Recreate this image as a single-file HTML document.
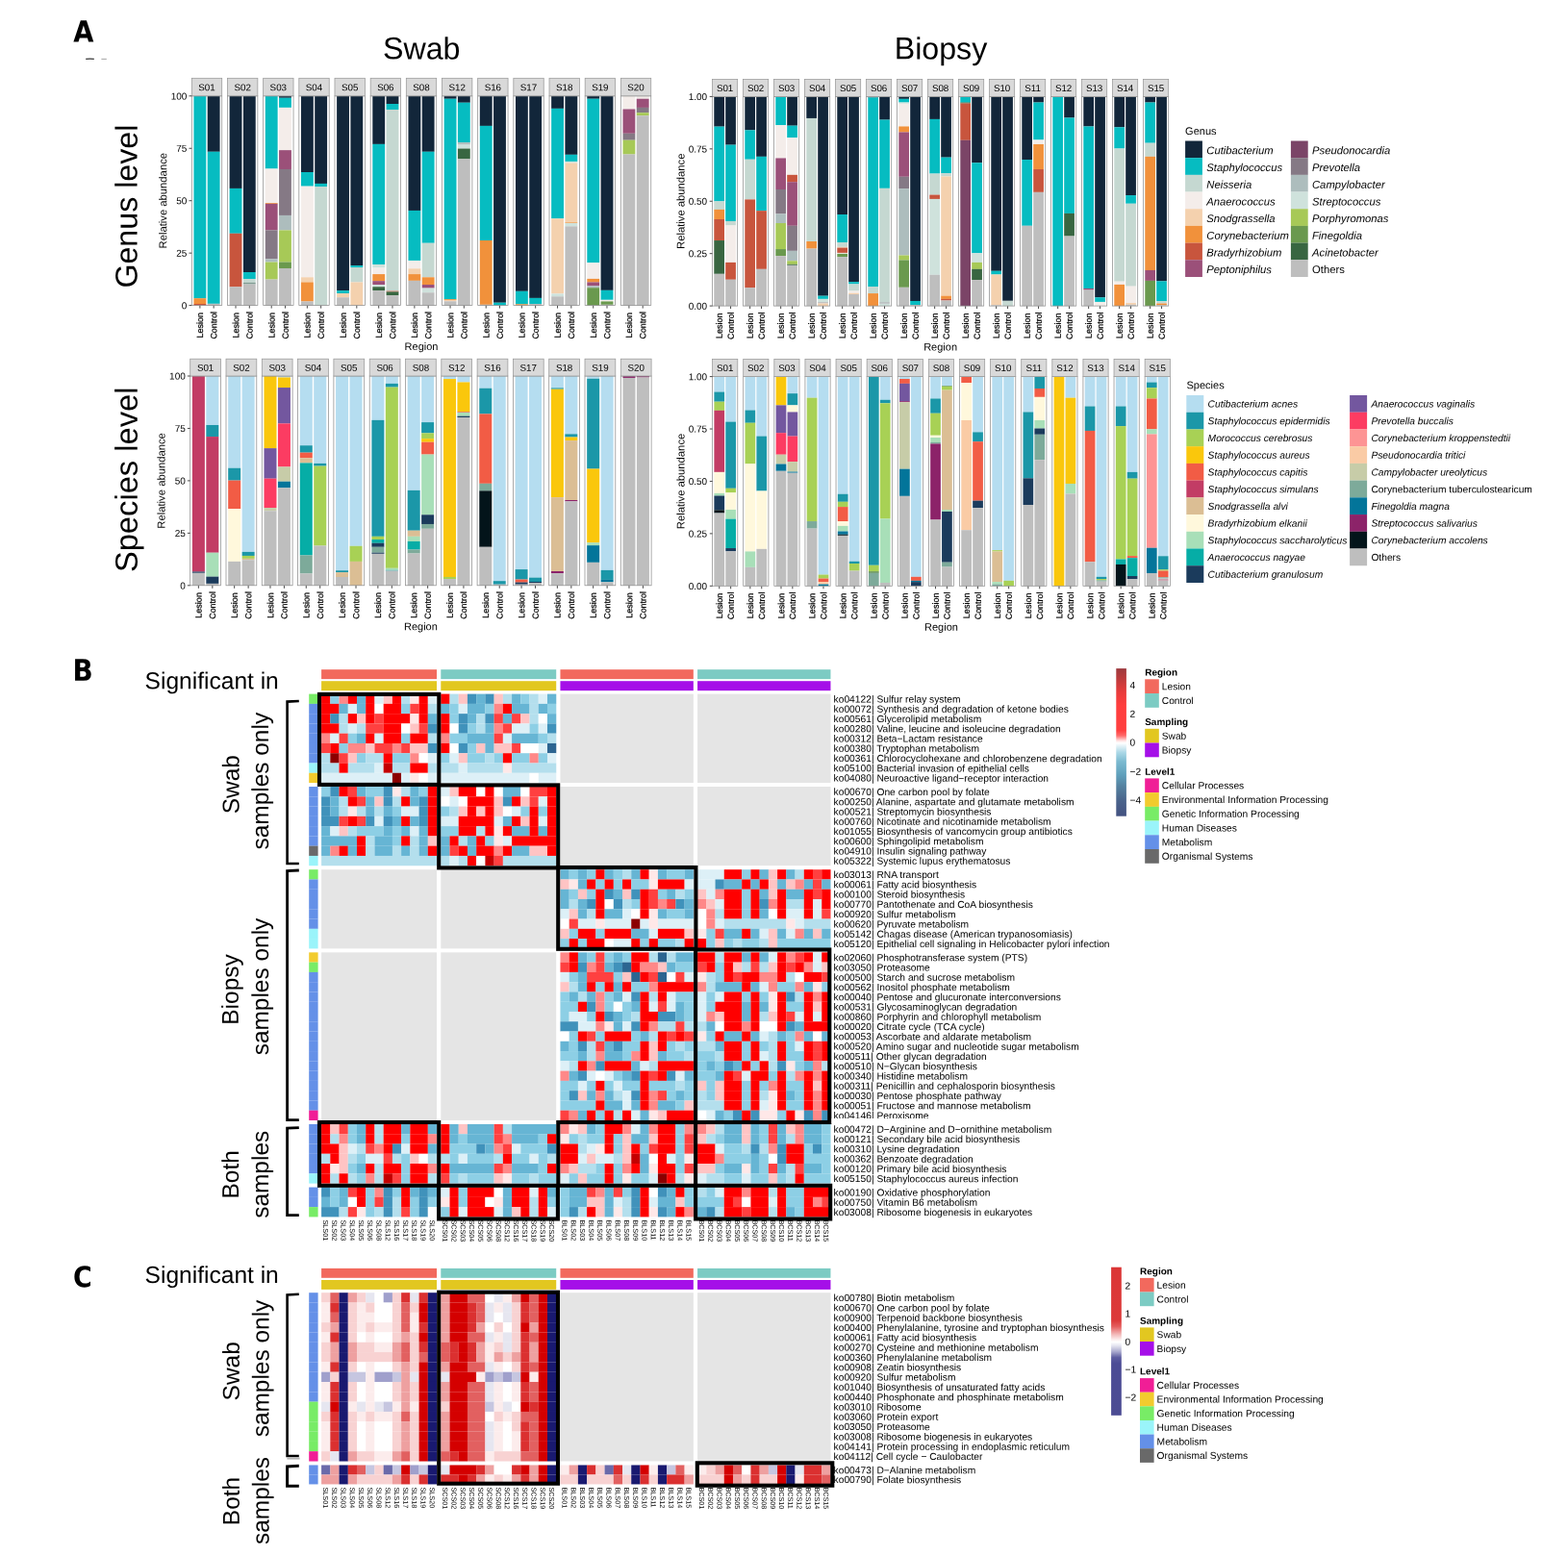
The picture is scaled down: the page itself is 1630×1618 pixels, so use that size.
<!DOCTYPE html>
<html lang="en">
<head>
<meta charset="utf-8">
<title>Microbiome composition and functional pathways: swab vs biopsy</title>
<style>
html,body{margin:0;padding:0;background:#fff;}
body{width:1630px;height:1618px;overflow:hidden;}
svg{display:block;font-family:"Liberation Sans",sans-serif;fill:#000;text-rendering:geometricPrecision;}
svg text{fill:#000;}
</style>
</head>
<body>
<svg width="1630" height="1618" viewBox="0 0 1630 1618">
<rect x="0" y="0" width="1630" height="1618" fill="#fff"/>
<g id="panelA">
<text x="76.2" y="43.5" font-size="30.4" font-weight="bold" font-family="'DejaVu Sans Condensed','DejaVu Sans','Liberation Sans',sans-serif" fill="#231F20" transform="rotate(0.03 76.2 43.5)">A</text>
<path d="M89.2 61.4 Q93.5 60.9 97.8 61.4" stroke="#222" stroke-width="1.3" fill="none" opacity="0.9"/>
<path d="M105.4 61.4 L110.8 61.4" stroke="#555" stroke-width="0.9" fill="none" opacity="0.6"/>
<text x="438.2" y="61.4" font-size="32.2" text-anchor="middle" transform="rotate(0.03 438.2 61.4)">Swab</text>
<text x="978" y="61.4" font-size="32.2" text-anchor="middle" transform="rotate(0.03 978 61.4)">Biopsy</text>
<text x="142.6" y="214.6" font-size="32.2" text-anchor="middle" transform="rotate(-89.97 142.6 214.6)">Genus level</text>
<text x="142.7" y="498.8" font-size="32.7" text-anchor="middle" transform="rotate(-89.97 142.7 498.8)">Species level</text>
<g>
<rect x="199.3" y="99.8" width="31.4" height="217.8" fill="#fff"/>
<rect x="201.44" y="99.8" width="12.85" height="210.45" fill="#06BCC1"/>
<rect x="201.44" y="310.2" width="12.85" height="5.85" fill="#F1913B"/>
<rect x="201.44" y="315.99" width="12.85" height="1.66" fill="#C8553D"/>
<line x1="207.86" y1="317.6" x2="207.86" y2="320.6" stroke="#333" stroke-width="0.9"/>
<text x="211.06" y="324.9" font-size="9" text-anchor="end" fill="#000" transform="rotate(-89.97 211.06 324.9)" stroke="#000" stroke-width="0.25">Lesion</text>
<rect x="215.71" y="99.8" width="12.85" height="58" fill="#12263A"/>
<rect x="215.71" y="157.75" width="12.85" height="158.13" fill="#06BCC1"/>
<rect x="215.71" y="315.83" width="12.85" height="1.82" fill="#BEBEBE"/>
<line x1="222.14" y1="317.6" x2="222.14" y2="320.6" stroke="#333" stroke-width="0.9"/>
<text x="225.34" y="323.9" font-size="8.9" text-anchor="end" fill="#000" transform="rotate(-89.97 225.34 323.9)" stroke="#000" stroke-width="0.25">Control</text>
<rect x="199.3" y="99.8" width="31.4" height="217.8" fill="none" stroke="#8f8f8f" stroke-width="0.75"/>
<rect x="199.3" y="81.3" width="31.4" height="18.5" fill="#D9D9D9" stroke="#999" stroke-width="0.75"/>
<text x="215" y="94.15" font-size="9.8" text-anchor="middle" fill="#1a1a1a" transform="rotate(0.03 215 94.15)">S01</text>
<rect x="236.47" y="99.8" width="31.4" height="217.8" fill="#fff"/>
<rect x="238.61" y="99.8" width="12.85" height="96.15" fill="#12263A"/>
<rect x="238.61" y="195.9" width="12.85" height="46.89" fill="#06BCC1"/>
<rect x="238.61" y="242.75" width="12.85" height="55.59" fill="#C8553D"/>
<rect x="238.61" y="298.28" width="12.85" height="19.37" fill="#BEBEBE"/>
<line x1="245.03" y1="317.6" x2="245.03" y2="320.6" stroke="#333" stroke-width="0.9"/>
<text x="248.23" y="324.9" font-size="9" text-anchor="end" fill="#000" transform="rotate(-89.97 248.23 324.9)" stroke="#000" stroke-width="0.25">Lesion</text>
<rect x="252.88" y="99.8" width="12.85" height="183.24" fill="#12263A"/>
<rect x="252.88" y="282.99" width="12.85" height="7.13" fill="#06BCC1"/>
<rect x="252.88" y="290.07" width="12.85" height="3.75" fill="#C5D8D1"/>
<rect x="252.88" y="293.78" width="12.85" height="1.82" fill="#7F9C92"/>
<rect x="252.88" y="295.55" width="12.85" height="22.1" fill="#BEBEBE"/>
<line x1="259.31" y1="317.6" x2="259.31" y2="320.6" stroke="#333" stroke-width="0.9"/>
<text x="262.51" y="323.9" font-size="8.9" text-anchor="end" fill="#000" transform="rotate(-89.97 262.51 323.9)" stroke="#000" stroke-width="0.25">Control</text>
<rect x="236.47" y="99.8" width="31.4" height="217.8" fill="none" stroke="#8f8f8f" stroke-width="0.75"/>
<rect x="236.47" y="81.3" width="31.4" height="18.5" fill="#D9D9D9" stroke="#999" stroke-width="0.75"/>
<text x="252.17" y="94.15" font-size="9.8" text-anchor="middle" fill="#1a1a1a" transform="rotate(0.03 252.17 94.15)">S02</text>
<rect x="273.64" y="99.8" width="31.4" height="217.8" fill="#fff"/>
<rect x="275.78" y="99.8" width="12.85" height="75.71" fill="#06BCC1"/>
<rect x="275.78" y="175.46" width="12.85" height="35.63" fill="#F4EDEA"/>
<rect x="275.78" y="211.03" width="12.85" height="0.85" fill="#F1913B"/>
<rect x="275.78" y="211.84" width="12.85" height="27.58" fill="#9B5079"/>
<rect x="275.78" y="239.37" width="12.85" height="29.99" fill="#857985"/>
<rect x="275.78" y="269.31" width="12.85" height="3.27" fill="#ADBDBD"/>
<rect x="275.78" y="272.53" width="12.85" height="18.08" fill="#A7C957"/>
<rect x="275.78" y="290.56" width="12.85" height="27.09" fill="#BEBEBE"/>
<line x1="282.2" y1="317.6" x2="282.2" y2="320.6" stroke="#333" stroke-width="0.9"/>
<text x="285.4" y="324.9" font-size="9" text-anchor="end" fill="#000" transform="rotate(-89.97 285.4 324.9)" stroke="#000" stroke-width="0.25">Lesion</text>
<rect x="290.05" y="99.8" width="12.85" height="1.98" fill="#12263A"/>
<rect x="290.05" y="101.73" width="12.85" height="10.19" fill="#06BCC1"/>
<rect x="290.05" y="111.87" width="12.85" height="44.32" fill="#F4EDEA"/>
<rect x="290.05" y="156.14" width="12.85" height="19.85" fill="#9B5079"/>
<rect x="290.05" y="175.94" width="12.85" height="48.02" fill="#857985"/>
<rect x="290.05" y="223.91" width="12.85" height="15.5" fill="#ADBDBD"/>
<rect x="290.05" y="239.37" width="12.85" height="33.21" fill="#A7C957"/>
<rect x="290.05" y="272.53" width="12.85" height="6.49" fill="#6A994E"/>
<rect x="290.05" y="278.97" width="12.85" height="38.68" fill="#BEBEBE"/>
<line x1="296.48" y1="317.6" x2="296.48" y2="320.6" stroke="#333" stroke-width="0.9"/>
<text x="299.68" y="323.9" font-size="8.9" text-anchor="end" fill="#000" transform="rotate(-89.97 299.68 323.9)" stroke="#000" stroke-width="0.25">Control</text>
<rect x="273.64" y="99.8" width="31.4" height="217.8" fill="none" stroke="#8f8f8f" stroke-width="0.75"/>
<rect x="273.64" y="81.3" width="31.4" height="18.5" fill="#D9D9D9" stroke="#999" stroke-width="0.75"/>
<text x="289.34" y="94.15" font-size="9.8" text-anchor="middle" fill="#1a1a1a" transform="rotate(0.03 289.34 94.15)">S03</text>
<rect x="310.81" y="99.8" width="31.4" height="217.8" fill="#fff"/>
<rect x="312.95" y="99.8" width="12.85" height="79.25" fill="#12263A"/>
<rect x="312.95" y="179" width="12.85" height="14.7" fill="#06BCC1"/>
<rect x="312.95" y="193.65" width="12.85" height="94.7" fill="#F4EDEA"/>
<rect x="312.95" y="288.3" width="12.85" height="5.2" fill="#F4D1AE"/>
<rect x="312.95" y="293.45" width="12.85" height="20.01" fill="#F1913B"/>
<rect x="312.95" y="313.41" width="12.85" height="4.24" fill="#BEBEBE"/>
<line x1="319.37" y1="317.6" x2="319.37" y2="320.6" stroke="#333" stroke-width="0.9"/>
<text x="322.57" y="324.9" font-size="9" text-anchor="end" fill="#000" transform="rotate(-89.97 322.57 324.9)" stroke="#000" stroke-width="0.25">Lesion</text>
<rect x="327.22" y="99.8" width="12.85" height="91.16" fill="#12263A"/>
<rect x="327.22" y="190.91" width="12.85" height="3.11" fill="#06BCC1"/>
<rect x="327.22" y="193.97" width="12.85" height="123.68" fill="#C5D8D1"/>
<line x1="333.65" y1="317.6" x2="333.65" y2="320.6" stroke="#333" stroke-width="0.9"/>
<text x="336.85" y="323.9" font-size="8.9" text-anchor="end" fill="#000" transform="rotate(-89.97 336.85 323.9)" stroke="#000" stroke-width="0.25">Control</text>
<rect x="310.81" y="99.8" width="31.4" height="217.8" fill="none" stroke="#8f8f8f" stroke-width="0.75"/>
<rect x="310.81" y="81.3" width="31.4" height="18.5" fill="#D9D9D9" stroke="#999" stroke-width="0.75"/>
<text x="326.51" y="94.15" font-size="9.8" text-anchor="middle" fill="#1a1a1a" transform="rotate(0.03 326.51 94.15)">S04</text>
<rect x="347.98" y="99.8" width="31.4" height="217.8" fill="#fff"/>
<rect x="350.12" y="99.8" width="12.85" height="202.4" fill="#12263A"/>
<rect x="350.12" y="302.15" width="12.85" height="2.95" fill="#06BCC1"/>
<rect x="350.12" y="305.04" width="12.85" height="4.24" fill="#F4D1AE"/>
<rect x="350.12" y="309.23" width="12.85" height="8.42" fill="#BEBEBE"/>
<line x1="356.54" y1="317.6" x2="356.54" y2="320.6" stroke="#333" stroke-width="0.9"/>
<text x="359.74" y="324.9" font-size="9" text-anchor="end" fill="#000" transform="rotate(-89.97 359.74 324.9)" stroke="#000" stroke-width="0.25">Lesion</text>
<rect x="364.39" y="99.8" width="12.85" height="176.32" fill="#12263A"/>
<rect x="364.39" y="276.07" width="12.85" height="1.98" fill="#06BCC1"/>
<rect x="364.39" y="278" width="12.85" height="15.5" fill="#C5D8D1"/>
<rect x="364.39" y="293.45" width="12.85" height="24.2" fill="#F4D1AE"/>
<line x1="370.82" y1="317.6" x2="370.82" y2="320.6" stroke="#333" stroke-width="0.9"/>
<text x="374.02" y="323.9" font-size="8.9" text-anchor="end" fill="#000" transform="rotate(-89.97 374.02 323.9)" stroke="#000" stroke-width="0.25">Control</text>
<rect x="347.98" y="99.8" width="31.4" height="217.8" fill="none" stroke="#8f8f8f" stroke-width="0.75"/>
<rect x="347.98" y="81.3" width="31.4" height="18.5" fill="#D9D9D9" stroke="#999" stroke-width="0.75"/>
<text x="363.68" y="94.15" font-size="9.8" text-anchor="middle" fill="#1a1a1a" transform="rotate(0.03 363.68 94.15)">S05</text>
<rect x="385.15" y="99.8" width="31.4" height="217.8" fill="#fff"/>
<rect x="387.29" y="99.8" width="12.85" height="50.11" fill="#12263A"/>
<rect x="387.29" y="149.86" width="12.85" height="125.13" fill="#06BCC1"/>
<rect x="387.29" y="274.94" width="12.85" height="3.59" fill="#CFE2DC"/>
<rect x="387.29" y="278.48" width="12.85" height="6.65" fill="#F4EDEA"/>
<rect x="387.29" y="285.08" width="12.85" height="7.13" fill="#F1913B"/>
<rect x="387.29" y="292.17" width="12.85" height="3.91" fill="#9B5079"/>
<rect x="387.29" y="296.03" width="12.85" height="2.3" fill="#CFE2DC"/>
<rect x="387.29" y="298.28" width="12.85" height="3.91" fill="#386641"/>
<rect x="387.29" y="302.15" width="12.85" height="15.5" fill="#BEBEBE"/>
<line x1="393.71" y1="317.6" x2="393.71" y2="320.6" stroke="#333" stroke-width="0.9"/>
<text x="396.91" y="324.9" font-size="9" text-anchor="end" fill="#000" transform="rotate(-89.97 396.91 324.9)" stroke="#000" stroke-width="0.25">Lesion</text>
<rect x="401.56" y="99.8" width="12.85" height="8.26" fill="#12263A"/>
<rect x="401.56" y="108.01" width="12.85" height="6.01" fill="#06BCC1"/>
<rect x="401.56" y="113.97" width="12.85" height="188.71" fill="#C5D8D1"/>
<rect x="401.56" y="302.63" width="12.85" height="0.85" fill="#C8553D"/>
<rect x="401.56" y="303.43" width="12.85" height="3.75" fill="#386641"/>
<rect x="401.56" y="307.14" width="12.85" height="10.51" fill="#BEBEBE"/>
<line x1="407.99" y1="317.6" x2="407.99" y2="320.6" stroke="#333" stroke-width="0.9"/>
<text x="411.19" y="323.9" font-size="8.9" text-anchor="end" fill="#000" transform="rotate(-89.97 411.19 323.9)" stroke="#000" stroke-width="0.25">Control</text>
<rect x="385.15" y="99.8" width="31.4" height="217.8" fill="none" stroke="#8f8f8f" stroke-width="0.75"/>
<rect x="385.15" y="81.3" width="31.4" height="18.5" fill="#D9D9D9" stroke="#999" stroke-width="0.75"/>
<text x="400.85" y="94.15" font-size="9.8" text-anchor="middle" fill="#1a1a1a" transform="rotate(0.03 400.85 94.15)">S06</text>
<rect x="422.32" y="99.8" width="31.4" height="217.8" fill="#fff"/>
<rect x="424.46" y="99.8" width="12.85" height="119.17" fill="#12263A"/>
<rect x="424.46" y="218.92" width="12.85" height="52.05" fill="#06BCC1"/>
<rect x="424.46" y="270.92" width="12.85" height="8.42" fill="#F4EDEA"/>
<rect x="424.46" y="279.29" width="12.85" height="5.85" fill="#F4D1AE"/>
<rect x="424.46" y="285.08" width="12.85" height="6.81" fill="#F1913B"/>
<rect x="424.46" y="291.84" width="12.85" height="25.81" fill="#BEBEBE"/>
<line x1="430.88" y1="317.6" x2="430.88" y2="320.6" stroke="#333" stroke-width="0.9"/>
<text x="434.08" y="324.9" font-size="9" text-anchor="end" fill="#000" transform="rotate(-89.97 434.08 324.9)" stroke="#000" stroke-width="0.25">Lesion</text>
<rect x="438.73" y="99.8" width="12.85" height="58" fill="#12263A"/>
<rect x="438.73" y="157.75" width="12.85" height="95.03" fill="#06BCC1"/>
<rect x="438.73" y="252.73" width="12.85" height="35.63" fill="#C5D8D1"/>
<rect x="438.73" y="288.3" width="12.85" height="7.78" fill="#F1913B"/>
<rect x="438.73" y="296.03" width="12.85" height="3.59" fill="#9B5079"/>
<rect x="438.73" y="299.57" width="12.85" height="4.72" fill="#CFE2DC"/>
<rect x="438.73" y="304.24" width="12.85" height="13.41" fill="#BEBEBE"/>
<line x1="445.16" y1="317.6" x2="445.16" y2="320.6" stroke="#333" stroke-width="0.9"/>
<text x="448.36" y="323.9" font-size="8.9" text-anchor="end" fill="#000" transform="rotate(-89.97 448.36 323.9)" stroke="#000" stroke-width="0.25">Control</text>
<rect x="422.32" y="99.8" width="31.4" height="217.8" fill="none" stroke="#8f8f8f" stroke-width="0.75"/>
<rect x="422.32" y="81.3" width="31.4" height="18.5" fill="#D9D9D9" stroke="#999" stroke-width="0.75"/>
<text x="438.02" y="94.15" font-size="9.8" text-anchor="middle" fill="#1a1a1a" transform="rotate(0.03 438.02 94.15)">S08</text>
<rect x="459.49" y="99.8" width="31.4" height="217.8" fill="#fff"/>
<rect x="461.63" y="99.8" width="12.85" height="2.95" fill="#12263A"/>
<rect x="461.63" y="102.7" width="12.85" height="208.51" fill="#06BCC1"/>
<rect x="461.63" y="311.16" width="12.85" height="0.85" fill="#F1913B"/>
<rect x="461.63" y="311.97" width="12.85" height="1.34" fill="#F4D1AE"/>
<rect x="461.63" y="313.25" width="12.85" height="4.4" fill="#BEBEBE"/>
<line x1="468.05" y1="317.6" x2="468.05" y2="320.6" stroke="#333" stroke-width="0.9"/>
<text x="471.25" y="324.9" font-size="9" text-anchor="end" fill="#000" transform="rotate(-89.97 471.25 324.9)" stroke="#000" stroke-width="0.25">Lesion</text>
<rect x="475.9" y="99.8" width="12.85" height="6.97" fill="#12263A"/>
<rect x="475.9" y="106.72" width="12.85" height="41.42" fill="#06BCC1"/>
<rect x="475.9" y="148.09" width="12.85" height="2.46" fill="#ADBDBD"/>
<rect x="475.9" y="150.51" width="12.85" height="4.07" fill="#CFE2DC"/>
<rect x="475.9" y="154.53" width="12.85" height="10.84" fill="#386641"/>
<rect x="475.9" y="165.32" width="12.85" height="152.33" fill="#BEBEBE"/>
<line x1="482.33" y1="317.6" x2="482.33" y2="320.6" stroke="#333" stroke-width="0.9"/>
<text x="485.53" y="323.9" font-size="8.9" text-anchor="end" fill="#000" transform="rotate(-89.97 485.53 323.9)" stroke="#000" stroke-width="0.25">Control</text>
<rect x="459.49" y="99.8" width="31.4" height="217.8" fill="none" stroke="#8f8f8f" stroke-width="0.75"/>
<rect x="459.49" y="81.3" width="31.4" height="18.5" fill="#D9D9D9" stroke="#999" stroke-width="0.75"/>
<text x="475.19" y="94.15" font-size="9.8" text-anchor="middle" fill="#1a1a1a" transform="rotate(0.03 475.19 94.15)">S12</text>
<rect x="496.66" y="99.8" width="31.4" height="217.8" fill="#fff"/>
<rect x="498.8" y="99.8" width="12.85" height="31.12" fill="#12263A"/>
<rect x="498.8" y="130.87" width="12.85" height="119.17" fill="#06BCC1"/>
<rect x="498.8" y="249.99" width="12.85" height="66.85" fill="#F1913B"/>
<rect x="498.8" y="316.8" width="12.85" height="0.85" fill="#BEBEBE"/>
<line x1="505.22" y1="317.6" x2="505.22" y2="320.6" stroke="#333" stroke-width="0.9"/>
<text x="508.42" y="324.9" font-size="9" text-anchor="end" fill="#000" transform="rotate(-89.97 508.42 324.9)" stroke="#000" stroke-width="0.25">Lesion</text>
<rect x="513.07" y="99.8" width="12.85" height="214.95" fill="#12263A"/>
<rect x="513.07" y="314.7" width="12.85" height="2.95" fill="#06BCC1"/>
<line x1="519.5" y1="317.6" x2="519.5" y2="320.6" stroke="#333" stroke-width="0.9"/>
<text x="522.7" y="323.9" font-size="8.9" text-anchor="end" fill="#000" transform="rotate(-89.97 522.7 323.9)" stroke="#000" stroke-width="0.25">Control</text>
<rect x="496.66" y="99.8" width="31.4" height="217.8" fill="none" stroke="#8f8f8f" stroke-width="0.75"/>
<rect x="496.66" y="81.3" width="31.4" height="18.5" fill="#D9D9D9" stroke="#999" stroke-width="0.75"/>
<text x="512.36" y="94.15" font-size="9.8" text-anchor="middle" fill="#1a1a1a" transform="rotate(0.03 512.36 94.15)">S16</text>
<rect x="533.83" y="99.8" width="31.4" height="217.8" fill="#fff"/>
<rect x="535.97" y="99.8" width="12.85" height="203.04" fill="#12263A"/>
<rect x="535.97" y="302.79" width="12.85" height="13.57" fill="#06BCC1"/>
<rect x="535.97" y="316.31" width="12.85" height="1.34" fill="#F1913B"/>
<line x1="542.39" y1="317.6" x2="542.39" y2="320.6" stroke="#333" stroke-width="0.9"/>
<text x="545.59" y="324.9" font-size="9" text-anchor="end" fill="#000" transform="rotate(-89.97 545.59 324.9)" stroke="#000" stroke-width="0.25">Lesion</text>
<rect x="550.24" y="99.8" width="12.85" height="210.12" fill="#12263A"/>
<rect x="550.24" y="309.87" width="12.85" height="6.17" fill="#06BCC1"/>
<rect x="550.24" y="315.99" width="12.85" height="1.66" fill="#BEBEBE"/>
<line x1="556.67" y1="317.6" x2="556.67" y2="320.6" stroke="#333" stroke-width="0.9"/>
<text x="559.87" y="323.9" font-size="8.9" text-anchor="end" fill="#000" transform="rotate(-89.97 559.87 323.9)" stroke="#000" stroke-width="0.25">Control</text>
<rect x="533.83" y="99.8" width="31.4" height="217.8" fill="none" stroke="#8f8f8f" stroke-width="0.75"/>
<rect x="533.83" y="81.3" width="31.4" height="18.5" fill="#D9D9D9" stroke="#999" stroke-width="0.75"/>
<text x="549.53" y="94.15" font-size="9.8" text-anchor="middle" fill="#1a1a1a" transform="rotate(0.03 549.53 94.15)">S17</text>
<rect x="571" y="99.8" width="31.4" height="217.8" fill="#fff"/>
<rect x="573.14" y="99.8" width="12.85" height="13.09" fill="#12263A"/>
<rect x="573.14" y="112.84" width="12.85" height="114.5" fill="#06BCC1"/>
<rect x="573.14" y="227.29" width="12.85" height="78.12" fill="#F4D1AE"/>
<rect x="573.14" y="305.37" width="12.85" height="2.95" fill="#CFE2DC"/>
<rect x="573.14" y="308.26" width="12.85" height="9.39" fill="#BEBEBE"/>
<line x1="579.56" y1="317.6" x2="579.56" y2="320.6" stroke="#333" stroke-width="0.9"/>
<text x="582.76" y="324.9" font-size="9" text-anchor="end" fill="#000" transform="rotate(-89.97 582.76 324.9)" stroke="#000" stroke-width="0.25">Lesion</text>
<rect x="587.41" y="99.8" width="12.85" height="61.06" fill="#12263A"/>
<rect x="587.41" y="160.81" width="12.85" height="7.13" fill="#06BCC1"/>
<rect x="587.41" y="167.89" width="12.85" height="1.66" fill="#CFE2DC"/>
<rect x="587.41" y="169.5" width="12.85" height="61.86" fill="#F4D1AE"/>
<rect x="587.41" y="231.32" width="12.85" height="0.69" fill="#F1913B"/>
<rect x="587.41" y="231.96" width="12.85" height="3.43" fill="#CFE2DC"/>
<rect x="587.41" y="235.34" width="12.85" height="82.31" fill="#BEBEBE"/>
<line x1="593.84" y1="317.6" x2="593.84" y2="320.6" stroke="#333" stroke-width="0.9"/>
<text x="597.04" y="323.9" font-size="8.9" text-anchor="end" fill="#000" transform="rotate(-89.97 597.04 323.9)" stroke="#000" stroke-width="0.25">Control</text>
<rect x="571" y="99.8" width="31.4" height="217.8" fill="none" stroke="#8f8f8f" stroke-width="0.75"/>
<rect x="571" y="81.3" width="31.4" height="18.5" fill="#D9D9D9" stroke="#999" stroke-width="0.75"/>
<text x="586.7" y="94.15" font-size="9.8" text-anchor="middle" fill="#1a1a1a" transform="rotate(0.03 586.7 94.15)">S18</text>
<rect x="608.17" y="99.8" width="31.4" height="217.8" fill="#fff"/>
<rect x="610.31" y="99.8" width="12.85" height="2.95" fill="#12263A"/>
<rect x="610.31" y="102.7" width="12.85" height="170.52" fill="#06BCC1"/>
<rect x="610.31" y="273.17" width="12.85" height="16.79" fill="#F4EDEA"/>
<rect x="610.31" y="289.91" width="12.85" height="3.59" fill="#F1913B"/>
<rect x="610.31" y="293.45" width="12.85" height="3.91" fill="#9B5079"/>
<rect x="610.31" y="297.32" width="12.85" height="1.98" fill="#ADBDBD"/>
<rect x="610.31" y="299.25" width="12.85" height="18.4" fill="#6A994E"/>
<line x1="616.73" y1="317.6" x2="616.73" y2="320.6" stroke="#333" stroke-width="0.9"/>
<text x="619.93" y="324.9" font-size="9" text-anchor="end" fill="#000" transform="rotate(-89.97 619.93 324.9)" stroke="#000" stroke-width="0.25">Lesion</text>
<rect x="624.58" y="99.8" width="12.85" height="202.07" fill="#12263A"/>
<rect x="624.58" y="301.82" width="12.85" height="10.03" fill="#06BCC1"/>
<rect x="624.58" y="311.8" width="12.85" height="1.66" fill="#F4EDEA"/>
<rect x="624.58" y="313.41" width="12.85" height="3.43" fill="#6A994E"/>
<rect x="624.58" y="316.8" width="12.85" height="0.85" fill="#BEBEBE"/>
<line x1="631.01" y1="317.6" x2="631.01" y2="320.6" stroke="#333" stroke-width="0.9"/>
<text x="634.21" y="323.9" font-size="8.9" text-anchor="end" fill="#000" transform="rotate(-89.97 634.21 323.9)" stroke="#000" stroke-width="0.25">Control</text>
<rect x="608.17" y="99.8" width="31.4" height="217.8" fill="none" stroke="#8f8f8f" stroke-width="0.75"/>
<rect x="608.17" y="81.3" width="31.4" height="18.5" fill="#D9D9D9" stroke="#999" stroke-width="0.75"/>
<text x="623.87" y="94.15" font-size="9.8" text-anchor="middle" fill="#1a1a1a" transform="rotate(0.03 623.87 94.15)">S19</text>
<rect x="645.34" y="99.8" width="31.4" height="217.8" fill="#fff"/>
<rect x="647.48" y="99.8" width="12.85" height="13.73" fill="#F4EDEA"/>
<rect x="647.48" y="113.48" width="12.85" height="25.32" fill="#9B5079"/>
<rect x="647.48" y="138.76" width="12.85" height="6.97" fill="#857985"/>
<rect x="647.48" y="145.68" width="12.85" height="14.86" fill="#A7C957"/>
<rect x="647.48" y="160.49" width="12.85" height="157.16" fill="#BEBEBE"/>
<line x1="653.9" y1="317.6" x2="653.9" y2="320.6" stroke="#333" stroke-width="0.9"/>
<text x="657.1" y="324.9" font-size="9" text-anchor="end" fill="#000" transform="rotate(-89.97 657.1 324.9)" stroke="#000" stroke-width="0.25">Lesion</text>
<rect x="661.75" y="99.8" width="12.85" height="2.95" fill="#F4EDEA"/>
<rect x="661.75" y="102.7" width="12.85" height="9.23" fill="#9B5079"/>
<rect x="661.75" y="111.87" width="12.85" height="5.36" fill="#857985"/>
<rect x="661.75" y="117.19" width="12.85" height="3.11" fill="#A7C957"/>
<rect x="661.75" y="120.24" width="12.85" height="197.41" fill="#BEBEBE"/>
<line x1="668.18" y1="317.6" x2="668.18" y2="320.6" stroke="#333" stroke-width="0.9"/>
<text x="671.38" y="323.9" font-size="8.9" text-anchor="end" fill="#000" transform="rotate(-89.97 671.38 323.9)" stroke="#000" stroke-width="0.25">Control</text>
<rect x="645.34" y="99.8" width="31.4" height="217.8" fill="none" stroke="#8f8f8f" stroke-width="0.75"/>
<rect x="645.34" y="81.3" width="31.4" height="18.5" fill="#D9D9D9" stroke="#999" stroke-width="0.75"/>
<text x="661.04" y="94.15" font-size="9.8" text-anchor="middle" fill="#1a1a1a" transform="rotate(0.03 661.04 94.15)">S20</text>
<line x1="196.5" y1="99.8" x2="199.3" y2="99.8" stroke="#333" stroke-width="0.9"/>
<text x="194.4" y="103.4" font-size="10" text-anchor="end" fill="#000" transform="rotate(0.03 194.4 103.4)">100</text>
<line x1="196.5" y1="154.25" x2="199.3" y2="154.25" stroke="#333" stroke-width="0.9"/>
<text x="194.4" y="157.85" font-size="10" text-anchor="end" fill="#000" transform="rotate(0.03 194.4 157.85)">75</text>
<line x1="196.5" y1="208.7" x2="199.3" y2="208.7" stroke="#333" stroke-width="0.9"/>
<text x="194.4" y="212.3" font-size="10" text-anchor="end" fill="#000" transform="rotate(0.03 194.4 212.3)">50</text>
<line x1="196.5" y1="263.15" x2="199.3" y2="263.15" stroke="#333" stroke-width="0.9"/>
<text x="194.4" y="266.75" font-size="10" text-anchor="end" fill="#000" transform="rotate(0.03 194.4 266.75)">25</text>
<line x1="196.5" y1="317.6" x2="199.3" y2="317.6" stroke="#333" stroke-width="0.9"/>
<text x="194.4" y="321.2" font-size="10" text-anchor="end" fill="#000" transform="rotate(0.03 194.4 321.2)">0</text>
<text x="173.2" y="208.7" font-size="11.25" text-anchor="middle" transform="rotate(-89.97 173.2 208.7)">Relative abundance</text>
<text x="438.02" y="364" font-size="11" text-anchor="middle" transform="rotate(0.03 438.02 364)">Region</text>
</g>
<g>
<rect x="740.5" y="100.4" width="26.2" height="217.7" fill="#fff"/>
<rect x="742.29" y="100.4" width="10.72" height="31.26" fill="#12263A"/>
<rect x="742.29" y="131.61" width="10.72" height="77.77" fill="#06BCC1"/>
<rect x="742.29" y="209.33" width="10.72" height="8.58" fill="#C5D8D1"/>
<rect x="742.29" y="217.86" width="10.72" height="10.19" fill="#F1913B"/>
<rect x="742.29" y="228" width="10.72" height="22.09" fill="#C8553D"/>
<rect x="742.29" y="250.04" width="10.72" height="34.8" fill="#386641"/>
<rect x="742.29" y="284.79" width="10.72" height="33.36" fill="#BEBEBE"/>
<line x1="747.65" y1="318.1" x2="747.65" y2="321.1" stroke="#333" stroke-width="0.9"/>
<text x="750.85" y="325.4" font-size="9" text-anchor="end" fill="#000" transform="rotate(-89.97 750.85 325.4)" stroke="#000" stroke-width="0.25">Lesion</text>
<rect x="754.2" y="100.4" width="10.72" height="50.25" fill="#12263A"/>
<rect x="754.2" y="150.6" width="10.72" height="79.37" fill="#06BCC1"/>
<rect x="754.2" y="229.93" width="10.72" height="4.56" fill="#C5D8D1"/>
<rect x="754.2" y="234.43" width="10.72" height="38.51" fill="#F4EDEA"/>
<rect x="754.2" y="272.89" width="10.72" height="17.91" fill="#C8553D"/>
<rect x="754.2" y="290.75" width="10.72" height="27.4" fill="#BEBEBE"/>
<line x1="759.55" y1="318.1" x2="759.55" y2="321.1" stroke="#333" stroke-width="0.9"/>
<text x="762.75" y="324.4" font-size="8.9" text-anchor="end" fill="#000" transform="rotate(-89.97 762.75 324.4)" stroke="#000" stroke-width="0.25">Control</text>
<rect x="740.5" y="100.4" width="26.2" height="217.7" fill="none" stroke="#8f8f8f" stroke-width="0.75"/>
<rect x="740.5" y="82.5" width="26.2" height="17.9" fill="#D9D9D9" stroke="#999" stroke-width="0.75"/>
<text x="753.6" y="95.05" font-size="9.8" text-anchor="middle" fill="#1a1a1a" transform="rotate(0.03 753.6 95.05)">S01</text>
<rect x="772.5" y="100.4" width="26.2" height="217.7" fill="#fff"/>
<rect x="774.29" y="100.4" width="10.72" height="34.97" fill="#12263A"/>
<rect x="774.29" y="135.32" width="10.72" height="30.46" fill="#06BCC1"/>
<rect x="774.29" y="165.73" width="10.72" height="41.72" fill="#C5D8D1"/>
<rect x="774.29" y="207.4" width="10.72" height="91.92" fill="#C8553D"/>
<rect x="774.29" y="299.27" width="10.72" height="18.88" fill="#BEBEBE"/>
<line x1="779.65" y1="318.1" x2="779.65" y2="321.1" stroke="#333" stroke-width="0.9"/>
<text x="782.85" y="325.4" font-size="9" text-anchor="end" fill="#000" transform="rotate(-89.97 782.85 325.4)" stroke="#000" stroke-width="0.25">Lesion</text>
<rect x="786.2" y="100.4" width="10.72" height="62.48" fill="#12263A"/>
<rect x="786.2" y="162.83" width="10.72" height="56.37" fill="#06BCC1"/>
<rect x="786.2" y="219.15" width="10.72" height="60.71" fill="#C8553D"/>
<rect x="786.2" y="279.81" width="10.72" height="38.34" fill="#BEBEBE"/>
<line x1="791.55" y1="318.1" x2="791.55" y2="321.1" stroke="#333" stroke-width="0.9"/>
<text x="794.75" y="324.4" font-size="8.9" text-anchor="end" fill="#000" transform="rotate(-89.97 794.75 324.4)" stroke="#000" stroke-width="0.25">Control</text>
<rect x="772.5" y="100.4" width="26.2" height="217.7" fill="none" stroke="#8f8f8f" stroke-width="0.75"/>
<rect x="772.5" y="82.5" width="26.2" height="17.9" fill="#D9D9D9" stroke="#999" stroke-width="0.75"/>
<text x="785.6" y="95.05" font-size="9.8" text-anchor="middle" fill="#1a1a1a" transform="rotate(0.03 785.6 95.05)">S02</text>
<rect x="804.5" y="100.4" width="26.2" height="217.7" fill="#fff"/>
<rect x="806.29" y="100.4" width="10.72" height="29.82" fill="#06BCC1"/>
<rect x="806.29" y="130.17" width="10.72" height="34.32" fill="#F4EDEA"/>
<rect x="806.29" y="164.44" width="10.72" height="32.55" fill="#9B5079"/>
<rect x="806.29" y="196.94" width="10.72" height="25.47" fill="#857985"/>
<rect x="806.29" y="222.36" width="10.72" height="9.7" fill="#ADBDBD"/>
<rect x="806.29" y="232.02" width="10.72" height="27.08" fill="#A7C957"/>
<rect x="806.29" y="259.05" width="10.72" height="7.13" fill="#6A994E"/>
<rect x="806.29" y="266.13" width="10.72" height="52.02" fill="#BEBEBE"/>
<line x1="811.65" y1="318.1" x2="811.65" y2="321.1" stroke="#333" stroke-width="0.9"/>
<text x="814.85" y="325.4" font-size="9" text-anchor="end" fill="#000" transform="rotate(-89.97 814.85 325.4)" stroke="#000" stroke-width="0.25">Lesion</text>
<rect x="818.2" y="100.4" width="10.72" height="30.3" fill="#12263A"/>
<rect x="818.2" y="130.65" width="10.72" height="12.6" fill="#06BCC1"/>
<rect x="818.2" y="143.2" width="10.72" height="38.67" fill="#F4EDEA"/>
<rect x="818.2" y="181.82" width="10.72" height="7.45" fill="#C8553D"/>
<rect x="818.2" y="189.22" width="10.72" height="45.59" fill="#9B5079"/>
<rect x="818.2" y="234.75" width="10.72" height="26.12" fill="#857985"/>
<rect x="818.2" y="260.82" width="10.72" height="10.51" fill="#ADBDBD"/>
<rect x="818.2" y="271.28" width="10.72" height="3.59" fill="#A7C957"/>
<rect x="818.2" y="274.82" width="10.72" height="1.02" fill="#386641"/>
<rect x="818.2" y="275.78" width="10.72" height="42.37" fill="#BEBEBE"/>
<line x1="823.55" y1="318.1" x2="823.55" y2="321.1" stroke="#333" stroke-width="0.9"/>
<text x="826.75" y="324.4" font-size="8.9" text-anchor="end" fill="#000" transform="rotate(-89.97 826.75 324.4)" stroke="#000" stroke-width="0.25">Control</text>
<rect x="804.5" y="100.4" width="26.2" height="217.7" fill="none" stroke="#8f8f8f" stroke-width="0.75"/>
<rect x="804.5" y="82.5" width="26.2" height="17.9" fill="#D9D9D9" stroke="#999" stroke-width="0.75"/>
<text x="817.6" y="95.05" font-size="9.8" text-anchor="middle" fill="#1a1a1a" transform="rotate(0.03 817.6 95.05)">S03</text>
<rect x="836.5" y="100.4" width="26.2" height="217.7" fill="#fff"/>
<rect x="838.29" y="100.4" width="10.72" height="22.58" fill="#12263A"/>
<rect x="838.29" y="122.93" width="10.72" height="128.13" fill="#C5D8D1"/>
<rect x="838.29" y="251" width="10.72" height="7.61" fill="#F1913B"/>
<rect x="838.29" y="258.57" width="10.72" height="59.58" fill="#BEBEBE"/>
<line x1="843.65" y1="318.1" x2="843.65" y2="321.1" stroke="#333" stroke-width="0.9"/>
<text x="846.85" y="325.4" font-size="9" text-anchor="end" fill="#000" transform="rotate(-89.97 846.85 325.4)" stroke="#000" stroke-width="0.25">Lesion</text>
<rect x="850.2" y="100.4" width="10.72" height="207.29" fill="#12263A"/>
<rect x="850.2" y="307.64" width="10.72" height="3.27" fill="#06BCC1"/>
<rect x="850.2" y="310.86" width="10.72" height="3.27" fill="#CFE2DC"/>
<rect x="850.2" y="314.08" width="10.72" height="1.5" fill="#BEBEBE"/>
<rect x="850.2" y="315.53" width="10.72" height="2.62" fill="#F4D1AE"/>
<line x1="855.55" y1="318.1" x2="855.55" y2="321.1" stroke="#333" stroke-width="0.9"/>
<text x="858.75" y="324.4" font-size="8.9" text-anchor="end" fill="#000" transform="rotate(-89.97 858.75 324.4)" stroke="#000" stroke-width="0.25">Control</text>
<rect x="836.5" y="100.4" width="26.2" height="217.7" fill="none" stroke="#8f8f8f" stroke-width="0.75"/>
<rect x="836.5" y="82.5" width="26.2" height="17.9" fill="#D9D9D9" stroke="#999" stroke-width="0.75"/>
<text x="849.6" y="95.05" font-size="9.8" text-anchor="middle" fill="#1a1a1a" transform="rotate(0.03 849.6 95.05)">S04</text>
<rect x="868.5" y="100.4" width="26.2" height="217.7" fill="#fff"/>
<rect x="870.29" y="100.4" width="10.72" height="122.66" fill="#12263A"/>
<rect x="870.29" y="223.01" width="10.72" height="29.01" fill="#06BCC1"/>
<rect x="870.29" y="251.97" width="10.72" height="4.88" fill="#C5D8D1"/>
<rect x="870.29" y="256.8" width="10.72" height="0.85" fill="#F4D1AE"/>
<rect x="870.29" y="257.6" width="10.72" height="5.36" fill="#C8553D"/>
<rect x="870.29" y="262.91" width="10.72" height="1.02" fill="#F4EDEA"/>
<rect x="870.29" y="263.88" width="10.72" height="3.27" fill="#6A994E"/>
<rect x="870.29" y="267.09" width="10.72" height="51.06" fill="#BEBEBE"/>
<line x1="875.65" y1="318.1" x2="875.65" y2="321.1" stroke="#333" stroke-width="0.9"/>
<text x="878.85" y="325.4" font-size="9" text-anchor="end" fill="#000" transform="rotate(-89.97 878.85 325.4)" stroke="#000" stroke-width="0.25">Lesion</text>
<rect x="882.2" y="100.4" width="10.72" height="192.81" fill="#12263A"/>
<rect x="882.2" y="293.16" width="10.72" height="2.3" fill="#06BCC1"/>
<rect x="882.2" y="295.41" width="10.72" height="7.13" fill="#C5D8D1"/>
<rect x="882.2" y="302.49" width="10.72" height="2.3" fill="#F4EDEA"/>
<rect x="882.2" y="304.75" width="10.72" height="1.34" fill="#F4D1AE"/>
<rect x="882.2" y="306.03" width="10.72" height="12.12" fill="#BEBEBE"/>
<line x1="887.55" y1="318.1" x2="887.55" y2="321.1" stroke="#333" stroke-width="0.9"/>
<text x="890.75" y="324.4" font-size="8.9" text-anchor="end" fill="#000" transform="rotate(-89.97 890.75 324.4)" stroke="#000" stroke-width="0.25">Control</text>
<rect x="868.5" y="100.4" width="26.2" height="217.7" fill="none" stroke="#8f8f8f" stroke-width="0.75"/>
<rect x="868.5" y="82.5" width="26.2" height="17.9" fill="#D9D9D9" stroke="#999" stroke-width="0.75"/>
<text x="881.6" y="95.05" font-size="9.8" text-anchor="middle" fill="#1a1a1a" transform="rotate(0.03 881.6 95.05)">S05</text>
<rect x="900.5" y="100.4" width="26.2" height="217.7" fill="#fff"/>
<rect x="902.29" y="100.4" width="10.72" height="1.02" fill="#12263A"/>
<rect x="902.29" y="101.37" width="10.72" height="196.67" fill="#06BCC1"/>
<rect x="902.29" y="297.99" width="10.72" height="7.13" fill="#C5D8D1"/>
<rect x="902.29" y="305.07" width="10.72" height="13.08" fill="#F1913B"/>
<line x1="907.65" y1="318.1" x2="907.65" y2="321.1" stroke="#333" stroke-width="0.9"/>
<text x="910.85" y="325.4" font-size="9" text-anchor="end" fill="#000" transform="rotate(-89.97 910.85 325.4)" stroke="#000" stroke-width="0.25">Lesion</text>
<rect x="914.2" y="100.4" width="10.72" height="24.19" fill="#12263A"/>
<rect x="914.2" y="124.54" width="10.72" height="71.33" fill="#06BCC1"/>
<rect x="914.2" y="195.81" width="10.72" height="118.96" fill="#C5D8D1"/>
<rect x="914.2" y="314.72" width="10.72" height="0.85" fill="#857985"/>
<rect x="914.2" y="315.53" width="10.72" height="2.62" fill="#CFE2DC"/>
<line x1="919.55" y1="318.1" x2="919.55" y2="321.1" stroke="#333" stroke-width="0.9"/>
<text x="922.75" y="324.4" font-size="8.9" text-anchor="end" fill="#000" transform="rotate(-89.97 922.75 324.4)" stroke="#000" stroke-width="0.25">Control</text>
<rect x="900.5" y="100.4" width="26.2" height="217.7" fill="none" stroke="#8f8f8f" stroke-width="0.75"/>
<rect x="900.5" y="82.5" width="26.2" height="17.9" fill="#D9D9D9" stroke="#999" stroke-width="0.75"/>
<text x="913.6" y="95.05" font-size="9.8" text-anchor="middle" fill="#1a1a1a" transform="rotate(0.03 913.6 95.05)">S06</text>
<rect x="932.5" y="100.4" width="26.2" height="217.7" fill="#fff"/>
<rect x="934.29" y="100.4" width="10.72" height="2.46" fill="#12263A"/>
<rect x="934.29" y="102.81" width="10.72" height="3.75" fill="#06BCC1"/>
<rect x="934.29" y="106.51" width="10.72" height="1.34" fill="#CFE2DC"/>
<rect x="934.29" y="107.8" width="10.72" height="23.7" fill="#F4EDEA"/>
<rect x="934.29" y="131.45" width="10.72" height="6" fill="#F1913B"/>
<rect x="934.29" y="137.41" width="10.72" height="46.39" fill="#9B5079"/>
<rect x="934.29" y="183.75" width="10.72" height="12.44" fill="#857985"/>
<rect x="934.29" y="196.14" width="10.72" height="69.4" fill="#ADBDBD"/>
<rect x="934.29" y="265.49" width="10.72" height="5.04" fill="#A7C957"/>
<rect x="934.29" y="270.47" width="10.72" height="28.37" fill="#6A994E"/>
<rect x="934.29" y="298.79" width="10.72" height="19.36" fill="#BEBEBE"/>
<line x1="939.65" y1="318.1" x2="939.65" y2="321.1" stroke="#333" stroke-width="0.9"/>
<text x="942.85" y="325.4" font-size="9" text-anchor="end" fill="#000" transform="rotate(-89.97 942.85 325.4)" stroke="#000" stroke-width="0.25">Lesion</text>
<rect x="946.2" y="100.4" width="10.72" height="212.6" fill="#12263A"/>
<rect x="946.2" y="312.95" width="10.72" height="4.07" fill="#06BCC1"/>
<rect x="946.2" y="316.97" width="10.72" height="1.18" fill="#BEBEBE"/>
<line x1="951.55" y1="318.1" x2="951.55" y2="321.1" stroke="#333" stroke-width="0.9"/>
<text x="954.75" y="324.4" font-size="8.9" text-anchor="end" fill="#000" transform="rotate(-89.97 954.75 324.4)" stroke="#000" stroke-width="0.25">Control</text>
<rect x="932.5" y="100.4" width="26.2" height="217.7" fill="none" stroke="#8f8f8f" stroke-width="0.75"/>
<rect x="932.5" y="82.5" width="26.2" height="17.9" fill="#D9D9D9" stroke="#999" stroke-width="0.75"/>
<text x="945.6" y="95.05" font-size="9.8" text-anchor="middle" fill="#1a1a1a" transform="rotate(0.03 945.6 95.05)">S07</text>
<rect x="964.5" y="100.4" width="26.2" height="217.7" fill="#fff"/>
<rect x="966.29" y="100.4" width="10.72" height="23.54" fill="#12263A"/>
<rect x="966.29" y="123.89" width="10.72" height="56.69" fill="#06BCC1"/>
<rect x="966.29" y="180.53" width="10.72" height="22.09" fill="#C5D8D1"/>
<rect x="966.29" y="202.57" width="10.72" height="4.39" fill="#C8553D"/>
<rect x="966.29" y="206.92" width="10.72" height="78.89" fill="#CFE2DC"/>
<rect x="966.29" y="285.76" width="10.72" height="32.39" fill="#BEBEBE"/>
<line x1="971.65" y1="318.1" x2="971.65" y2="321.1" stroke="#333" stroke-width="0.9"/>
<text x="974.85" y="325.4" font-size="9" text-anchor="end" fill="#000" transform="rotate(-89.97 974.85 325.4)" stroke="#000" stroke-width="0.25">Lesion</text>
<rect x="978.2" y="100.4" width="10.72" height="63.28" fill="#12263A"/>
<rect x="978.2" y="163.63" width="10.72" height="16.46" fill="#06BCC1"/>
<rect x="978.2" y="180.05" width="10.72" height="3.43" fill="#C5D8D1"/>
<rect x="978.2" y="183.43" width="10.72" height="124.27" fill="#F4D1AE"/>
<rect x="978.2" y="307.64" width="10.72" height="3.27" fill="#F1913B"/>
<rect x="978.2" y="310.86" width="10.72" height="1.66" fill="#C8553D"/>
<rect x="978.2" y="312.47" width="10.72" height="5.68" fill="#BEBEBE"/>
<line x1="983.55" y1="318.1" x2="983.55" y2="321.1" stroke="#333" stroke-width="0.9"/>
<text x="986.75" y="324.4" font-size="8.9" text-anchor="end" fill="#000" transform="rotate(-89.97 986.75 324.4)" stroke="#000" stroke-width="0.25">Control</text>
<rect x="964.5" y="100.4" width="26.2" height="217.7" fill="none" stroke="#8f8f8f" stroke-width="0.75"/>
<rect x="964.5" y="82.5" width="26.2" height="17.9" fill="#D9D9D9" stroke="#999" stroke-width="0.75"/>
<text x="977.6" y="95.05" font-size="9.8" text-anchor="middle" fill="#1a1a1a" transform="rotate(0.03 977.6 95.05)">S08</text>
<rect x="996.5" y="100.4" width="26.2" height="217.7" fill="#fff"/>
<rect x="998.29" y="100.4" width="10.72" height="6.16" fill="#06BCC1"/>
<rect x="998.29" y="106.51" width="10.72" height="1.02" fill="#386641"/>
<rect x="998.29" y="107.48" width="10.72" height="38.34" fill="#C8553D"/>
<rect x="998.29" y="145.77" width="10.72" height="172.38" fill="#7B4467"/>
<line x1="1003.65" y1="318.1" x2="1003.65" y2="321.1" stroke="#333" stroke-width="0.9"/>
<text x="1006.85" y="325.4" font-size="9" text-anchor="end" fill="#000" transform="rotate(-89.97 1006.85 325.4)" stroke="#000" stroke-width="0.25">Lesion</text>
<rect x="1010.2" y="100.4" width="10.72" height="68.92" fill="#12263A"/>
<rect x="1010.2" y="169.27" width="10.72" height="94.02" fill="#06BCC1"/>
<rect x="1010.2" y="263.23" width="10.72" height="9.7" fill="#CFE2DC"/>
<rect x="1010.2" y="272.89" width="10.72" height="6.97" fill="#A7C957"/>
<rect x="1010.2" y="279.81" width="10.72" height="11.31" fill="#386641"/>
<rect x="1010.2" y="291.07" width="10.72" height="27.08" fill="#BEBEBE"/>
<line x1="1015.55" y1="318.1" x2="1015.55" y2="321.1" stroke="#333" stroke-width="0.9"/>
<text x="1018.75" y="324.4" font-size="8.9" text-anchor="end" fill="#000" transform="rotate(-89.97 1018.75 324.4)" stroke="#000" stroke-width="0.25">Control</text>
<rect x="996.5" y="100.4" width="26.2" height="217.7" fill="none" stroke="#8f8f8f" stroke-width="0.75"/>
<rect x="996.5" y="82.5" width="26.2" height="17.9" fill="#D9D9D9" stroke="#999" stroke-width="0.75"/>
<text x="1009.6" y="95.05" font-size="9.8" text-anchor="middle" fill="#1a1a1a" transform="rotate(0.03 1009.6 95.05)">S09</text>
<rect x="1028.5" y="100.4" width="26.2" height="217.7" fill="#fff"/>
<rect x="1030.29" y="100.4" width="10.72" height="181.39" fill="#12263A"/>
<rect x="1030.29" y="281.74" width="10.72" height="3.75" fill="#06BCC1"/>
<rect x="1030.29" y="285.44" width="10.72" height="31.91" fill="#F4D1AE"/>
<rect x="1030.29" y="317.3" width="10.72" height="0.85" fill="#BEBEBE"/>
<line x1="1035.65" y1="318.1" x2="1035.65" y2="321.1" stroke="#333" stroke-width="0.9"/>
<text x="1038.85" y="325.4" font-size="9" text-anchor="end" fill="#000" transform="rotate(-89.97 1038.85 325.4)" stroke="#000" stroke-width="0.25">Lesion</text>
<rect x="1042.2" y="100.4" width="10.72" height="212.44" fill="#12263A"/>
<rect x="1042.2" y="312.79" width="10.72" height="5.36" fill="#C5D8D1"/>
<line x1="1047.55" y1="318.1" x2="1047.55" y2="321.1" stroke="#333" stroke-width="0.9"/>
<text x="1050.75" y="324.4" font-size="8.9" text-anchor="end" fill="#000" transform="rotate(-89.97 1050.75 324.4)" stroke="#000" stroke-width="0.25">Control</text>
<rect x="1028.5" y="100.4" width="26.2" height="217.7" fill="none" stroke="#8f8f8f" stroke-width="0.75"/>
<rect x="1028.5" y="82.5" width="26.2" height="17.9" fill="#D9D9D9" stroke="#999" stroke-width="0.75"/>
<text x="1041.6" y="95.05" font-size="9.8" text-anchor="middle" fill="#1a1a1a" transform="rotate(0.03 1041.6 95.05)">S10</text>
<rect x="1060.5" y="100.4" width="26.2" height="217.7" fill="#fff"/>
<rect x="1062.29" y="100.4" width="10.72" height="65.7" fill="#12263A"/>
<rect x="1062.29" y="166.05" width="10.72" height="68.76" fill="#06BCC1"/>
<rect x="1062.29" y="234.75" width="10.72" height="83.4" fill="#BEBEBE"/>
<line x1="1067.65" y1="318.1" x2="1067.65" y2="321.1" stroke="#333" stroke-width="0.9"/>
<text x="1070.85" y="325.4" font-size="9" text-anchor="end" fill="#000" transform="rotate(-89.97 1070.85 325.4)" stroke="#000" stroke-width="0.25">Lesion</text>
<rect x="1074.2" y="100.4" width="10.72" height="6.16" fill="#12263A"/>
<rect x="1074.2" y="106.51" width="10.72" height="38.99" fill="#06BCC1"/>
<rect x="1074.2" y="145.45" width="10.72" height="4.56" fill="#F4EDEA"/>
<rect x="1074.2" y="149.96" width="10.72" height="26.12" fill="#F1913B"/>
<rect x="1074.2" y="176.02" width="10.72" height="23.86" fill="#C8553D"/>
<rect x="1074.2" y="199.84" width="10.72" height="118.31" fill="#BEBEBE"/>
<line x1="1079.55" y1="318.1" x2="1079.55" y2="321.1" stroke="#333" stroke-width="0.9"/>
<text x="1082.75" y="324.4" font-size="8.9" text-anchor="end" fill="#000" transform="rotate(-89.97 1082.75 324.4)" stroke="#000" stroke-width="0.25">Control</text>
<rect x="1060.5" y="100.4" width="26.2" height="217.7" fill="none" stroke="#8f8f8f" stroke-width="0.75"/>
<rect x="1060.5" y="82.5" width="26.2" height="17.9" fill="#D9D9D9" stroke="#999" stroke-width="0.75"/>
<text x="1073.6" y="95.05" font-size="9.8" text-anchor="middle" fill="#1a1a1a" transform="rotate(0.03 1073.6 95.05)">S11</text>
<rect x="1092.5" y="100.4" width="26.2" height="217.7" fill="#fff"/>
<rect x="1094.29" y="100.4" width="10.72" height="217.75" fill="#06BCC1"/>
<line x1="1099.65" y1="318.1" x2="1099.65" y2="321.1" stroke="#333" stroke-width="0.9"/>
<text x="1102.85" y="325.4" font-size="9" text-anchor="end" fill="#000" transform="rotate(-89.97 1102.85 325.4)" stroke="#000" stroke-width="0.25">Lesion</text>
<rect x="1106.2" y="100.4" width="10.72" height="22.09" fill="#12263A"/>
<rect x="1106.2" y="122.44" width="10.72" height="99.49" fill="#06BCC1"/>
<rect x="1106.2" y="221.88" width="10.72" height="23.7" fill="#386641"/>
<rect x="1106.2" y="245.53" width="10.72" height="72.62" fill="#BEBEBE"/>
<line x1="1111.55" y1="318.1" x2="1111.55" y2="321.1" stroke="#333" stroke-width="0.9"/>
<text x="1114.75" y="324.4" font-size="8.9" text-anchor="end" fill="#000" transform="rotate(-89.97 1114.75 324.4)" stroke="#000" stroke-width="0.25">Control</text>
<rect x="1092.5" y="100.4" width="26.2" height="217.7" fill="none" stroke="#8f8f8f" stroke-width="0.75"/>
<rect x="1092.5" y="82.5" width="26.2" height="17.9" fill="#D9D9D9" stroke="#999" stroke-width="0.75"/>
<text x="1105.6" y="95.05" font-size="9.8" text-anchor="middle" fill="#1a1a1a" transform="rotate(0.03 1105.6 95.05)">S12</text>
<rect x="1124.5" y="100.4" width="26.2" height="217.7" fill="#fff"/>
<rect x="1126.29" y="100.4" width="10.72" height="31.1" fill="#12263A"/>
<rect x="1126.29" y="131.45" width="10.72" height="168.51" fill="#06BCC1"/>
<rect x="1126.29" y="299.92" width="10.72" height="1.66" fill="#9B5079"/>
<rect x="1126.29" y="301.53" width="10.72" height="16.62" fill="#BEBEBE"/>
<line x1="1131.65" y1="318.1" x2="1131.65" y2="321.1" stroke="#333" stroke-width="0.9"/>
<text x="1134.85" y="325.4" font-size="9" text-anchor="end" fill="#000" transform="rotate(-89.97 1134.85 325.4)" stroke="#000" stroke-width="0.25">Lesion</text>
<rect x="1138.2" y="100.4" width="10.72" height="208.9" fill="#12263A"/>
<rect x="1138.2" y="309.25" width="10.72" height="4.72" fill="#06BCC1"/>
<rect x="1138.2" y="313.92" width="10.72" height="4.23" fill="#F4EDEA"/>
<line x1="1143.55" y1="318.1" x2="1143.55" y2="321.1" stroke="#333" stroke-width="0.9"/>
<text x="1146.75" y="324.4" font-size="8.9" text-anchor="end" fill="#000" transform="rotate(-89.97 1146.75 324.4)" stroke="#000" stroke-width="0.25">Control</text>
<rect x="1124.5" y="100.4" width="26.2" height="217.7" fill="none" stroke="#8f8f8f" stroke-width="0.75"/>
<rect x="1124.5" y="82.5" width="26.2" height="17.9" fill="#D9D9D9" stroke="#999" stroke-width="0.75"/>
<text x="1137.6" y="95.05" font-size="9.8" text-anchor="middle" fill="#1a1a1a" transform="rotate(0.03 1137.6 95.05)">S13</text>
<rect x="1156.5" y="100.4" width="26.2" height="217.7" fill="#fff"/>
<rect x="1158.29" y="100.4" width="10.72" height="31.91" fill="#12263A"/>
<rect x="1158.29" y="132.26" width="10.72" height="22.25" fill="#06BCC1"/>
<rect x="1158.29" y="154.46" width="10.72" height="138.26" fill="#C5D8D1"/>
<rect x="1158.29" y="292.68" width="10.72" height="3.27" fill="#F4EDEA"/>
<rect x="1158.29" y="295.9" width="10.72" height="22.25" fill="#F1913B"/>
<line x1="1163.65" y1="318.1" x2="1163.65" y2="321.1" stroke="#333" stroke-width="0.9"/>
<text x="1166.85" y="325.4" font-size="9" text-anchor="end" fill="#000" transform="rotate(-89.97 1166.85 325.4)" stroke="#000" stroke-width="0.25">Lesion</text>
<rect x="1170.2" y="100.4" width="10.72" height="102.71" fill="#12263A"/>
<rect x="1170.2" y="203.06" width="10.72" height="8.74" fill="#06BCC1"/>
<rect x="1170.2" y="211.74" width="10.72" height="85.97" fill="#C5D8D1"/>
<rect x="1170.2" y="297.67" width="10.72" height="17.43" fill="#F4EDEA"/>
<rect x="1170.2" y="315.04" width="10.72" height="1.82" fill="#F4D1AE"/>
<rect x="1170.2" y="316.81" width="10.72" height="1.34" fill="#BEBEBE"/>
<line x1="1175.55" y1="318.1" x2="1175.55" y2="321.1" stroke="#333" stroke-width="0.9"/>
<text x="1178.75" y="324.4" font-size="8.9" text-anchor="end" fill="#000" transform="rotate(-89.97 1178.75 324.4)" stroke="#000" stroke-width="0.25">Control</text>
<rect x="1156.5" y="100.4" width="26.2" height="217.7" fill="none" stroke="#8f8f8f" stroke-width="0.75"/>
<rect x="1156.5" y="82.5" width="26.2" height="17.9" fill="#D9D9D9" stroke="#999" stroke-width="0.75"/>
<text x="1169.6" y="95.05" font-size="9.8" text-anchor="middle" fill="#1a1a1a" transform="rotate(0.03 1169.6 95.05)">S14</text>
<rect x="1188.5" y="100.4" width="26.2" height="217.7" fill="#fff"/>
<rect x="1190.29" y="100.4" width="10.72" height="6.16" fill="#12263A"/>
<rect x="1190.29" y="106.51" width="10.72" height="42.21" fill="#06BCC1"/>
<rect x="1190.29" y="148.67" width="10.72" height="14.21" fill="#C5D8D1"/>
<rect x="1190.29" y="162.83" width="10.72" height="118.15" fill="#F1913B"/>
<rect x="1190.29" y="280.93" width="10.72" height="10.99" fill="#9B5079"/>
<rect x="1190.29" y="291.87" width="10.72" height="26.28" fill="#6A994E"/>
<line x1="1195.65" y1="318.1" x2="1195.65" y2="321.1" stroke="#333" stroke-width="0.9"/>
<text x="1198.85" y="325.4" font-size="9" text-anchor="end" fill="#000" transform="rotate(-89.97 1198.85 325.4)" stroke="#000" stroke-width="0.25">Lesion</text>
<rect x="1202.2" y="100.4" width="10.72" height="192.01" fill="#12263A"/>
<rect x="1202.2" y="292.36" width="10.72" height="20.81" fill="#06BCC1"/>
<rect x="1202.2" y="313.11" width="10.72" height="2.46" fill="#C5D8D1"/>
<rect x="1202.2" y="315.53" width="10.72" height="1.82" fill="#F1913B"/>
<rect x="1202.2" y="317.3" width="10.72" height="0.85" fill="#BEBEBE"/>
<line x1="1207.55" y1="318.1" x2="1207.55" y2="321.1" stroke="#333" stroke-width="0.9"/>
<text x="1210.75" y="324.4" font-size="8.9" text-anchor="end" fill="#000" transform="rotate(-89.97 1210.75 324.4)" stroke="#000" stroke-width="0.25">Control</text>
<rect x="1188.5" y="100.4" width="26.2" height="217.7" fill="none" stroke="#8f8f8f" stroke-width="0.75"/>
<rect x="1188.5" y="82.5" width="26.2" height="17.9" fill="#D9D9D9" stroke="#999" stroke-width="0.75"/>
<text x="1201.6" y="95.05" font-size="9.8" text-anchor="middle" fill="#1a1a1a" transform="rotate(0.03 1201.6 95.05)">S15</text>
<line x1="737.7" y1="100.4" x2="740.5" y2="100.4" stroke="#333" stroke-width="0.9"/>
<text x="735.2" y="104" font-size="10" text-anchor="end" fill="#000" transform="rotate(0.03 735.2 104)">1.00</text>
<line x1="737.7" y1="154.83" x2="740.5" y2="154.83" stroke="#333" stroke-width="0.9"/>
<text x="735.2" y="158.43" font-size="10" text-anchor="end" fill="#000" transform="rotate(0.03 735.2 158.43)">0.75</text>
<line x1="737.7" y1="209.25" x2="740.5" y2="209.25" stroke="#333" stroke-width="0.9"/>
<text x="735.2" y="212.85" font-size="10" text-anchor="end" fill="#000" transform="rotate(0.03 735.2 212.85)">0.50</text>
<line x1="737.7" y1="263.68" x2="740.5" y2="263.68" stroke="#333" stroke-width="0.9"/>
<text x="735.2" y="267.28" font-size="10" text-anchor="end" fill="#000" transform="rotate(0.03 735.2 267.28)">0.25</text>
<line x1="737.7" y1="318.1" x2="740.5" y2="318.1" stroke="#333" stroke-width="0.9"/>
<text x="735.2" y="321.7" font-size="10" text-anchor="end" fill="#000" transform="rotate(0.03 735.2 321.7)">0.00</text>
<text x="711.6" y="209.25" font-size="11.25" text-anchor="middle" transform="rotate(-89.97 711.6 209.25)">Relative abundance</text>
<text x="977.6" y="364.5" font-size="11" text-anchor="middle" transform="rotate(0.03 977.6 364.5)">Region</text>
</g>
<g>
<rect x="197.7" y="391" width="31.8" height="217.8" fill="#fff"/>
<rect x="199.87" y="391" width="13.01" height="203.53" fill="#C23C65"/>
<rect x="199.87" y="594.48" width="13.01" height="1.34" fill="#1B3B5C"/>
<rect x="199.87" y="595.77" width="13.01" height="13.08" fill="#BEBEBE"/>
<line x1="206.37" y1="608.8" x2="206.37" y2="611.8" stroke="#333" stroke-width="0.9"/>
<text x="209.57" y="616.1" font-size="9" text-anchor="end" fill="#000" transform="rotate(-89.97 209.57 616.1)" stroke="#000" stroke-width="0.25">Lesion</text>
<rect x="214.32" y="391" width="13.01" height="51.04" fill="#B5DDF0"/>
<rect x="214.32" y="441.99" width="13.01" height="12.11" fill="#1B97A8"/>
<rect x="214.32" y="454.06" width="13.01" height="120.69" fill="#C23C65"/>
<rect x="214.32" y="574.7" width="13.01" height="24.98" fill="#A8DFB8"/>
<rect x="214.32" y="599.63" width="13.01" height="7.29" fill="#1B3B5C"/>
<rect x="214.32" y="606.87" width="13.01" height="1.98" fill="#BEBEBE"/>
<line x1="220.83" y1="608.8" x2="220.83" y2="611.8" stroke="#333" stroke-width="0.9"/>
<text x="224.03" y="615.1" font-size="8.9" text-anchor="end" fill="#000" transform="rotate(-89.97 224.03 615.1)" stroke="#000" stroke-width="0.25">Control</text>
<rect x="197.7" y="391" width="31.8" height="217.8" fill="none" stroke="#8f8f8f" stroke-width="0.75"/>
<rect x="197.7" y="373.2" width="31.8" height="17.8" fill="#D9D9D9" stroke="#999" stroke-width="0.75"/>
<text x="213.6" y="385.7" font-size="9.8" text-anchor="middle" fill="#1a1a1a" transform="rotate(0.03 213.6 385.7)">S01</text>
<rect x="235" y="391" width="31.8" height="217.8" fill="#fff"/>
<rect x="237.17" y="391" width="13.01" height="95.76" fill="#B5DDF0"/>
<rect x="237.17" y="486.71" width="13.01" height="12.92" fill="#1B97A8"/>
<rect x="237.17" y="499.58" width="13.01" height="29.65" fill="#F25C45"/>
<rect x="237.17" y="529.18" width="13.01" height="54.74" fill="#FFF8DC"/>
<rect x="237.17" y="583.87" width="13.01" height="24.98" fill="#BEBEBE"/>
<line x1="243.67" y1="608.8" x2="243.67" y2="611.8" stroke="#333" stroke-width="0.9"/>
<text x="246.87" y="616.1" font-size="9" text-anchor="end" fill="#000" transform="rotate(-89.97 246.87 616.1)" stroke="#000" stroke-width="0.25">Lesion</text>
<rect x="251.62" y="391" width="13.01" height="182.94" fill="#B5DDF0"/>
<rect x="251.62" y="573.89" width="13.01" height="4.07" fill="#1B97A8"/>
<rect x="251.62" y="577.92" width="13.01" height="2.95" fill="#A8D155"/>
<rect x="251.62" y="580.81" width="13.01" height="1.5" fill="#DBBE94"/>
<rect x="251.62" y="582.26" width="13.01" height="26.59" fill="#BEBEBE"/>
<line x1="258.13" y1="608.8" x2="258.13" y2="611.8" stroke="#333" stroke-width="0.9"/>
<text x="261.33" y="615.1" font-size="8.9" text-anchor="end" fill="#000" transform="rotate(-89.97 261.33 615.1)" stroke="#000" stroke-width="0.25">Control</text>
<rect x="235" y="391" width="31.8" height="217.8" fill="none" stroke="#8f8f8f" stroke-width="0.75"/>
<rect x="235" y="373.2" width="31.8" height="17.8" fill="#D9D9D9" stroke="#999" stroke-width="0.75"/>
<text x="250.9" y="385.7" font-size="9.8" text-anchor="middle" fill="#1a1a1a" transform="rotate(0.03 250.9 385.7)">S02</text>
<rect x="272.3" y="391" width="31.8" height="217.8" fill="#fff"/>
<rect x="274.47" y="391" width="13.01" height="75.17" fill="#FAC70C"/>
<rect x="274.47" y="466.12" width="13.01" height="31.58" fill="#73579F"/>
<rect x="274.47" y="497.65" width="13.01" height="30.45" fill="#FC3C62"/>
<rect x="274.47" y="528.05" width="13.01" height="3.27" fill="#C7CCA8"/>
<rect x="274.47" y="531.27" width="13.01" height="77.58" fill="#BEBEBE"/>
<line x1="280.97" y1="608.8" x2="280.97" y2="611.8" stroke="#333" stroke-width="0.9"/>
<text x="284.17" y="616.1" font-size="9" text-anchor="end" fill="#000" transform="rotate(-89.97 284.17 616.1)" stroke="#000" stroke-width="0.25">Lesion</text>
<rect x="288.92" y="391" width="13.01" height="1.5" fill="#B5DDF0"/>
<rect x="288.92" y="392.45" width="13.01" height="10.67" fill="#FAC70C"/>
<rect x="288.92" y="403.06" width="13.01" height="37.37" fill="#73579F"/>
<rect x="288.92" y="440.38" width="13.01" height="45.09" fill="#FC3C62"/>
<rect x="288.92" y="485.42" width="13.01" height="15.33" fill="#C7CCA8"/>
<rect x="288.92" y="500.7" width="13.01" height="6.65" fill="#03759A"/>
<rect x="288.92" y="507.3" width="13.01" height="101.55" fill="#BEBEBE"/>
<line x1="295.43" y1="608.8" x2="295.43" y2="611.8" stroke="#333" stroke-width="0.9"/>
<text x="298.63" y="615.1" font-size="8.9" text-anchor="end" fill="#000" transform="rotate(-89.97 298.63 615.1)" stroke="#000" stroke-width="0.25">Control</text>
<rect x="272.3" y="391" width="31.8" height="217.8" fill="none" stroke="#8f8f8f" stroke-width="0.75"/>
<rect x="272.3" y="373.2" width="31.8" height="17.8" fill="#D9D9D9" stroke="#999" stroke-width="0.75"/>
<text x="288.2" y="385.7" font-size="9.8" text-anchor="middle" fill="#1a1a1a" transform="rotate(0.03 288.2 385.7)">S03</text>
<rect x="309.6" y="391" width="31.8" height="217.8" fill="#fff"/>
<rect x="311.77" y="391" width="13.01" height="72.27" fill="#B5DDF0"/>
<rect x="311.77" y="463.22" width="13.01" height="7.45" fill="#1B97A8"/>
<rect x="311.77" y="470.62" width="13.01" height="5.68" fill="#F25C45"/>
<rect x="311.77" y="476.25" width="13.01" height="5.2" fill="#DBBE94"/>
<rect x="311.77" y="481.4" width="13.01" height="96.08" fill="#06ADA6"/>
<rect x="311.77" y="577.43" width="13.01" height="19.03" fill="#7DAA9A"/>
<rect x="311.77" y="596.41" width="13.01" height="12.44" fill="#BEBEBE"/>
<line x1="318.27" y1="608.8" x2="318.27" y2="611.8" stroke="#333" stroke-width="0.9"/>
<text x="321.47" y="616.1" font-size="9" text-anchor="end" fill="#000" transform="rotate(-89.97 321.47 616.1)" stroke="#000" stroke-width="0.25">Lesion</text>
<rect x="326.22" y="391" width="13.01" height="90.93" fill="#B5DDF0"/>
<rect x="326.22" y="481.88" width="13.01" height="2.78" fill="#1B97A8"/>
<rect x="326.22" y="484.62" width="13.01" height="82.89" fill="#A8D155"/>
<rect x="326.22" y="567.46" width="13.01" height="41.39" fill="#BEBEBE"/>
<line x1="332.73" y1="608.8" x2="332.73" y2="611.8" stroke="#333" stroke-width="0.9"/>
<text x="335.93" y="615.1" font-size="8.9" text-anchor="end" fill="#000" transform="rotate(-89.97 335.93 615.1)" stroke="#000" stroke-width="0.25">Control</text>
<rect x="309.6" y="391" width="31.8" height="217.8" fill="none" stroke="#8f8f8f" stroke-width="0.75"/>
<rect x="309.6" y="373.2" width="31.8" height="17.8" fill="#D9D9D9" stroke="#999" stroke-width="0.75"/>
<text x="325.5" y="385.7" font-size="9.8" text-anchor="middle" fill="#1a1a1a" transform="rotate(0.03 325.5 385.7)">S04</text>
<rect x="346.9" y="391" width="31.8" height="217.8" fill="#fff"/>
<rect x="349.07" y="391" width="13.01" height="202.25" fill="#B5DDF0"/>
<rect x="349.07" y="593.2" width="13.01" height="1.98" fill="#1B97A8"/>
<rect x="349.07" y="595.13" width="13.01" height="4.88" fill="#DBBE94"/>
<rect x="349.07" y="599.95" width="13.01" height="8.9" fill="#BEBEBE"/>
<line x1="355.57" y1="608.8" x2="355.57" y2="611.8" stroke="#333" stroke-width="0.9"/>
<text x="358.77" y="616.1" font-size="9" text-anchor="end" fill="#000" transform="rotate(-89.97 358.77 616.1)" stroke="#000" stroke-width="0.25">Lesion</text>
<rect x="363.52" y="391" width="13.01" height="176.83" fill="#B5DDF0"/>
<rect x="363.52" y="567.78" width="13.01" height="16.14" fill="#A8D155"/>
<rect x="363.52" y="583.87" width="13.01" height="24.98" fill="#DBBE94"/>
<line x1="370.03" y1="608.8" x2="370.03" y2="611.8" stroke="#333" stroke-width="0.9"/>
<text x="373.23" y="615.1" font-size="8.9" text-anchor="end" fill="#000" transform="rotate(-89.97 373.23 615.1)" stroke="#000" stroke-width="0.25">Control</text>
<rect x="346.9" y="391" width="31.8" height="217.8" fill="none" stroke="#8f8f8f" stroke-width="0.75"/>
<rect x="346.9" y="373.2" width="31.8" height="17.8" fill="#D9D9D9" stroke="#999" stroke-width="0.75"/>
<text x="362.8" y="385.7" font-size="9.8" text-anchor="middle" fill="#1a1a1a" transform="rotate(0.03 362.8 385.7)">S05</text>
<rect x="384.2" y="391" width="31.8" height="217.8" fill="#fff"/>
<rect x="386.37" y="391" width="13.01" height="45.89" fill="#B5DDF0"/>
<rect x="386.37" y="436.84" width="13.01" height="121.01" fill="#1B97A8"/>
<rect x="386.37" y="557.81" width="13.01" height="3.27" fill="#A8D155"/>
<rect x="386.37" y="561.03" width="13.01" height="3.75" fill="#06ADA6"/>
<rect x="386.37" y="564.73" width="13.01" height="4.07" fill="#1B3B5C"/>
<rect x="386.37" y="568.75" width="13.01" height="6" fill="#7DAA9A"/>
<rect x="386.37" y="574.7" width="13.01" height="1.18" fill="#1B3B5C"/>
<rect x="386.37" y="575.82" width="13.01" height="33.03" fill="#BEBEBE"/>
<line x1="392.87" y1="608.8" x2="392.87" y2="611.8" stroke="#333" stroke-width="0.9"/>
<text x="396.07" y="616.1" font-size="9" text-anchor="end" fill="#000" transform="rotate(-89.97 396.07 616.1)" stroke="#000" stroke-width="0.25">Lesion</text>
<rect x="400.82" y="391" width="13.01" height="7.93" fill="#B5DDF0"/>
<rect x="400.82" y="398.88" width="13.01" height="3.75" fill="#1B97A8"/>
<rect x="400.82" y="402.58" width="13.01" height="188.25" fill="#A8D155"/>
<rect x="400.82" y="590.78" width="13.01" height="2.14" fill="#A8DFB8"/>
<rect x="400.82" y="592.88" width="13.01" height="0.69" fill="#1B97A8"/>
<rect x="400.82" y="593.52" width="13.01" height="15.33" fill="#BEBEBE"/>
<line x1="407.33" y1="608.8" x2="407.33" y2="611.8" stroke="#333" stroke-width="0.9"/>
<text x="410.53" y="615.1" font-size="8.9" text-anchor="end" fill="#000" transform="rotate(-89.97 410.53 615.1)" stroke="#000" stroke-width="0.25">Control</text>
<rect x="384.2" y="391" width="31.8" height="217.8" fill="none" stroke="#8f8f8f" stroke-width="0.75"/>
<rect x="384.2" y="373.2" width="31.8" height="17.8" fill="#D9D9D9" stroke="#999" stroke-width="0.75"/>
<text x="400.1" y="385.7" font-size="9.8" text-anchor="middle" fill="#1a1a1a" transform="rotate(0.03 400.1 385.7)">S06</text>
<rect x="421.5" y="391" width="31.8" height="217.8" fill="#fff"/>
<rect x="423.67" y="391" width="13.01" height="118.92" fill="#B5DDF0"/>
<rect x="423.67" y="509.87" width="13.01" height="41.87" fill="#1B97A8"/>
<rect x="423.67" y="551.7" width="13.01" height="6.16" fill="#DBBE94"/>
<rect x="423.67" y="557.81" width="13.01" height="5.2" fill="#A8DFB8"/>
<rect x="423.67" y="562.96" width="13.01" height="8.58" fill="#06ADA6"/>
<rect x="423.67" y="571.48" width="13.01" height="4.07" fill="#7DAA9A"/>
<rect x="423.67" y="575.5" width="13.01" height="33.35" fill="#BEBEBE"/>
<line x1="430.17" y1="608.8" x2="430.17" y2="611.8" stroke="#333" stroke-width="0.9"/>
<text x="433.37" y="616.1" font-size="9" text-anchor="end" fill="#000" transform="rotate(-89.97 433.37 616.1)" stroke="#000" stroke-width="0.25">Lesion</text>
<rect x="438.12" y="391" width="13.01" height="48.15" fill="#B5DDF0"/>
<rect x="438.12" y="439.1" width="13.01" height="11.31" fill="#1B97A8"/>
<rect x="438.12" y="450.36" width="13.01" height="5.84" fill="#A8D155"/>
<rect x="438.12" y="456.15" width="13.01" height="3.59" fill="#FAC70C"/>
<rect x="438.12" y="459.69" width="13.01" height="12.92" fill="#F25C45"/>
<rect x="438.12" y="472.55" width="13.01" height="62.78" fill="#A8DFB8"/>
<rect x="438.12" y="535.29" width="13.01" height="9.7" fill="#1B3B5C"/>
<rect x="438.12" y="544.94" width="13.01" height="4.88" fill="#7DAA9A"/>
<rect x="438.12" y="549.77" width="13.01" height="59.08" fill="#BEBEBE"/>
<line x1="444.63" y1="608.8" x2="444.63" y2="611.8" stroke="#333" stroke-width="0.9"/>
<text x="447.83" y="615.1" font-size="8.9" text-anchor="end" fill="#000" transform="rotate(-89.97 447.83 615.1)" stroke="#000" stroke-width="0.25">Control</text>
<rect x="421.5" y="391" width="31.8" height="217.8" fill="none" stroke="#8f8f8f" stroke-width="0.75"/>
<rect x="421.5" y="373.2" width="31.8" height="17.8" fill="#D9D9D9" stroke="#999" stroke-width="0.75"/>
<text x="437.4" y="385.7" font-size="9.8" text-anchor="middle" fill="#1a1a1a" transform="rotate(0.03 437.4 385.7)">S08</text>
<rect x="458.8" y="391" width="31.8" height="217.8" fill="#fff"/>
<rect x="460.97" y="391" width="13.01" height="3.11" fill="#B5DDF0"/>
<rect x="460.97" y="394.06" width="13.01" height="205.95" fill="#FAC70C"/>
<rect x="460.97" y="599.95" width="13.01" height="2.14" fill="#A8D155"/>
<rect x="460.97" y="602.04" width="13.01" height="6.81" fill="#BEBEBE"/>
<line x1="467.47" y1="608.8" x2="467.47" y2="611.8" stroke="#333" stroke-width="0.9"/>
<text x="470.67" y="616.1" font-size="9" text-anchor="end" fill="#000" transform="rotate(-89.97 470.67 616.1)" stroke="#000" stroke-width="0.25">Lesion</text>
<rect x="475.42" y="391" width="13.01" height="6.48" fill="#B5DDF0"/>
<rect x="475.42" y="397.43" width="13.01" height="30.61" fill="#FAC70C"/>
<rect x="475.42" y="428" width="13.01" height="0.85" fill="#F25C45"/>
<rect x="475.42" y="428.8" width="13.01" height="3.91" fill="#A8DFB8"/>
<rect x="475.42" y="432.66" width="13.01" height="1.34" fill="#1B3B5C"/>
<rect x="475.42" y="433.95" width="13.01" height="174.9" fill="#BEBEBE"/>
<line x1="481.93" y1="608.8" x2="481.93" y2="611.8" stroke="#333" stroke-width="0.9"/>
<text x="485.13" y="615.1" font-size="8.9" text-anchor="end" fill="#000" transform="rotate(-89.97 485.13 615.1)" stroke="#000" stroke-width="0.25">Control</text>
<rect x="458.8" y="391" width="31.8" height="217.8" fill="none" stroke="#8f8f8f" stroke-width="0.75"/>
<rect x="458.8" y="373.2" width="31.8" height="17.8" fill="#D9D9D9" stroke="#999" stroke-width="0.75"/>
<text x="474.7" y="385.7" font-size="9.8" text-anchor="middle" fill="#1a1a1a" transform="rotate(0.03 474.7 385.7)">S12</text>
<rect x="496.1" y="391" width="31.8" height="217.8" fill="#fff"/>
<rect x="498.27" y="391" width="13.01" height="12.76" fill="#B5DDF0"/>
<rect x="498.27" y="403.71" width="13.01" height="26.75" fill="#1B97A8"/>
<rect x="498.27" y="430.41" width="13.01" height="72.44" fill="#F25C45"/>
<rect x="498.27" y="502.8" width="13.01" height="7.61" fill="#7DAA9A"/>
<rect x="498.27" y="510.36" width="13.01" height="58.44" fill="#03141A"/>
<rect x="498.27" y="568.75" width="13.01" height="40.1" fill="#BEBEBE"/>
<line x1="504.77" y1="608.8" x2="504.77" y2="611.8" stroke="#333" stroke-width="0.9"/>
<text x="507.97" y="616.1" font-size="9" text-anchor="end" fill="#000" transform="rotate(-89.97 507.97 616.1)" stroke="#000" stroke-width="0.25">Lesion</text>
<rect x="512.72" y="391" width="13.01" height="213.19" fill="#B5DDF0"/>
<rect x="512.72" y="604.14" width="13.01" height="3.59" fill="#1B97A8"/>
<rect x="512.72" y="607.67" width="13.01" height="1.18" fill="#BEBEBE"/>
<line x1="519.23" y1="608.8" x2="519.23" y2="611.8" stroke="#333" stroke-width="0.9"/>
<text x="522.43" y="615.1" font-size="8.9" text-anchor="end" fill="#000" transform="rotate(-89.97 522.43 615.1)" stroke="#000" stroke-width="0.25">Control</text>
<rect x="496.1" y="391" width="31.8" height="217.8" fill="none" stroke="#8f8f8f" stroke-width="0.75"/>
<rect x="496.1" y="373.2" width="31.8" height="17.8" fill="#D9D9D9" stroke="#999" stroke-width="0.75"/>
<text x="512" y="385.7" font-size="9.8" text-anchor="middle" fill="#1a1a1a" transform="rotate(0.03 512 385.7)">S16</text>
<rect x="533.4" y="391" width="31.8" height="217.8" fill="#fff"/>
<rect x="535.57" y="391" width="13.01" height="201.12" fill="#B5DDF0"/>
<rect x="535.57" y="592.07" width="13.01" height="10.51" fill="#1B97A8"/>
<rect x="535.57" y="602.53" width="13.01" height="3.11" fill="#F25C45"/>
<rect x="535.57" y="605.58" width="13.01" height="2.14" fill="#1B3B5C"/>
<rect x="535.57" y="607.67" width="13.01" height="1.18" fill="#BEBEBE"/>
<line x1="542.07" y1="608.8" x2="542.07" y2="611.8" stroke="#333" stroke-width="0.9"/>
<text x="545.27" y="616.1" font-size="9" text-anchor="end" fill="#000" transform="rotate(-89.97 545.27 616.1)" stroke="#000" stroke-width="0.25">Lesion</text>
<rect x="550.02" y="391" width="13.01" height="209.65" fill="#B5DDF0"/>
<rect x="550.02" y="600.6" width="13.01" height="4.39" fill="#1B97A8"/>
<rect x="550.02" y="604.94" width="13.01" height="1.18" fill="#1B3B5C"/>
<rect x="550.02" y="606.07" width="13.01" height="2.78" fill="#BEBEBE"/>
<line x1="556.53" y1="608.8" x2="556.53" y2="611.8" stroke="#333" stroke-width="0.9"/>
<text x="559.73" y="615.1" font-size="8.9" text-anchor="end" fill="#000" transform="rotate(-89.97 559.73 615.1)" stroke="#000" stroke-width="0.25">Control</text>
<rect x="533.4" y="391" width="31.8" height="217.8" fill="none" stroke="#8f8f8f" stroke-width="0.75"/>
<rect x="533.4" y="373.2" width="31.8" height="17.8" fill="#D9D9D9" stroke="#999" stroke-width="0.75"/>
<text x="549.3" y="385.7" font-size="9.8" text-anchor="middle" fill="#1a1a1a" transform="rotate(0.03 549.3 385.7)">S17</text>
<rect x="570.7" y="391" width="31.8" height="217.8" fill="#fff"/>
<rect x="572.87" y="391" width="13.01" height="12.44" fill="#B5DDF0"/>
<rect x="572.87" y="403.39" width="13.01" height="1.34" fill="#1B97A8"/>
<rect x="572.87" y="404.67" width="13.01" height="112.49" fill="#FAC70C"/>
<rect x="572.87" y="517.11" width="13.01" height="76.94" fill="#DBBE94"/>
<rect x="572.87" y="594" width="13.01" height="2.14" fill="#8C2369"/>
<rect x="572.87" y="596.09" width="13.01" height="12.76" fill="#BEBEBE"/>
<line x1="579.37" y1="608.8" x2="579.37" y2="611.8" stroke="#333" stroke-width="0.9"/>
<text x="582.57" y="616.1" font-size="9" text-anchor="end" fill="#000" transform="rotate(-89.97 582.57 616.1)" stroke="#000" stroke-width="0.25">Lesion</text>
<rect x="587.32" y="391" width="13.01" height="60.37" fill="#B5DDF0"/>
<rect x="587.32" y="451.32" width="13.01" height="3.27" fill="#1B97A8"/>
<rect x="587.32" y="454.54" width="13.01" height="3.59" fill="#FAC70C"/>
<rect x="587.32" y="458.08" width="13.01" height="61.98" fill="#DBBE94"/>
<rect x="587.32" y="520.01" width="13.01" height="1.34" fill="#8C2369"/>
<rect x="587.32" y="521.29" width="13.01" height="87.56" fill="#BEBEBE"/>
<line x1="593.83" y1="608.8" x2="593.83" y2="611.8" stroke="#333" stroke-width="0.9"/>
<text x="597.03" y="615.1" font-size="8.9" text-anchor="end" fill="#000" transform="rotate(-89.97 597.03 615.1)" stroke="#000" stroke-width="0.25">Control</text>
<rect x="570.7" y="391" width="31.8" height="217.8" fill="none" stroke="#8f8f8f" stroke-width="0.75"/>
<rect x="570.7" y="373.2" width="31.8" height="17.8" fill="#D9D9D9" stroke="#999" stroke-width="0.75"/>
<text x="586.6" y="385.7" font-size="9.8" text-anchor="middle" fill="#1a1a1a" transform="rotate(0.03 586.6 385.7)">S18</text>
<rect x="608" y="391" width="31.8" height="217.8" fill="#fff"/>
<rect x="610.17" y="391" width="13.01" height="2.78" fill="#B5DDF0"/>
<rect x="610.17" y="393.73" width="13.01" height="93.83" fill="#1B97A8"/>
<rect x="610.17" y="487.51" width="13.01" height="76.78" fill="#FAC70C"/>
<rect x="610.17" y="564.24" width="13.01" height="2.95" fill="#A8DFB8"/>
<rect x="610.17" y="567.14" width="13.01" height="17.74" fill="#03759A"/>
<rect x="610.17" y="584.83" width="13.01" height="24.02" fill="#BEBEBE"/>
<line x1="616.67" y1="608.8" x2="616.67" y2="611.8" stroke="#333" stroke-width="0.9"/>
<text x="619.87" y="616.1" font-size="9" text-anchor="end" fill="#000" transform="rotate(-89.97 619.87 616.1)" stroke="#000" stroke-width="0.25">Lesion</text>
<rect x="624.62" y="391" width="13.01" height="201.93" fill="#B5DDF0"/>
<rect x="624.62" y="592.88" width="13.01" height="10.02" fill="#1B97A8"/>
<rect x="624.62" y="602.85" width="13.01" height="2.46" fill="#03759A"/>
<rect x="624.62" y="605.26" width="13.01" height="3.59" fill="#BEBEBE"/>
<line x1="631.13" y1="608.8" x2="631.13" y2="611.8" stroke="#333" stroke-width="0.9"/>
<text x="634.33" y="615.1" font-size="8.9" text-anchor="end" fill="#000" transform="rotate(-89.97 634.33 615.1)" stroke="#000" stroke-width="0.25">Control</text>
<rect x="608" y="391" width="31.8" height="217.8" fill="none" stroke="#8f8f8f" stroke-width="0.75"/>
<rect x="608" y="373.2" width="31.8" height="17.8" fill="#D9D9D9" stroke="#999" stroke-width="0.75"/>
<text x="623.9" y="385.7" font-size="9.8" text-anchor="middle" fill="#1a1a1a" transform="rotate(0.03 623.9 385.7)">S19</text>
<rect x="645.3" y="391" width="31.8" height="217.8" fill="#fff"/>
<rect x="647.47" y="391" width="13.01" height="1.98" fill="#8C2369"/>
<rect x="647.47" y="392.93" width="13.01" height="215.92" fill="#BEBEBE"/>
<line x1="653.97" y1="608.8" x2="653.97" y2="611.8" stroke="#333" stroke-width="0.9"/>
<text x="657.17" y="616.1" font-size="9" text-anchor="end" fill="#000" transform="rotate(-89.97 657.17 616.1)" stroke="#000" stroke-width="0.25">Lesion</text>
<rect x="661.92" y="391" width="13.01" height="1.5" fill="#8C2369"/>
<rect x="661.92" y="392.45" width="13.01" height="216.4" fill="#BEBEBE"/>
<line x1="668.43" y1="608.8" x2="668.43" y2="611.8" stroke="#333" stroke-width="0.9"/>
<text x="671.63" y="615.1" font-size="8.9" text-anchor="end" fill="#000" transform="rotate(-89.97 671.63 615.1)" stroke="#000" stroke-width="0.25">Control</text>
<rect x="645.3" y="391" width="31.8" height="217.8" fill="none" stroke="#8f8f8f" stroke-width="0.75"/>
<rect x="645.3" y="373.2" width="31.8" height="17.8" fill="#D9D9D9" stroke="#999" stroke-width="0.75"/>
<text x="661.2" y="385.7" font-size="9.8" text-anchor="middle" fill="#1a1a1a" transform="rotate(0.03 661.2 385.7)">S20</text>
<line x1="194.9" y1="391" x2="197.7" y2="391" stroke="#333" stroke-width="0.9"/>
<text x="192.8" y="394.6" font-size="10" text-anchor="end" fill="#000" transform="rotate(0.03 192.8 394.6)">100</text>
<line x1="194.9" y1="445.45" x2="197.7" y2="445.45" stroke="#333" stroke-width="0.9"/>
<text x="192.8" y="449.05" font-size="10" text-anchor="end" fill="#000" transform="rotate(0.03 192.8 449.05)">75</text>
<line x1="194.9" y1="499.9" x2="197.7" y2="499.9" stroke="#333" stroke-width="0.9"/>
<text x="192.8" y="503.5" font-size="10" text-anchor="end" fill="#000" transform="rotate(0.03 192.8 503.5)">50</text>
<line x1="194.9" y1="554.35" x2="197.7" y2="554.35" stroke="#333" stroke-width="0.9"/>
<text x="192.8" y="557.95" font-size="10" text-anchor="end" fill="#000" transform="rotate(0.03 192.8 557.95)">25</text>
<line x1="194.9" y1="608.8" x2="197.7" y2="608.8" stroke="#333" stroke-width="0.9"/>
<text x="192.8" y="612.4" font-size="10" text-anchor="end" fill="#000" transform="rotate(0.03 192.8 612.4)">0</text>
<text x="171.6" y="499.9" font-size="11.25" text-anchor="middle" transform="rotate(-89.97 171.6 499.9)">Relative abundance</text>
<text x="437.4" y="655.2" font-size="11" text-anchor="middle" transform="rotate(0.03 437.4 655.2)">Region</text>
</g>
<g>
<rect x="740.6" y="391.6" width="26.2" height="217.7" fill="#fff"/>
<rect x="742.39" y="391.6" width="10.72" height="15.98" fill="#B5DDF0"/>
<rect x="742.39" y="407.53" width="10.72" height="10.19" fill="#1B97A8"/>
<rect x="742.39" y="417.67" width="10.72" height="9.22" fill="#A8D155"/>
<rect x="742.39" y="426.84" width="10.72" height="64.09" fill="#C23C65"/>
<rect x="742.39" y="490.88" width="10.72" height="22.09" fill="#FFF8DC"/>
<rect x="742.39" y="512.92" width="10.72" height="2.62" fill="#A8DFB8"/>
<rect x="742.39" y="515.49" width="10.72" height="14.85" fill="#1B3B5C"/>
<rect x="742.39" y="530.3" width="10.72" height="3.27" fill="#03141A"/>
<rect x="742.39" y="533.52" width="10.72" height="75.83" fill="#BEBEBE"/>
<line x1="747.75" y1="609.3" x2="747.75" y2="612.3" stroke="#333" stroke-width="0.9"/>
<text x="750.95" y="616.6" font-size="9" text-anchor="end" fill="#000" transform="rotate(-89.97 750.95 616.6)" stroke="#000" stroke-width="0.25">Lesion</text>
<rect x="754.3" y="391.6" width="10.72" height="47.03" fill="#B5DDF0"/>
<rect x="754.3" y="438.58" width="10.72" height="69.24" fill="#1B97A8"/>
<rect x="754.3" y="507.77" width="10.72" height="4.56" fill="#A8D155"/>
<rect x="754.3" y="512.28" width="10.72" height="17.75" fill="#FFF8DC"/>
<rect x="754.3" y="529.98" width="10.72" height="9.7" fill="#A8DFB8"/>
<rect x="754.3" y="539.63" width="10.72" height="30.46" fill="#06ADA6"/>
<rect x="754.3" y="570.04" width="10.72" height="3.27" fill="#1B3B5C"/>
<rect x="754.3" y="573.26" width="10.72" height="36.09" fill="#BEBEBE"/>
<line x1="759.65" y1="609.3" x2="759.65" y2="612.3" stroke="#333" stroke-width="0.9"/>
<text x="762.85" y="615.6" font-size="8.9" text-anchor="end" fill="#000" transform="rotate(-89.97 762.85 615.6)" stroke="#000" stroke-width="0.25">Control</text>
<rect x="740.6" y="391.6" width="26.2" height="217.7" fill="none" stroke="#8f8f8f" stroke-width="0.75"/>
<rect x="740.6" y="373.4" width="26.2" height="18.2" fill="#D9D9D9" stroke="#999" stroke-width="0.75"/>
<text x="753.7" y="386.1" font-size="9.8" text-anchor="middle" fill="#1a1a1a" transform="rotate(0.03 753.7 386.1)">S01</text>
<rect x="772.71" y="391.6" width="26.2" height="217.7" fill="#fff"/>
<rect x="774.5" y="391.6" width="10.72" height="34.97" fill="#B5DDF0"/>
<rect x="774.5" y="426.52" width="10.72" height="13.24" fill="#1B97A8"/>
<rect x="774.5" y="439.71" width="10.72" height="42.69" fill="#A8D155"/>
<rect x="774.5" y="482.35" width="10.72" height="91.12" fill="#FFF8DC"/>
<rect x="774.5" y="573.42" width="10.72" height="16.46" fill="#A8DFB8"/>
<rect x="774.5" y="589.83" width="10.72" height="19.52" fill="#BEBEBE"/>
<line x1="779.86" y1="609.3" x2="779.86" y2="612.3" stroke="#333" stroke-width="0.9"/>
<text x="783.06" y="616.6" font-size="9" text-anchor="end" fill="#000" transform="rotate(-89.97 783.06 616.6)" stroke="#000" stroke-width="0.25">Lesion</text>
<rect x="786.41" y="391.6" width="10.72" height="62" fill="#B5DDF0"/>
<rect x="786.41" y="453.55" width="10.72" height="57.01" fill="#1B97A8"/>
<rect x="786.41" y="510.51" width="10.72" height="60.39" fill="#FFF8DC"/>
<rect x="786.41" y="570.84" width="10.72" height="38.51" fill="#BEBEBE"/>
<line x1="791.76" y1="609.3" x2="791.76" y2="612.3" stroke="#333" stroke-width="0.9"/>
<text x="794.96" y="615.6" font-size="8.9" text-anchor="end" fill="#000" transform="rotate(-89.97 794.96 615.6)" stroke="#000" stroke-width="0.25">Control</text>
<rect x="772.71" y="391.6" width="26.2" height="217.7" fill="none" stroke="#8f8f8f" stroke-width="0.75"/>
<rect x="772.71" y="373.4" width="26.2" height="18.2" fill="#D9D9D9" stroke="#999" stroke-width="0.75"/>
<text x="785.81" y="386.1" font-size="9.8" text-anchor="middle" fill="#1a1a1a" transform="rotate(0.03 785.81 386.1)">S02</text>
<rect x="804.82" y="391.6" width="26.2" height="217.7" fill="#fff"/>
<rect x="806.61" y="391.6" width="10.72" height="29.82" fill="#FAC70C"/>
<rect x="806.61" y="421.37" width="10.72" height="28.85" fill="#73579F"/>
<rect x="806.61" y="450.17" width="10.72" height="22.58" fill="#FC3C62"/>
<rect x="806.61" y="472.69" width="10.72" height="9.87" fill="#C7CCA8"/>
<rect x="806.61" y="482.51" width="10.72" height="7.29" fill="#03759A"/>
<rect x="806.61" y="489.75" width="10.72" height="119.6" fill="#BEBEBE"/>
<line x1="811.97" y1="609.3" x2="811.97" y2="612.3" stroke="#333" stroke-width="0.9"/>
<text x="815.17" y="616.6" font-size="9" text-anchor="end" fill="#000" transform="rotate(-89.97 815.17 616.6)" stroke="#000" stroke-width="0.25">Lesion</text>
<rect x="818.52" y="391.6" width="10.72" height="17.59" fill="#B5DDF0"/>
<rect x="818.52" y="409.14" width="10.72" height="12.28" fill="#1B97A8"/>
<rect x="818.52" y="421.37" width="10.72" height="7.13" fill="#FFF8DC"/>
<rect x="818.52" y="428.45" width="10.72" height="25.15" fill="#73579F"/>
<rect x="818.52" y="453.55" width="10.72" height="26.6" fill="#FC3C62"/>
<rect x="818.52" y="480.1" width="10.72" height="10.51" fill="#C7CCA8"/>
<rect x="818.52" y="490.55" width="10.72" height="1.18" fill="#03759A"/>
<rect x="818.52" y="491.68" width="10.72" height="117.67" fill="#BEBEBE"/>
<line x1="823.87" y1="609.3" x2="823.87" y2="612.3" stroke="#333" stroke-width="0.9"/>
<text x="827.07" y="615.6" font-size="8.9" text-anchor="end" fill="#000" transform="rotate(-89.97 827.07 615.6)" stroke="#000" stroke-width="0.25">Control</text>
<rect x="804.82" y="391.6" width="26.2" height="217.7" fill="none" stroke="#8f8f8f" stroke-width="0.75"/>
<rect x="804.82" y="373.4" width="26.2" height="18.2" fill="#D9D9D9" stroke="#999" stroke-width="0.75"/>
<text x="817.92" y="386.1" font-size="9.8" text-anchor="middle" fill="#1a1a1a" transform="rotate(0.03 817.92 386.1)">S03</text>
<rect x="836.93" y="391.6" width="26.2" height="217.7" fill="#fff"/>
<rect x="838.72" y="391.6" width="10.72" height="22.09" fill="#B5DDF0"/>
<rect x="838.72" y="413.64" width="10.72" height="128.45" fill="#A8D155"/>
<rect x="838.72" y="542.04" width="10.72" height="7.61" fill="#7DAA9A"/>
<rect x="838.72" y="549.61" width="10.72" height="59.74" fill="#BEBEBE"/>
<line x1="844.08" y1="609.3" x2="844.08" y2="612.3" stroke="#333" stroke-width="0.9"/>
<text x="847.28" y="616.6" font-size="9" text-anchor="end" fill="#000" transform="rotate(-89.97 847.28 616.6)" stroke="#000" stroke-width="0.25">Lesion</text>
<rect x="850.63" y="391.6" width="10.72" height="206" fill="#B5DDF0"/>
<rect x="850.63" y="597.55" width="10.72" height="4.07" fill="#A8D155"/>
<rect x="850.63" y="601.58" width="10.72" height="3.59" fill="#F25C45"/>
<rect x="850.63" y="605.12" width="10.72" height="2.46" fill="#FACBA5"/>
<rect x="850.63" y="607.53" width="10.72" height="1.82" fill="#03759A"/>
<line x1="855.98" y1="609.3" x2="855.98" y2="612.3" stroke="#333" stroke-width="0.9"/>
<text x="859.18" y="615.6" font-size="8.9" text-anchor="end" fill="#000" transform="rotate(-89.97 859.18 615.6)" stroke="#000" stroke-width="0.25">Control</text>
<rect x="836.93" y="391.6" width="26.2" height="217.7" fill="none" stroke="#8f8f8f" stroke-width="0.75"/>
<rect x="836.93" y="373.4" width="26.2" height="18.2" fill="#D9D9D9" stroke="#999" stroke-width="0.75"/>
<text x="850.03" y="386.1" font-size="9.8" text-anchor="middle" fill="#1a1a1a" transform="rotate(0.03 850.03 386.1)">S04</text>
<rect x="869.04" y="391.6" width="26.2" height="217.7" fill="#fff"/>
<rect x="870.83" y="391.6" width="10.72" height="122.17" fill="#B5DDF0"/>
<rect x="870.83" y="513.72" width="10.72" height="8.1" fill="#1B97A8"/>
<rect x="870.83" y="521.77" width="10.72" height="5.36" fill="#A8D155"/>
<rect x="870.83" y="527.08" width="10.72" height="15.01" fill="#F25C45"/>
<rect x="870.83" y="542.04" width="10.72" height="4.88" fill="#FFF8DC"/>
<rect x="870.83" y="546.87" width="10.72" height="5.68" fill="#A8DFB8"/>
<rect x="870.83" y="552.5" width="10.72" height="3.27" fill="#03759A"/>
<rect x="870.83" y="555.72" width="10.72" height="1.18" fill="#03141A"/>
<rect x="870.83" y="556.85" width="10.72" height="52.5" fill="#BEBEBE"/>
<line x1="876.19" y1="609.3" x2="876.19" y2="612.3" stroke="#333" stroke-width="0.9"/>
<text x="879.39" y="616.6" font-size="9" text-anchor="end" fill="#000" transform="rotate(-89.97 879.39 616.6)" stroke="#000" stroke-width="0.25">Lesion</text>
<rect x="882.74" y="391.6" width="10.72" height="192.17" fill="#B5DDF0"/>
<rect x="882.74" y="583.72" width="10.72" height="2.3" fill="#1B97A8"/>
<rect x="882.74" y="585.97" width="10.72" height="7.61" fill="#A8D155"/>
<rect x="882.74" y="593.53" width="10.72" height="15.82" fill="#BEBEBE"/>
<line x1="888.09" y1="609.3" x2="888.09" y2="612.3" stroke="#333" stroke-width="0.9"/>
<text x="891.29" y="615.6" font-size="8.9" text-anchor="end" fill="#000" transform="rotate(-89.97 891.29 615.6)" stroke="#000" stroke-width="0.25">Control</text>
<rect x="869.04" y="391.6" width="26.2" height="217.7" fill="none" stroke="#8f8f8f" stroke-width="0.75"/>
<rect x="869.04" y="373.4" width="26.2" height="18.2" fill="#D9D9D9" stroke="#999" stroke-width="0.75"/>
<text x="882.14" y="386.1" font-size="9.8" text-anchor="middle" fill="#1a1a1a" transform="rotate(0.03 882.14 386.1)">S05</text>
<rect x="901.15" y="391.6" width="26.2" height="217.7" fill="#fff"/>
<rect x="902.94" y="391.6" width="10.72" height="196.19" fill="#1B97A8"/>
<rect x="902.94" y="587.74" width="10.72" height="6.49" fill="#A8D155"/>
<rect x="902.94" y="594.18" width="10.72" height="1.66" fill="#5E8F50"/>
<rect x="902.94" y="595.78" width="10.72" height="13.57" fill="#7DAA9A"/>
<line x1="908.3" y1="609.3" x2="908.3" y2="612.3" stroke="#333" stroke-width="0.9"/>
<text x="911.5" y="616.6" font-size="9" text-anchor="end" fill="#000" transform="rotate(-89.97 911.5 616.6)" stroke="#000" stroke-width="0.25">Lesion</text>
<rect x="914.85" y="391.6" width="10.72" height="24.19" fill="#B5DDF0"/>
<rect x="914.85" y="415.74" width="10.72" height="3.59" fill="#1B97A8"/>
<rect x="914.85" y="419.28" width="10.72" height="120.24" fill="#A8D155"/>
<rect x="914.85" y="539.47" width="10.72" height="66.5" fill="#A8DFB8"/>
<rect x="914.85" y="605.92" width="10.72" height="3.43" fill="#BEBEBE"/>
<line x1="920.2" y1="609.3" x2="920.2" y2="612.3" stroke="#333" stroke-width="0.9"/>
<text x="923.4" y="615.6" font-size="8.9" text-anchor="end" fill="#000" transform="rotate(-89.97 923.4 615.6)" stroke="#000" stroke-width="0.25">Control</text>
<rect x="901.15" y="391.6" width="26.2" height="217.7" fill="none" stroke="#8f8f8f" stroke-width="0.75"/>
<rect x="901.15" y="373.4" width="26.2" height="18.2" fill="#D9D9D9" stroke="#999" stroke-width="0.75"/>
<text x="914.25" y="386.1" font-size="9.8" text-anchor="middle" fill="#1a1a1a" transform="rotate(0.03 914.25 386.1)">S06</text>
<rect x="933.26" y="391.6" width="26.2" height="217.7" fill="#fff"/>
<rect x="935.05" y="391.6" width="10.72" height="2.46" fill="#B5DDF0"/>
<rect x="935.05" y="394.01" width="10.72" height="4.88" fill="#F25C45"/>
<rect x="935.05" y="398.84" width="10.72" height="18.39" fill="#73579F"/>
<rect x="935.05" y="417.18" width="10.72" height="1.02" fill="#8C2369"/>
<rect x="935.05" y="418.15" width="10.72" height="69.56" fill="#C7CCA8"/>
<rect x="935.05" y="487.66" width="10.72" height="28.21" fill="#03759A"/>
<rect x="935.05" y="515.82" width="10.72" height="93.53" fill="#BEBEBE"/>
<line x1="940.41" y1="609.3" x2="940.41" y2="612.3" stroke="#333" stroke-width="0.9"/>
<text x="943.61" y="616.6" font-size="9" text-anchor="end" fill="#000" transform="rotate(-89.97 943.61 616.6)" stroke="#000" stroke-width="0.25">Lesion</text>
<rect x="946.96" y="391.6" width="10.72" height="208.26" fill="#B5DDF0"/>
<rect x="946.96" y="599.81" width="10.72" height="4.07" fill="#F25C45"/>
<rect x="946.96" y="603.83" width="10.72" height="1.34" fill="#03759A"/>
<rect x="946.96" y="605.12" width="10.72" height="4.23" fill="#1B3B5C"/>
<line x1="952.31" y1="609.3" x2="952.31" y2="612.3" stroke="#333" stroke-width="0.9"/>
<text x="955.51" y="615.6" font-size="8.9" text-anchor="end" fill="#000" transform="rotate(-89.97 955.51 615.6)" stroke="#000" stroke-width="0.25">Control</text>
<rect x="933.26" y="391.6" width="26.2" height="217.7" fill="none" stroke="#8f8f8f" stroke-width="0.75"/>
<rect x="933.26" y="373.4" width="26.2" height="18.2" fill="#D9D9D9" stroke="#999" stroke-width="0.75"/>
<text x="946.36" y="386.1" font-size="9.8" text-anchor="middle" fill="#1a1a1a" transform="rotate(0.03 946.36 386.1)">S07</text>
<rect x="965.37" y="391.6" width="26.2" height="217.7" fill="#fff"/>
<rect x="967.16" y="391.6" width="10.72" height="22.9" fill="#B5DDF0"/>
<rect x="967.16" y="414.45" width="10.72" height="15.34" fill="#1B97A8"/>
<rect x="967.16" y="429.73" width="10.72" height="23.06" fill="#A8D155"/>
<rect x="967.16" y="452.74" width="10.72" height="2.3" fill="#FFF8DC"/>
<rect x="967.16" y="455" width="10.72" height="4.88" fill="#A8DFB8"/>
<rect x="967.16" y="459.82" width="10.72" height="1.66" fill="#7DAA9A"/>
<rect x="967.16" y="461.43" width="10.72" height="79.05" fill="#8C2369"/>
<rect x="967.16" y="540.43" width="10.72" height="68.92" fill="#BEBEBE"/>
<line x1="972.52" y1="609.3" x2="972.52" y2="612.3" stroke="#333" stroke-width="0.9"/>
<text x="975.72" y="616.6" font-size="9" text-anchor="end" fill="#000" transform="rotate(-89.97 975.72 616.6)" stroke="#000" stroke-width="0.25">Lesion</text>
<rect x="979.07" y="391.6" width="10.72" height="9.7" fill="#B5DDF0"/>
<rect x="979.07" y="401.25" width="10.72" height="0.69" fill="#5E8F50"/>
<rect x="979.07" y="401.9" width="10.72" height="3.75" fill="#A8D155"/>
<rect x="979.07" y="405.6" width="10.72" height="124.43" fill="#DBBE94"/>
<rect x="979.07" y="529.98" width="10.72" height="1.98" fill="#A8DFB8"/>
<rect x="979.07" y="531.91" width="10.72" height="52.83" fill="#1B3B5C"/>
<rect x="979.07" y="584.68" width="10.72" height="4.88" fill="#7DAA9A"/>
<rect x="979.07" y="589.51" width="10.72" height="19.84" fill="#BEBEBE"/>
<line x1="984.42" y1="609.3" x2="984.42" y2="612.3" stroke="#333" stroke-width="0.9"/>
<text x="987.62" y="615.6" font-size="8.9" text-anchor="end" fill="#000" transform="rotate(-89.97 987.62 615.6)" stroke="#000" stroke-width="0.25">Control</text>
<rect x="965.37" y="391.6" width="26.2" height="217.7" fill="none" stroke="#8f8f8f" stroke-width="0.75"/>
<rect x="965.37" y="373.4" width="26.2" height="18.2" fill="#D9D9D9" stroke="#999" stroke-width="0.75"/>
<text x="978.47" y="386.1" font-size="9.8" text-anchor="middle" fill="#1a1a1a" transform="rotate(0.03 978.47 386.1)">S08</text>
<rect x="997.48" y="391.6" width="26.2" height="217.7" fill="#fff"/>
<rect x="999.27" y="391.6" width="10.72" height="6.49" fill="#F25C45"/>
<rect x="999.27" y="398.04" width="10.72" height="38.99" fill="#FFF8DC"/>
<rect x="999.27" y="436.97" width="10.72" height="114.29" fill="#FACBA5"/>
<rect x="999.27" y="551.21" width="10.72" height="58.14" fill="#BEBEBE"/>
<line x1="1004.63" y1="609.3" x2="1004.63" y2="612.3" stroke="#333" stroke-width="0.9"/>
<text x="1007.83" y="616.6" font-size="9" text-anchor="end" fill="#000" transform="rotate(-89.97 1007.83 616.6)" stroke="#000" stroke-width="0.25">Lesion</text>
<rect x="1011.18" y="391.6" width="10.72" height="57.81" fill="#B5DDF0"/>
<rect x="1011.18" y="449.36" width="10.72" height="9.87" fill="#1B97A8"/>
<rect x="1011.18" y="459.18" width="10.72" height="61.51" fill="#F25C45"/>
<rect x="1011.18" y="520.64" width="10.72" height="7.61" fill="#1B3B5C"/>
<rect x="1011.18" y="528.21" width="10.72" height="81.14" fill="#BEBEBE"/>
<line x1="1016.53" y1="609.3" x2="1016.53" y2="612.3" stroke="#333" stroke-width="0.9"/>
<text x="1019.73" y="615.6" font-size="8.9" text-anchor="end" fill="#000" transform="rotate(-89.97 1019.73 615.6)" stroke="#000" stroke-width="0.25">Control</text>
<rect x="997.48" y="391.6" width="26.2" height="217.7" fill="none" stroke="#8f8f8f" stroke-width="0.75"/>
<rect x="997.48" y="373.4" width="26.2" height="18.2" fill="#D9D9D9" stroke="#999" stroke-width="0.75"/>
<text x="1010.58" y="386.1" font-size="9.8" text-anchor="middle" fill="#1a1a1a" transform="rotate(0.03 1010.58 386.1)">S09</text>
<rect x="1029.59" y="391.6" width="26.2" height="217.7" fill="#fff"/>
<rect x="1031.38" y="391.6" width="10.72" height="180.58" fill="#B5DDF0"/>
<rect x="1031.38" y="572.13" width="10.72" height="1.34" fill="#A8D155"/>
<rect x="1031.38" y="573.42" width="10.72" height="31.75" fill="#DBBE94"/>
<rect x="1031.38" y="605.12" width="10.72" height="2.46" fill="#A8DFB8"/>
<rect x="1031.38" y="607.53" width="10.72" height="1.82" fill="#7DAA9A"/>
<line x1="1036.74" y1="609.3" x2="1036.74" y2="612.3" stroke="#333" stroke-width="0.9"/>
<text x="1039.94" y="616.6" font-size="9" text-anchor="end" fill="#000" transform="rotate(-89.97 1039.94 616.6)" stroke="#000" stroke-width="0.25">Lesion</text>
<rect x="1043.29" y="391.6" width="10.72" height="212.28" fill="#B5DDF0"/>
<rect x="1043.29" y="603.83" width="10.72" height="5.52" fill="#A8D155"/>
<line x1="1048.64" y1="609.3" x2="1048.64" y2="612.3" stroke="#333" stroke-width="0.9"/>
<text x="1051.84" y="615.6" font-size="8.9" text-anchor="end" fill="#000" transform="rotate(-89.97 1051.84 615.6)" stroke="#000" stroke-width="0.25">Control</text>
<rect x="1029.59" y="391.6" width="26.2" height="217.7" fill="none" stroke="#8f8f8f" stroke-width="0.75"/>
<rect x="1029.59" y="373.4" width="26.2" height="18.2" fill="#D9D9D9" stroke="#999" stroke-width="0.75"/>
<text x="1042.69" y="386.1" font-size="9.8" text-anchor="middle" fill="#1a1a1a" transform="rotate(0.03 1042.69 386.1)">S10</text>
<rect x="1061.7" y="391.6" width="26.2" height="217.7" fill="#fff"/>
<rect x="1063.49" y="391.6" width="10.72" height="36.9" fill="#B5DDF0"/>
<rect x="1063.49" y="428.45" width="10.72" height="68.92" fill="#1B97A8"/>
<rect x="1063.49" y="497.31" width="10.72" height="27.73" fill="#1B3B5C"/>
<rect x="1063.49" y="524.99" width="10.72" height="84.36" fill="#BEBEBE"/>
<line x1="1068.85" y1="609.3" x2="1068.85" y2="612.3" stroke="#333" stroke-width="0.9"/>
<text x="1072.05" y="616.6" font-size="9" text-anchor="end" fill="#000" transform="rotate(-89.97 1072.05 616.6)" stroke="#000" stroke-width="0.25">Lesion</text>
<rect x="1075.4" y="391.6" width="10.72" height="12.44" fill="#1B97A8"/>
<rect x="1075.4" y="403.99" width="10.72" height="8.9" fill="#F25C45"/>
<rect x="1075.4" y="412.84" width="10.72" height="24.19" fill="#FFF8DC"/>
<rect x="1075.4" y="436.97" width="10.72" height="8.58" fill="#A8DFB8"/>
<rect x="1075.4" y="445.5" width="10.72" height="6.33" fill="#1B3B5C"/>
<rect x="1075.4" y="451.78" width="10.72" height="26.44" fill="#7DAA9A"/>
<rect x="1075.4" y="478.17" width="10.72" height="131.18" fill="#BEBEBE"/>
<line x1="1080.75" y1="609.3" x2="1080.75" y2="612.3" stroke="#333" stroke-width="0.9"/>
<text x="1083.95" y="615.6" font-size="8.9" text-anchor="end" fill="#000" transform="rotate(-89.97 1083.95 615.6)" stroke="#000" stroke-width="0.25">Control</text>
<rect x="1061.7" y="391.6" width="26.2" height="217.7" fill="none" stroke="#8f8f8f" stroke-width="0.75"/>
<rect x="1061.7" y="373.4" width="26.2" height="18.2" fill="#D9D9D9" stroke="#999" stroke-width="0.75"/>
<text x="1074.8" y="386.1" font-size="9.8" text-anchor="middle" fill="#1a1a1a" transform="rotate(0.03 1074.8 386.1)">S11</text>
<rect x="1093.81" y="391.6" width="26.2" height="217.7" fill="#fff"/>
<rect x="1095.6" y="391.6" width="10.72" height="217.75" fill="#FAC70C"/>
<line x1="1100.96" y1="609.3" x2="1100.96" y2="612.3" stroke="#333" stroke-width="0.9"/>
<text x="1104.16" y="616.6" font-size="9" text-anchor="end" fill="#000" transform="rotate(-89.97 1104.16 616.6)" stroke="#000" stroke-width="0.25">Lesion</text>
<rect x="1107.51" y="391.6" width="10.72" height="22.09" fill="#B5DDF0"/>
<rect x="1107.51" y="413.64" width="10.72" height="89.35" fill="#FAC70C"/>
<rect x="1107.51" y="502.94" width="10.72" height="10.51" fill="#A8DFB8"/>
<rect x="1107.51" y="513.4" width="10.72" height="95.95" fill="#BEBEBE"/>
<line x1="1112.86" y1="609.3" x2="1112.86" y2="612.3" stroke="#333" stroke-width="0.9"/>
<text x="1116.06" y="615.6" font-size="8.9" text-anchor="end" fill="#000" transform="rotate(-89.97 1116.06 615.6)" stroke="#000" stroke-width="0.25">Control</text>
<rect x="1093.81" y="391.6" width="26.2" height="217.7" fill="none" stroke="#8f8f8f" stroke-width="0.75"/>
<rect x="1093.81" y="373.4" width="26.2" height="18.2" fill="#D9D9D9" stroke="#999" stroke-width="0.75"/>
<text x="1106.91" y="386.1" font-size="9.8" text-anchor="middle" fill="#1a1a1a" transform="rotate(0.03 1106.91 386.1)">S12</text>
<rect x="1125.92" y="391.6" width="26.2" height="217.7" fill="#fff"/>
<rect x="1127.71" y="391.6" width="10.72" height="30.94" fill="#B5DDF0"/>
<rect x="1127.71" y="422.49" width="10.72" height="25.47" fill="#1B97A8"/>
<rect x="1127.71" y="447.92" width="10.72" height="136.33" fill="#F25C45"/>
<rect x="1127.71" y="584.2" width="10.72" height="25.15" fill="#BEBEBE"/>
<line x1="1133.07" y1="609.3" x2="1133.07" y2="612.3" stroke="#333" stroke-width="0.9"/>
<text x="1136.27" y="616.6" font-size="9" text-anchor="end" fill="#000" transform="rotate(-89.97 1136.27 616.6)" stroke="#000" stroke-width="0.25">Lesion</text>
<rect x="1139.62" y="391.6" width="10.72" height="208.26" fill="#B5DDF0"/>
<rect x="1139.62" y="599.81" width="10.72" height="2.3" fill="#1B97A8"/>
<rect x="1139.62" y="602.06" width="10.72" height="1.34" fill="#A8D155"/>
<rect x="1139.62" y="603.35" width="10.72" height="1.34" fill="#7DAA9A"/>
<rect x="1139.62" y="604.63" width="10.72" height="4.72" fill="#BEBEBE"/>
<line x1="1144.97" y1="609.3" x2="1144.97" y2="612.3" stroke="#333" stroke-width="0.9"/>
<text x="1148.17" y="615.6" font-size="8.9" text-anchor="end" fill="#000" transform="rotate(-89.97 1148.17 615.6)" stroke="#000" stroke-width="0.25">Control</text>
<rect x="1125.92" y="391.6" width="26.2" height="217.7" fill="none" stroke="#8f8f8f" stroke-width="0.75"/>
<rect x="1125.92" y="373.4" width="26.2" height="18.2" fill="#D9D9D9" stroke="#999" stroke-width="0.75"/>
<text x="1139.02" y="386.1" font-size="9.8" text-anchor="middle" fill="#1a1a1a" transform="rotate(0.03 1139.02 386.1)">S13</text>
<rect x="1158.03" y="391.6" width="26.2" height="217.7" fill="#fff"/>
<rect x="1159.82" y="391.6" width="10.72" height="30.94" fill="#B5DDF0"/>
<rect x="1159.82" y="422.49" width="10.72" height="20.65" fill="#1B97A8"/>
<rect x="1159.82" y="443.09" width="10.72" height="138.43" fill="#A8D155"/>
<rect x="1159.82" y="581.46" width="10.72" height="5.52" fill="#06ADA6"/>
<rect x="1159.82" y="586.93" width="10.72" height="22.42" fill="#03141A"/>
<line x1="1165.18" y1="609.3" x2="1165.18" y2="612.3" stroke="#333" stroke-width="0.9"/>
<text x="1168.38" y="616.6" font-size="9" text-anchor="end" fill="#000" transform="rotate(-89.97 1168.38 616.6)" stroke="#000" stroke-width="0.25">Lesion</text>
<rect x="1171.73" y="391.6" width="10.72" height="99.33" fill="#B5DDF0"/>
<rect x="1171.73" y="490.88" width="10.72" height="6.81" fill="#1B97A8"/>
<rect x="1171.73" y="497.63" width="10.72" height="80.5" fill="#A8D155"/>
<rect x="1171.73" y="578.09" width="10.72" height="2.14" fill="#F25C45"/>
<rect x="1171.73" y="580.18" width="10.72" height="18.88" fill="#06ADA6"/>
<rect x="1171.73" y="599" width="10.72" height="3.27" fill="#1B3B5C"/>
<rect x="1171.73" y="602.22" width="10.72" height="7.13" fill="#BEBEBE"/>
<line x1="1177.08" y1="609.3" x2="1177.08" y2="612.3" stroke="#333" stroke-width="0.9"/>
<text x="1180.28" y="615.6" font-size="8.9" text-anchor="end" fill="#000" transform="rotate(-89.97 1180.28 615.6)" stroke="#000" stroke-width="0.25">Control</text>
<rect x="1158.03" y="391.6" width="26.2" height="217.7" fill="none" stroke="#8f8f8f" stroke-width="0.75"/>
<rect x="1158.03" y="373.4" width="26.2" height="18.2" fill="#D9D9D9" stroke="#999" stroke-width="0.75"/>
<text x="1171.13" y="386.1" font-size="9.8" text-anchor="middle" fill="#1a1a1a" transform="rotate(0.03 1171.13 386.1)">S14</text>
<rect x="1190.14" y="391.6" width="26.2" height="217.7" fill="#fff"/>
<rect x="1191.93" y="391.6" width="10.72" height="6" fill="#B5DDF0"/>
<rect x="1191.93" y="397.55" width="10.72" height="5.68" fill="#1B97A8"/>
<rect x="1191.93" y="403.18" width="10.72" height="11.31" fill="#A8D155"/>
<rect x="1191.93" y="414.45" width="10.72" height="31.91" fill="#F25C45"/>
<rect x="1191.93" y="446.31" width="10.72" height="5.2" fill="#A8DFB8"/>
<rect x="1191.93" y="451.46" width="10.72" height="118.31" fill="#FD9494"/>
<rect x="1191.93" y="569.72" width="10.72" height="26.28" fill="#03759A"/>
<rect x="1191.93" y="595.95" width="10.72" height="13.4" fill="#BEBEBE"/>
<line x1="1197.29" y1="609.3" x2="1197.29" y2="612.3" stroke="#333" stroke-width="0.9"/>
<text x="1200.49" y="616.6" font-size="9" text-anchor="end" fill="#000" transform="rotate(-89.97 1200.49 616.6)" stroke="#000" stroke-width="0.25">Lesion</text>
<rect x="1203.84" y="391.6" width="10.72" height="186.7" fill="#B5DDF0"/>
<rect x="1203.84" y="578.25" width="10.72" height="14.05" fill="#1B97A8"/>
<rect x="1203.84" y="592.24" width="10.72" height="1.34" fill="#A8D155"/>
<rect x="1203.84" y="593.53" width="10.72" height="6.81" fill="#F25C45"/>
<rect x="1203.84" y="600.29" width="10.72" height="1.18" fill="#7DAA9A"/>
<rect x="1203.84" y="601.42" width="10.72" height="1.34" fill="#BEBEBE"/>
<rect x="1203.84" y="602.7" width="10.72" height="0.85" fill="#C23C65"/>
<rect x="1203.84" y="603.51" width="10.72" height="5.84" fill="#BEBEBE"/>
<line x1="1209.19" y1="609.3" x2="1209.19" y2="612.3" stroke="#333" stroke-width="0.9"/>
<text x="1212.39" y="615.6" font-size="8.9" text-anchor="end" fill="#000" transform="rotate(-89.97 1212.39 615.6)" stroke="#000" stroke-width="0.25">Control</text>
<rect x="1190.14" y="391.6" width="26.2" height="217.7" fill="none" stroke="#8f8f8f" stroke-width="0.75"/>
<rect x="1190.14" y="373.4" width="26.2" height="18.2" fill="#D9D9D9" stroke="#999" stroke-width="0.75"/>
<text x="1203.24" y="386.1" font-size="9.8" text-anchor="middle" fill="#1a1a1a" transform="rotate(0.03 1203.24 386.1)">S15</text>
<line x1="737.8" y1="391.6" x2="740.6" y2="391.6" stroke="#333" stroke-width="0.9"/>
<text x="735.2" y="395.2" font-size="10" text-anchor="end" fill="#000" transform="rotate(0.03 735.2 395.2)">1.00</text>
<line x1="737.8" y1="446.02" x2="740.6" y2="446.02" stroke="#333" stroke-width="0.9"/>
<text x="735.2" y="449.62" font-size="10" text-anchor="end" fill="#000" transform="rotate(0.03 735.2 449.62)">0.75</text>
<line x1="737.8" y1="500.45" x2="740.6" y2="500.45" stroke="#333" stroke-width="0.9"/>
<text x="735.2" y="504.05" font-size="10" text-anchor="end" fill="#000" transform="rotate(0.03 735.2 504.05)">0.50</text>
<line x1="737.8" y1="554.88" x2="740.6" y2="554.88" stroke="#333" stroke-width="0.9"/>
<text x="735.2" y="558.48" font-size="10" text-anchor="end" fill="#000" transform="rotate(0.03 735.2 558.48)">0.25</text>
<line x1="737.8" y1="609.3" x2="740.6" y2="609.3" stroke="#333" stroke-width="0.9"/>
<text x="735.2" y="612.9" font-size="10" text-anchor="end" fill="#000" transform="rotate(0.03 735.2 612.9)">0.00</text>
<text x="711.6" y="500.45" font-size="11.25" text-anchor="middle" transform="rotate(-89.97 711.6 500.45)">Relative abundance</text>
<text x="978.47" y="655.7" font-size="11" text-anchor="middle" transform="rotate(0.03 978.47 655.7)">Region</text>
</g>
<text x="1232.1" y="139.9" font-size="11" transform="rotate(0.03 1232.1 139.9)">Genus</text>
<rect x="1232.1" y="146.5" width="17.8" height="17.73" fill="#12263A"/>
<text x="1254.3" y="160.34" font-size="11.25" transform="rotate(0.03 1254.3 160.34)" font-style="italic">Cutibacterium</text>
<rect x="1232.1" y="164.18" width="17.8" height="17.73" fill="#06BCC1"/>
<text x="1254.3" y="178.02" font-size="11.25" transform="rotate(0.03 1254.3 178.02)" font-style="italic">Staphylococcus</text>
<rect x="1232.1" y="181.86" width="17.8" height="17.73" fill="#C5D8D1"/>
<text x="1254.3" y="195.7" font-size="11.25" transform="rotate(0.03 1254.3 195.7)" font-style="italic">Neisseria</text>
<rect x="1232.1" y="199.54" width="17.8" height="17.73" fill="#F4EDEA"/>
<text x="1254.3" y="213.38" font-size="11.25" transform="rotate(0.03 1254.3 213.38)" font-style="italic">Anaerococcus</text>
<rect x="1232.1" y="217.22" width="17.8" height="17.73" fill="#F4D1AE"/>
<text x="1254.3" y="231.06" font-size="11.25" transform="rotate(0.03 1254.3 231.06)" font-style="italic">Snodgrassella</text>
<rect x="1232.1" y="234.9" width="17.8" height="17.73" fill="#F1913B"/>
<text x="1254.3" y="248.74" font-size="11.25" transform="rotate(0.03 1254.3 248.74)" font-style="italic">Corynebacterium</text>
<rect x="1232.1" y="252.58" width="17.8" height="17.73" fill="#C8553D"/>
<text x="1254.3" y="266.42" font-size="11.25" transform="rotate(0.03 1254.3 266.42)" font-style="italic">Bradyrhizobium</text>
<rect x="1232.1" y="270.26" width="17.8" height="17.73" fill="#9B5079"/>
<text x="1254.3" y="284.1" font-size="11.25" transform="rotate(0.03 1254.3 284.1)" font-style="italic">Peptoniphilus</text>
<rect x="1341.9" y="146.5" width="17.8" height="17.73" fill="#7B4467"/>
<text x="1364" y="160.34" font-size="11.25" transform="rotate(0.03 1364 160.34)" font-style="italic">Pseudonocardia</text>
<rect x="1341.9" y="164.18" width="17.8" height="17.73" fill="#857985"/>
<text x="1364" y="178.02" font-size="11.25" transform="rotate(0.03 1364 178.02)" font-style="italic">Prevotella</text>
<rect x="1341.9" y="181.86" width="17.8" height="17.73" fill="#ADBDBD"/>
<text x="1364" y="195.7" font-size="11.25" transform="rotate(0.03 1364 195.7)" font-style="italic">Campylobacter</text>
<rect x="1341.9" y="199.54" width="17.8" height="17.73" fill="#CFE2DC"/>
<text x="1364" y="213.38" font-size="11.25" transform="rotate(0.03 1364 213.38)" font-style="italic">Streptococcus</text>
<rect x="1341.9" y="217.22" width="17.8" height="17.73" fill="#A7C957"/>
<text x="1364" y="231.06" font-size="11.25" transform="rotate(0.03 1364 231.06)" font-style="italic">Porphyromonas</text>
<rect x="1341.9" y="234.9" width="17.8" height="17.73" fill="#6A994E"/>
<text x="1364" y="248.74" font-size="11.25" transform="rotate(0.03 1364 248.74)" font-style="italic">Finegoldia</text>
<rect x="1341.9" y="252.58" width="17.8" height="17.73" fill="#386641"/>
<text x="1364" y="266.42" font-size="11.25" transform="rotate(0.03 1364 266.42)" font-style="italic">Acinetobacter</text>
<rect x="1341.9" y="270.26" width="17.8" height="17.73" fill="#BEBEBE"/>
<text x="1364" y="284.1" font-size="11.25" transform="rotate(0.03 1364 284.1)">Others</text>
<text x="1233.5" y="404.2" font-size="11" transform="rotate(0.03 1233.5 404.2)">Species</text>
<rect x="1233.3" y="411" width="18" height="17.77" fill="#B5DDF0"/>
<text x="1255.6" y="423.56" font-size="10.25" transform="rotate(0.03 1255.6 423.56)" font-style="italic">Cutibacterium acnes</text>
<rect x="1233.3" y="428.72" width="18" height="17.77" fill="#1B97A8"/>
<text x="1255.6" y="441.28" font-size="10.25" transform="rotate(0.03 1255.6 441.28)" font-style="italic">Staphylococcus epidermidis</text>
<rect x="1233.3" y="446.44" width="18" height="17.77" fill="#A8D155"/>
<text x="1255.6" y="459" font-size="10.25" transform="rotate(0.03 1255.6 459)" font-style="italic">Morococcus cerebrosus</text>
<rect x="1233.3" y="464.16" width="18" height="17.77" fill="#FAC70C"/>
<text x="1255.6" y="476.72" font-size="10.25" transform="rotate(0.03 1255.6 476.72)" font-style="italic">Staphylococcus aureus</text>
<rect x="1233.3" y="481.88" width="18" height="17.77" fill="#F25C45"/>
<text x="1255.6" y="494.44" font-size="10.25" transform="rotate(0.03 1255.6 494.44)" font-style="italic">Staphylococcus capitis</text>
<rect x="1233.3" y="499.6" width="18" height="17.77" fill="#C23C65"/>
<text x="1255.6" y="512.16" font-size="10.25" transform="rotate(0.03 1255.6 512.16)" font-style="italic">Staphylococcus simulans</text>
<rect x="1233.3" y="517.32" width="18" height="17.77" fill="#DBBE94"/>
<text x="1255.6" y="529.88" font-size="10.25" transform="rotate(0.03 1255.6 529.88)" font-style="italic">Snodgrassella alvi</text>
<rect x="1233.3" y="535.04" width="18" height="17.77" fill="#FFF8DC"/>
<text x="1255.6" y="547.6" font-size="10.25" transform="rotate(0.03 1255.6 547.6)" font-style="italic">Bradyrhizobium elkanii</text>
<rect x="1233.3" y="552.76" width="18" height="17.77" fill="#A8DFB8"/>
<text x="1255.6" y="565.32" font-size="10.25" transform="rotate(0.03 1255.6 565.32)" font-style="italic">Staphylococcus saccharolyticus</text>
<rect x="1233.3" y="570.48" width="18" height="17.77" fill="#06ADA6"/>
<text x="1255.6" y="583.04" font-size="10.25" transform="rotate(0.03 1255.6 583.04)" font-style="italic">Anaerococcus nagyae</text>
<rect x="1233.3" y="588.2" width="18" height="17.77" fill="#1B3B5C"/>
<text x="1255.6" y="600.76" font-size="10.25" transform="rotate(0.03 1255.6 600.76)" font-style="italic">Cutibacterium granulosum</text>
<rect x="1403.1" y="411" width="18" height="17.77" fill="#73579F"/>
<text x="1425.4" y="423.56" font-size="10.25" transform="rotate(0.03 1425.4 423.56)" font-style="italic">Anaerococcus vaginalis</text>
<rect x="1403.1" y="428.72" width="18" height="17.77" fill="#FC3C62"/>
<text x="1425.4" y="441.28" font-size="10.25" transform="rotate(0.03 1425.4 441.28)" font-style="italic">Prevotella buccalis</text>
<rect x="1403.1" y="446.44" width="18" height="17.77" fill="#FD9494"/>
<text x="1425.4" y="459" font-size="10.25" transform="rotate(0.03 1425.4 459)" font-style="italic">Corynebacterium kroppenstedtii</text>
<rect x="1403.1" y="464.16" width="18" height="17.77" fill="#FACBA5"/>
<text x="1425.4" y="476.72" font-size="10.25" transform="rotate(0.03 1425.4 476.72)" font-style="italic">Pseudonocardia tritici</text>
<rect x="1403.1" y="481.88" width="18" height="17.77" fill="#C7CCA8"/>
<text x="1425.4" y="494.44" font-size="10.25" transform="rotate(0.03 1425.4 494.44)" font-style="italic">Campylobacter ureolyticus</text>
<rect x="1403.1" y="499.6" width="18" height="17.77" fill="#7DAA9A"/>
<text x="1425.4" y="512.16" font-size="10.25" transform="rotate(0.03 1425.4 512.16)">Corynebacterium tuberculostearicum</text>
<rect x="1403.1" y="517.32" width="18" height="17.77" fill="#03759A"/>
<text x="1425.4" y="529.88" font-size="10.25" transform="rotate(0.03 1425.4 529.88)" font-style="italic">Finegoldia magna</text>
<rect x="1403.1" y="535.04" width="18" height="17.77" fill="#8C2369"/>
<text x="1425.4" y="547.6" font-size="10.25" transform="rotate(0.03 1425.4 547.6)" font-style="italic">Streptococcus salivarius</text>
<rect x="1403.1" y="552.76" width="18" height="17.77" fill="#03141A"/>
<text x="1425.4" y="565.32" font-size="10.25" transform="rotate(0.03 1425.4 565.32)" font-style="italic">Corynebacterium accolens</text>
<rect x="1403.1" y="570.48" width="18" height="17.77" fill="#BEBEBE"/>
<text x="1425.4" y="583.04" font-size="10.25" transform="rotate(0.03 1425.4 583.04)">Others</text>
</g>
<g id="panelB">
<text x="75.5" y="707.7" font-size="30.9" font-weight="bold" font-family="'DejaVu Sans Condensed','DejaVu Sans','Liberation Sans',sans-serif" fill="#231F20" transform="rotate(0.03 75.5 707.7)">B</text>
<text x="150.6" y="716.3" font-size="24.55" transform="rotate(0.03 150.6 716.3)">Significant in</text>
<rect x="334.1" y="696.2" width="119.93" height="9.95" fill="#F2695D"/>
<rect x="334.1" y="708.2" width="119.93" height="9.95" fill="#E2C720"/>
<rect x="458.28" y="696.2" width="119.93" height="9.95" fill="#7CCBC3"/>
<rect x="458.28" y="708.2" width="119.93" height="9.95" fill="#E2C720"/>
<rect x="582.45" y="696.2" width="138.38" height="9.95" fill="#F2695D"/>
<rect x="582.45" y="708.2" width="138.38" height="9.95" fill="#A50FE8"/>
<rect x="725.08" y="696.2" width="138.38" height="9.95" fill="#7CCBC3"/>
<rect x="725.08" y="708.2" width="138.38" height="9.95" fill="#A50FE8"/>
<rect x="321.2" y="721.6" width="9.4" height="10.33" fill="#78EC66"/>
<rect x="321.2" y="731.87" width="9.4" height="10.33" fill="#6490E8"/>
<rect x="321.2" y="742.14" width="9.4" height="10.33" fill="#6490E8"/>
<rect x="321.2" y="752.41" width="9.4" height="10.33" fill="#6490E8"/>
<rect x="321.2" y="762.68" width="9.4" height="10.33" fill="#6490E8"/>
<rect x="321.2" y="772.95" width="9.4" height="10.33" fill="#6490E8"/>
<rect x="321.2" y="783.22" width="9.4" height="10.33" fill="#6490E8"/>
<rect x="321.2" y="793.49" width="9.4" height="10.33" fill="#9AF4FA"/>
<rect x="321.2" y="803.76" width="9.4" height="10.33" fill="#F2CB2E"/>
<rect x="334.1" y="721.6" width="9.29" height="10.33" fill="#FF0000"/>
<rect x="343.33" y="721.6" width="9.29" height="10.33" fill="#8DCFE5"/>
<rect x="352.55" y="721.6" width="9.29" height="10.33" fill="#FF8888"/>
<rect x="361.78" y="721.6" width="9.29" height="10.33" fill="#FF0000"/>
<rect x="371" y="721.6" width="9.29" height="10.33" fill="#66B5D4"/>
<rect x="380.23" y="721.6" width="9.29" height="10.33" fill="#FF0000"/>
<rect x="389.45" y="721.6" width="9.29" height="10.33" fill="#DDF0F7"/>
<rect x="398.68" y="721.6" width="9.29" height="10.33" fill="#FFC4C4"/>
<rect x="407.9" y="721.6" width="9.29" height="10.33" fill="#FF0000"/>
<rect x="417.12" y="721.6" width="9.29" height="10.33" fill="#B4DFED"/>
<rect x="426.35" y="721.6" width="9.29" height="10.33" fill="#FFE8E8"/>
<rect x="435.58" y="721.6" width="9.29" height="10.33" fill="#FF0000"/>
<rect x="444.8" y="721.6" width="9.29" height="10.33" fill="#DDF0F7"/>
<rect x="334.1" y="731.87" width="18.51" height="10.33" fill="#FF0000"/>
<rect x="352.55" y="731.87" width="9.29" height="10.33" fill="#66B5D4"/>
<rect x="361.78" y="731.87" width="9.29" height="10.33" fill="#DDF0F7"/>
<rect x="371" y="731.87" width="9.29" height="10.33" fill="#66B5D4"/>
<rect x="380.23" y="731.87" width="9.29" height="10.33" fill="#FF0000"/>
<rect x="389.45" y="731.87" width="9.29" height="10.33" fill="#FFFFFF"/>
<rect x="398.68" y="731.87" width="18.51" height="10.33" fill="#FF0000"/>
<rect x="417.12" y="731.87" width="9.29" height="10.33" fill="#8DCFE5"/>
<rect x="426.35" y="731.87" width="9.29" height="10.33" fill="#FF4040"/>
<rect x="435.58" y="731.87" width="9.29" height="10.33" fill="#FF0000"/>
<rect x="444.8" y="731.87" width="9.29" height="10.33" fill="#B4DFED"/>
<rect x="334.1" y="742.14" width="9.29" height="10.33" fill="#FF0000"/>
<rect x="343.33" y="742.14" width="9.29" height="10.33" fill="#4092BB"/>
<rect x="352.55" y="742.14" width="9.29" height="10.33" fill="#B4DFED"/>
<rect x="361.78" y="742.14" width="9.29" height="10.33" fill="#FF0000"/>
<rect x="371" y="742.14" width="9.29" height="10.33" fill="#FFC4C4"/>
<rect x="380.23" y="742.14" width="9.29" height="10.33" fill="#FF0000"/>
<rect x="389.45" y="742.14" width="9.29" height="10.33" fill="#FF4040"/>
<rect x="398.68" y="742.14" width="27.73" height="10.33" fill="#FF0000"/>
<rect x="426.35" y="742.14" width="9.29" height="10.33" fill="#FFE8E8"/>
<rect x="435.58" y="742.14" width="9.29" height="10.33" fill="#FF0000"/>
<rect x="444.8" y="742.14" width="9.29" height="10.33" fill="#66B5D4"/>
<rect x="334.1" y="752.41" width="18.51" height="10.33" fill="#FF0000"/>
<rect x="352.55" y="752.41" width="9.29" height="10.33" fill="#B4DFED"/>
<rect x="361.78" y="752.41" width="9.29" height="10.33" fill="#DDF0F7"/>
<rect x="371" y="752.41" width="9.29" height="10.33" fill="#B4DFED"/>
<rect x="380.23" y="752.41" width="18.51" height="10.33" fill="#FF4040"/>
<rect x="398.68" y="752.41" width="18.51" height="10.33" fill="#FF0000"/>
<rect x="417.12" y="752.41" width="9.29" height="10.33" fill="#FFFFFF"/>
<rect x="426.35" y="752.41" width="9.29" height="10.33" fill="#FFC4C4"/>
<rect x="435.58" y="752.41" width="9.29" height="10.33" fill="#FF4040"/>
<rect x="444.8" y="752.41" width="9.29" height="10.33" fill="#4092BB"/>
<rect x="334.1" y="762.68" width="9.29" height="10.33" fill="#FF8888"/>
<rect x="343.33" y="762.68" width="9.29" height="10.33" fill="#DDF0F7"/>
<rect x="352.55" y="762.68" width="9.29" height="10.33" fill="#FF4040"/>
<rect x="361.78" y="762.68" width="9.29" height="10.33" fill="#8DCFE5"/>
<rect x="371" y="762.68" width="9.29" height="10.33" fill="#66B5D4"/>
<rect x="380.23" y="762.68" width="9.29" height="10.33" fill="#FF0000"/>
<rect x="389.45" y="762.68" width="9.29" height="10.33" fill="#DDF0F7"/>
<rect x="398.68" y="762.68" width="18.51" height="10.33" fill="#FF0000"/>
<rect x="417.12" y="762.68" width="9.29" height="10.33" fill="#8DCFE5"/>
<rect x="426.35" y="762.68" width="18.51" height="10.33" fill="#FF0000"/>
<rect x="444.8" y="762.68" width="9.29" height="10.33" fill="#B4DFED"/>
<rect x="334.1" y="772.95" width="9.29" height="10.33" fill="#FF4040"/>
<rect x="343.33" y="772.95" width="9.29" height="10.33" fill="#FF0000"/>
<rect x="352.55" y="772.95" width="9.29" height="10.33" fill="#8DCFE5"/>
<rect x="361.78" y="772.95" width="18.51" height="10.33" fill="#FF8888"/>
<rect x="380.23" y="772.95" width="9.29" height="10.33" fill="#FFC4C4"/>
<rect x="389.45" y="772.95" width="18.51" height="10.33" fill="#FF4040"/>
<rect x="407.9" y="772.95" width="9.29" height="10.33" fill="#FF8888"/>
<rect x="417.12" y="772.95" width="9.29" height="10.33" fill="#FF4040"/>
<rect x="426.35" y="772.95" width="18.51" height="10.33" fill="#FFC4C4"/>
<rect x="444.8" y="772.95" width="9.29" height="10.33" fill="#4092BB"/>
<rect x="334.1" y="783.22" width="9.29" height="10.33" fill="#B4DFED"/>
<rect x="343.33" y="783.22" width="9.29" height="10.33" fill="#8B0000"/>
<rect x="352.55" y="783.22" width="9.29" height="10.33" fill="#FF4040"/>
<rect x="361.78" y="783.22" width="9.29" height="10.33" fill="#FFC4C4"/>
<rect x="371" y="783.22" width="9.29" height="10.33" fill="#8DCFE5"/>
<rect x="380.23" y="783.22" width="18.51" height="10.33" fill="#B4DFED"/>
<rect x="398.68" y="783.22" width="9.29" height="10.33" fill="#FF0000"/>
<rect x="407.9" y="783.22" width="18.51" height="10.33" fill="#8DCFE5"/>
<rect x="426.35" y="783.22" width="9.29" height="10.33" fill="#FF8888"/>
<rect x="435.58" y="783.22" width="9.29" height="10.33" fill="#FFFFFF"/>
<rect x="444.8" y="783.22" width="9.29" height="10.33" fill="#DDF0F7"/>
<rect x="334.1" y="793.49" width="18.51" height="10.33" fill="#B4DFED"/>
<rect x="352.55" y="793.49" width="9.29" height="10.33" fill="#FF0000"/>
<rect x="361.78" y="793.49" width="27.73" height="10.33" fill="#B4DFED"/>
<rect x="389.45" y="793.49" width="9.29" height="10.33" fill="#DDF0F7"/>
<rect x="398.68" y="793.49" width="9.29" height="10.33" fill="#C40000"/>
<rect x="407.9" y="793.49" width="18.51" height="10.33" fill="#B4DFED"/>
<rect x="426.35" y="793.49" width="18.51" height="10.33" fill="#FF0000"/>
<rect x="444.8" y="793.49" width="9.29" height="10.33" fill="#B4DFED"/>
<rect x="334.1" y="803.76" width="73.86" height="10.33" fill="#DDF0F7"/>
<rect x="407.9" y="803.76" width="9.29" height="10.33" fill="#8B0000"/>
<rect x="417.12" y="803.76" width="9.29" height="10.33" fill="#DDF0F7"/>
<rect x="426.35" y="803.76" width="9.29" height="10.33" fill="#FFE8E8"/>
<rect x="435.58" y="803.76" width="9.29" height="10.33" fill="#FFFFFF"/>
<rect x="444.8" y="803.76" width="9.29" height="10.33" fill="#DDF0F7"/>
<rect x="458.28" y="721.6" width="9.29" height="10.33" fill="#FF0000"/>
<rect x="467.5" y="721.6" width="9.29" height="10.33" fill="#B4DFED"/>
<rect x="476.73" y="721.6" width="9.29" height="10.33" fill="#FFC4C4"/>
<rect x="485.95" y="721.6" width="9.29" height="10.33" fill="#4092BB"/>
<rect x="495.18" y="721.6" width="9.29" height="10.33" fill="#66B5D4"/>
<rect x="504.4" y="721.6" width="9.29" height="10.33" fill="#4092BB"/>
<rect x="513.62" y="721.6" width="9.29" height="10.33" fill="#FFC4C4"/>
<rect x="522.85" y="721.6" width="9.29" height="10.33" fill="#B4DFED"/>
<rect x="532.08" y="721.6" width="9.29" height="10.33" fill="#66B5D4"/>
<rect x="541.3" y="721.6" width="9.29" height="10.33" fill="#8DCFE5"/>
<rect x="550.53" y="721.6" width="9.29" height="10.33" fill="#B4DFED"/>
<rect x="559.75" y="721.6" width="9.29" height="10.33" fill="#DDF0F7"/>
<rect x="568.98" y="721.6" width="9.29" height="10.33" fill="#66B5D4"/>
<rect x="458.28" y="731.87" width="9.29" height="10.33" fill="#66B5D4"/>
<rect x="467.5" y="731.87" width="9.29" height="10.33" fill="#8DCFE5"/>
<rect x="476.73" y="731.87" width="9.29" height="10.33" fill="#DDF0F7"/>
<rect x="485.95" y="731.87" width="18.51" height="10.33" fill="#66B5D4"/>
<rect x="504.4" y="731.87" width="9.29" height="10.33" fill="#8DCFE5"/>
<rect x="513.62" y="731.87" width="9.29" height="10.33" fill="#FF8888"/>
<rect x="522.85" y="731.87" width="9.29" height="10.33" fill="#FF0000"/>
<rect x="532.08" y="731.87" width="18.51" height="10.33" fill="#66B5D4"/>
<rect x="550.53" y="731.87" width="9.29" height="10.33" fill="#B4DFED"/>
<rect x="559.75" y="731.87" width="9.29" height="10.33" fill="#66B5D4"/>
<rect x="568.98" y="731.87" width="9.29" height="10.33" fill="#8DCFE5"/>
<rect x="458.28" y="742.14" width="9.29" height="10.33" fill="#FF0000"/>
<rect x="467.5" y="742.14" width="9.29" height="10.33" fill="#8DCFE5"/>
<rect x="476.73" y="742.14" width="9.29" height="10.33" fill="#4092BB"/>
<rect x="485.95" y="742.14" width="9.29" height="10.33" fill="#66B5D4"/>
<rect x="495.18" y="742.14" width="9.29" height="10.33" fill="#B4DFED"/>
<rect x="504.4" y="742.14" width="9.29" height="10.33" fill="#4092BB"/>
<rect x="513.62" y="742.14" width="9.29" height="10.33" fill="#FF4040"/>
<rect x="522.85" y="742.14" width="9.29" height="10.33" fill="#66B5D4"/>
<rect x="532.08" y="742.14" width="9.29" height="10.33" fill="#FF4040"/>
<rect x="541.3" y="742.14" width="9.29" height="10.33" fill="#FFC4C4"/>
<rect x="550.53" y="742.14" width="9.29" height="10.33" fill="#B4DFED"/>
<rect x="559.75" y="742.14" width="9.29" height="10.33" fill="#FFFFFF"/>
<rect x="568.98" y="742.14" width="9.29" height="10.33" fill="#66B5D4"/>
<rect x="458.28" y="752.41" width="9.29" height="10.33" fill="#FF0000"/>
<rect x="467.5" y="752.41" width="9.29" height="10.33" fill="#FFFFFF"/>
<rect x="476.73" y="752.41" width="9.29" height="10.33" fill="#4092BB"/>
<rect x="485.95" y="752.41" width="9.29" height="10.33" fill="#8DCFE5"/>
<rect x="495.18" y="752.41" width="9.29" height="10.33" fill="#B4DFED"/>
<rect x="504.4" y="752.41" width="9.29" height="10.33" fill="#66B5D4"/>
<rect x="513.62" y="752.41" width="9.29" height="10.33" fill="#FF8888"/>
<rect x="522.85" y="752.41" width="9.29" height="10.33" fill="#FF4040"/>
<rect x="532.08" y="752.41" width="18.51" height="10.33" fill="#DDF0F7"/>
<rect x="550.53" y="752.41" width="9.29" height="10.33" fill="#8DCFE5"/>
<rect x="559.75" y="752.41" width="9.29" height="10.33" fill="#DDF0F7"/>
<rect x="568.98" y="752.41" width="9.29" height="10.33" fill="#4092BB"/>
<rect x="458.28" y="762.68" width="9.29" height="10.33" fill="#FF8888"/>
<rect x="467.5" y="762.68" width="18.51" height="10.33" fill="#8DCFE5"/>
<rect x="485.95" y="762.68" width="27.73" height="10.33" fill="#66B5D4"/>
<rect x="513.62" y="762.68" width="9.29" height="10.33" fill="#FF4040"/>
<rect x="522.85" y="762.68" width="9.29" height="10.33" fill="#DDF0F7"/>
<rect x="532.08" y="762.68" width="27.73" height="10.33" fill="#66B5D4"/>
<rect x="559.75" y="762.68" width="9.29" height="10.33" fill="#8DCFE5"/>
<rect x="568.98" y="762.68" width="9.29" height="10.33" fill="#B4DFED"/>
<rect x="458.28" y="772.95" width="9.29" height="10.33" fill="#FF0000"/>
<rect x="467.5" y="772.95" width="9.29" height="10.33" fill="#FFFFFF"/>
<rect x="476.73" y="772.95" width="9.29" height="10.33" fill="#4092BB"/>
<rect x="485.95" y="772.95" width="9.29" height="10.33" fill="#8DCFE5"/>
<rect x="495.18" y="772.95" width="9.29" height="10.33" fill="#FFC4C4"/>
<rect x="504.4" y="772.95" width="9.29" height="10.33" fill="#66B5D4"/>
<rect x="513.62" y="772.95" width="18.51" height="10.33" fill="#FFC4C4"/>
<rect x="532.08" y="772.95" width="9.29" height="10.33" fill="#FF4040"/>
<rect x="541.3" y="772.95" width="18.51" height="10.33" fill="#FFFFFF"/>
<rect x="559.75" y="772.95" width="9.29" height="10.33" fill="#DDF0F7"/>
<rect x="568.98" y="772.95" width="9.29" height="10.33" fill="#2C6591"/>
<rect x="458.28" y="783.22" width="9.29" height="10.33" fill="#8DCFE5"/>
<rect x="467.5" y="783.22" width="9.29" height="10.33" fill="#DDF0F7"/>
<rect x="476.73" y="783.22" width="9.29" height="10.33" fill="#FFC4C4"/>
<rect x="485.95" y="783.22" width="18.51" height="10.33" fill="#8DCFE5"/>
<rect x="504.4" y="783.22" width="9.29" height="10.33" fill="#B4DFED"/>
<rect x="513.62" y="783.22" width="9.29" height="10.33" fill="#8DCFE5"/>
<rect x="522.85" y="783.22" width="9.29" height="10.33" fill="#FF0000"/>
<rect x="532.08" y="783.22" width="18.51" height="10.33" fill="#8DCFE5"/>
<rect x="550.53" y="783.22" width="9.29" height="10.33" fill="#FF8888"/>
<rect x="559.75" y="783.22" width="9.29" height="10.33" fill="#8DCFE5"/>
<rect x="568.98" y="783.22" width="9.29" height="10.33" fill="#DDF0F7"/>
<rect x="458.28" y="793.49" width="18.51" height="10.33" fill="#B4DFED"/>
<rect x="476.73" y="793.49" width="9.29" height="10.33" fill="#DDF0F7"/>
<rect x="485.95" y="793.49" width="36.96" height="10.33" fill="#B4DFED"/>
<rect x="522.85" y="793.49" width="9.29" height="10.33" fill="#FFE8E8"/>
<rect x="532.08" y="793.49" width="46.19" height="10.33" fill="#B4DFED"/>
<rect x="458.28" y="803.76" width="92.31" height="10.33" fill="#DDF0F7"/>
<rect x="550.53" y="803.76" width="9.29" height="10.33" fill="#FFFFFF"/>
<rect x="559.75" y="803.76" width="18.51" height="10.33" fill="#DDF0F7"/>
<rect x="582.45" y="721.6" width="138.38" height="92.43" fill="#E5E5E5"/>
<rect x="725.08" y="721.6" width="138.38" height="92.43" fill="#E5E5E5"/>
<text x="866.6" y="730.44" font-size="10.25" transform="rotate(0.03 866.6 730.44)">ko04122| Sulfur relay system</text>
<text x="866.6" y="740.71" font-size="10.25" transform="rotate(0.03 866.6 740.71)">ko00072| Synthesis and degradation of ketone bodies</text>
<text x="866.6" y="750.98" font-size="10.25" transform="rotate(0.03 866.6 750.98)">ko00561| Glycerolipid metabolism</text>
<text x="866.6" y="761.25" font-size="10.25" transform="rotate(0.03 866.6 761.25)">ko00280| Valine, leucine and isoleucine degradation</text>
<text x="866.6" y="771.52" font-size="10.25" transform="rotate(0.03 866.6 771.52)">ko00312| Beta−Lactam resistance</text>
<text x="866.6" y="781.79" font-size="10.25" transform="rotate(0.03 866.6 781.79)">ko00380| Tryptophan metabolism</text>
<text x="866.6" y="792.06" font-size="10.25" transform="rotate(0.03 866.6 792.06)">ko00361| Chlorocyclohexane and chlorobenzene degradation</text>
<text x="866.6" y="802.33" font-size="10.25" transform="rotate(0.03 866.6 802.33)">ko05100| Bacterial invasion of epithelial cells</text>
<text x="866.6" y="812.6" font-size="10.25" transform="rotate(0.03 866.6 812.6)">ko04080| Neuroactive ligand−receptor interaction</text>
<rect x="321.2" y="818.03" width="9.4" height="10.33" fill="#6490E8"/>
<rect x="321.2" y="828.3" width="9.4" height="10.33" fill="#6490E8"/>
<rect x="321.2" y="838.57" width="9.4" height="10.33" fill="#6490E8"/>
<rect x="321.2" y="848.84" width="9.4" height="10.33" fill="#6490E8"/>
<rect x="321.2" y="859.11" width="9.4" height="10.33" fill="#6490E8"/>
<rect x="321.2" y="869.38" width="9.4" height="10.33" fill="#6490E8"/>
<rect x="321.2" y="879.65" width="9.4" height="10.33" fill="#696969"/>
<rect x="321.2" y="889.92" width="9.4" height="10.33" fill="#9AF4FA"/>
<rect x="334.1" y="818.03" width="9.29" height="10.33" fill="#8DCFE5"/>
<rect x="343.33" y="818.03" width="9.29" height="10.33" fill="#4092BB"/>
<rect x="352.55" y="818.03" width="9.29" height="10.33" fill="#FF0000"/>
<rect x="361.78" y="818.03" width="9.29" height="10.33" fill="#FF4040"/>
<rect x="371" y="818.03" width="9.29" height="10.33" fill="#66B5D4"/>
<rect x="380.23" y="818.03" width="18.51" height="10.33" fill="#8DCFE5"/>
<rect x="398.68" y="818.03" width="9.29" height="10.33" fill="#4092BB"/>
<rect x="407.9" y="818.03" width="9.29" height="10.33" fill="#FFE8E8"/>
<rect x="417.12" y="818.03" width="9.29" height="10.33" fill="#B4DFED"/>
<rect x="426.35" y="818.03" width="9.29" height="10.33" fill="#66B5D4"/>
<rect x="435.58" y="818.03" width="9.29" height="10.33" fill="#8DCFE5"/>
<rect x="444.8" y="818.03" width="9.29" height="10.33" fill="#FF0000"/>
<rect x="334.1" y="828.3" width="9.29" height="10.33" fill="#4092BB"/>
<rect x="343.33" y="828.3" width="9.29" height="10.33" fill="#66B5D4"/>
<rect x="352.55" y="828.3" width="9.29" height="10.33" fill="#B4DFED"/>
<rect x="361.78" y="828.3" width="9.29" height="10.33" fill="#FF0000"/>
<rect x="371" y="828.3" width="9.29" height="10.33" fill="#FF4040"/>
<rect x="380.23" y="828.3" width="9.29" height="10.33" fill="#66B5D4"/>
<rect x="389.45" y="828.3" width="9.29" height="10.33" fill="#FFC4C4"/>
<rect x="398.68" y="828.3" width="9.29" height="10.33" fill="#4092BB"/>
<rect x="407.9" y="828.3" width="9.29" height="10.33" fill="#B4DFED"/>
<rect x="417.12" y="828.3" width="9.29" height="10.33" fill="#FF0000"/>
<rect x="426.35" y="828.3" width="9.29" height="10.33" fill="#66B5D4"/>
<rect x="435.58" y="828.3" width="9.29" height="10.33" fill="#4092BB"/>
<rect x="444.8" y="828.3" width="9.29" height="10.33" fill="#FF0000"/>
<rect x="334.1" y="838.57" width="9.29" height="10.33" fill="#4092BB"/>
<rect x="343.33" y="838.57" width="9.29" height="10.33" fill="#66B5D4"/>
<rect x="352.55" y="838.57" width="9.29" height="10.33" fill="#B4DFED"/>
<rect x="361.78" y="838.57" width="9.29" height="10.33" fill="#FFE8E8"/>
<rect x="371" y="838.57" width="9.29" height="10.33" fill="#B4DFED"/>
<rect x="380.23" y="838.57" width="9.29" height="10.33" fill="#66B5D4"/>
<rect x="389.45" y="838.57" width="9.29" height="10.33" fill="#B4DFED"/>
<rect x="398.68" y="838.57" width="9.29" height="10.33" fill="#66B5D4"/>
<rect x="407.9" y="838.57" width="9.29" height="10.33" fill="#8DCFE5"/>
<rect x="417.12" y="838.57" width="18.51" height="10.33" fill="#DDF0F7"/>
<rect x="435.58" y="838.57" width="9.29" height="10.33" fill="#4092BB"/>
<rect x="444.8" y="838.57" width="9.29" height="10.33" fill="#FF0000"/>
<rect x="334.1" y="848.84" width="18.51" height="10.33" fill="#4092BB"/>
<rect x="352.55" y="848.84" width="9.29" height="10.33" fill="#FF4040"/>
<rect x="361.78" y="848.84" width="9.29" height="10.33" fill="#FF0000"/>
<rect x="371" y="848.84" width="9.29" height="10.33" fill="#FF4040"/>
<rect x="380.23" y="848.84" width="9.29" height="10.33" fill="#4092BB"/>
<rect x="389.45" y="848.84" width="9.29" height="10.33" fill="#DDF0F7"/>
<rect x="398.68" y="848.84" width="9.29" height="10.33" fill="#4092BB"/>
<rect x="407.9" y="848.84" width="9.29" height="10.33" fill="#66B5D4"/>
<rect x="417.12" y="848.84" width="9.29" height="10.33" fill="#FF0000"/>
<rect x="426.35" y="848.84" width="9.29" height="10.33" fill="#66B5D4"/>
<rect x="435.58" y="848.84" width="9.29" height="10.33" fill="#4092BB"/>
<rect x="444.8" y="848.84" width="9.29" height="10.33" fill="#FF0000"/>
<rect x="334.1" y="859.11" width="9.29" height="10.33" fill="#66B5D4"/>
<rect x="343.33" y="859.11" width="9.29" height="10.33" fill="#DDF0F7"/>
<rect x="352.55" y="859.11" width="9.29" height="10.33" fill="#FFC4C4"/>
<rect x="361.78" y="859.11" width="9.29" height="10.33" fill="#B4DFED"/>
<rect x="371" y="859.11" width="27.73" height="10.33" fill="#8DCFE5"/>
<rect x="398.68" y="859.11" width="9.29" height="10.33" fill="#66B5D4"/>
<rect x="407.9" y="859.11" width="9.29" height="10.33" fill="#8DCFE5"/>
<rect x="417.12" y="859.11" width="9.29" height="10.33" fill="#66B5D4"/>
<rect x="426.35" y="859.11" width="9.29" height="10.33" fill="#DDF0F7"/>
<rect x="435.58" y="859.11" width="9.29" height="10.33" fill="#66B5D4"/>
<rect x="444.8" y="859.11" width="9.29" height="10.33" fill="#FF0000"/>
<rect x="334.1" y="869.38" width="36.96" height="10.33" fill="#66B5D4"/>
<rect x="371" y="869.38" width="9.29" height="10.33" fill="#FF0000"/>
<rect x="380.23" y="869.38" width="9.29" height="10.33" fill="#B4DFED"/>
<rect x="389.45" y="869.38" width="18.51" height="10.33" fill="#66B5D4"/>
<rect x="407.9" y="869.38" width="9.29" height="10.33" fill="#8DCFE5"/>
<rect x="417.12" y="869.38" width="9.29" height="10.33" fill="#FF0000"/>
<rect x="426.35" y="869.38" width="9.29" height="10.33" fill="#B4DFED"/>
<rect x="435.58" y="869.38" width="9.29" height="10.33" fill="#66B5D4"/>
<rect x="444.8" y="869.38" width="9.29" height="10.33" fill="#FFC4C4"/>
<rect x="334.1" y="879.65" width="9.29" height="10.33" fill="#66B5D4"/>
<rect x="343.33" y="879.65" width="9.29" height="10.33" fill="#FF8888"/>
<rect x="352.55" y="879.65" width="9.29" height="10.33" fill="#FF0000"/>
<rect x="361.78" y="879.65" width="9.29" height="10.33" fill="#66B5D4"/>
<rect x="371" y="879.65" width="9.29" height="10.33" fill="#FF0000"/>
<rect x="380.23" y="879.65" width="9.29" height="10.33" fill="#B4DFED"/>
<rect x="389.45" y="879.65" width="18.51" height="10.33" fill="#66B5D4"/>
<rect x="407.9" y="879.65" width="9.29" height="10.33" fill="#B4DFED"/>
<rect x="417.12" y="879.65" width="9.29" height="10.33" fill="#66B5D4"/>
<rect x="426.35" y="879.65" width="9.29" height="10.33" fill="#B4DFED"/>
<rect x="435.58" y="879.65" width="9.29" height="10.33" fill="#66B5D4"/>
<rect x="444.8" y="879.65" width="9.29" height="10.33" fill="#FF0000"/>
<rect x="334.1" y="889.92" width="119.98" height="10.33" fill="#B4DFED"/>
<rect x="458.28" y="818.03" width="9.29" height="10.33" fill="#DDF0F7"/>
<rect x="467.5" y="818.03" width="9.29" height="10.33" fill="#FFC4C4"/>
<rect x="476.73" y="818.03" width="18.51" height="10.33" fill="#FF0000"/>
<rect x="495.18" y="818.03" width="9.29" height="10.33" fill="#FFFFFF"/>
<rect x="504.4" y="818.03" width="9.29" height="10.33" fill="#FF0000"/>
<rect x="513.62" y="818.03" width="9.29" height="10.33" fill="#FFFFFF"/>
<rect x="522.85" y="818.03" width="18.51" height="10.33" fill="#66B5D4"/>
<rect x="541.3" y="818.03" width="9.29" height="10.33" fill="#FFFFFF"/>
<rect x="550.53" y="818.03" width="18.51" height="10.33" fill="#FF4040"/>
<rect x="568.98" y="818.03" width="9.29" height="10.33" fill="#FF0000"/>
<rect x="458.28" y="828.3" width="9.29" height="10.33" fill="#FFFFFF"/>
<rect x="467.5" y="828.3" width="9.29" height="10.33" fill="#DDF0F7"/>
<rect x="476.73" y="828.3" width="9.29" height="10.33" fill="#FFFFFF"/>
<rect x="485.95" y="828.3" width="27.73" height="10.33" fill="#FF0000"/>
<rect x="513.62" y="828.3" width="9.29" height="10.33" fill="#FFC4C4"/>
<rect x="522.85" y="828.3" width="9.29" height="10.33" fill="#4092BB"/>
<rect x="532.08" y="828.3" width="9.29" height="10.33" fill="#FF0000"/>
<rect x="541.3" y="828.3" width="9.29" height="10.33" fill="#FFC4C4"/>
<rect x="550.53" y="828.3" width="9.29" height="10.33" fill="#FF4040"/>
<rect x="559.75" y="828.3" width="9.29" height="10.33" fill="#DDF0F7"/>
<rect x="568.98" y="828.3" width="9.29" height="10.33" fill="#FF0000"/>
<rect x="458.28" y="838.57" width="9.29" height="10.33" fill="#8DCFE5"/>
<rect x="467.5" y="838.57" width="9.29" height="10.33" fill="#B4DFED"/>
<rect x="476.73" y="838.57" width="9.29" height="10.33" fill="#FFC4C4"/>
<rect x="485.95" y="838.57" width="9.29" height="10.33" fill="#FF0000"/>
<rect x="495.18" y="838.57" width="9.29" height="10.33" fill="#FFC4C4"/>
<rect x="504.4" y="838.57" width="9.29" height="10.33" fill="#FF0000"/>
<rect x="513.62" y="838.57" width="9.29" height="10.33" fill="#FFC4C4"/>
<rect x="522.85" y="838.57" width="9.29" height="10.33" fill="#FFFFFF"/>
<rect x="532.08" y="838.57" width="9.29" height="10.33" fill="#DDF0F7"/>
<rect x="541.3" y="838.57" width="9.29" height="10.33" fill="#8DCFE5"/>
<rect x="550.53" y="838.57" width="9.29" height="10.33" fill="#FF0000"/>
<rect x="559.75" y="838.57" width="9.29" height="10.33" fill="#8DCFE5"/>
<rect x="568.98" y="838.57" width="9.29" height="10.33" fill="#FF0000"/>
<rect x="458.28" y="848.84" width="18.51" height="10.33" fill="#DDF0F7"/>
<rect x="476.73" y="848.84" width="36.96" height="10.33" fill="#FF0000"/>
<rect x="513.62" y="848.84" width="9.29" height="10.33" fill="#DDF0F7"/>
<rect x="522.85" y="848.84" width="9.29" height="10.33" fill="#66B5D4"/>
<rect x="532.08" y="848.84" width="9.29" height="10.33" fill="#FF0000"/>
<rect x="541.3" y="848.84" width="9.29" height="10.33" fill="#FFC4C4"/>
<rect x="550.53" y="848.84" width="9.29" height="10.33" fill="#FF0000"/>
<rect x="559.75" y="848.84" width="9.29" height="10.33" fill="#DDF0F7"/>
<rect x="568.98" y="848.84" width="9.29" height="10.33" fill="#FF0000"/>
<rect x="458.28" y="859.11" width="18.51" height="10.33" fill="#8DCFE5"/>
<rect x="476.73" y="859.11" width="18.51" height="10.33" fill="#FF0000"/>
<rect x="495.18" y="859.11" width="9.29" height="10.33" fill="#B4DFED"/>
<rect x="504.4" y="859.11" width="9.29" height="10.33" fill="#FF0000"/>
<rect x="513.62" y="859.11" width="9.29" height="10.33" fill="#FFE8E8"/>
<rect x="522.85" y="859.11" width="9.29" height="10.33" fill="#FF0000"/>
<rect x="532.08" y="859.11" width="18.51" height="10.33" fill="#66B5D4"/>
<rect x="550.53" y="859.11" width="9.29" height="10.33" fill="#FF0000"/>
<rect x="559.75" y="859.11" width="9.29" height="10.33" fill="#66B5D4"/>
<rect x="568.98" y="859.11" width="9.29" height="10.33" fill="#FF0000"/>
<rect x="458.28" y="869.38" width="9.29" height="10.33" fill="#66B5D4"/>
<rect x="467.5" y="869.38" width="9.29" height="10.33" fill="#FF0000"/>
<rect x="476.73" y="869.38" width="9.29" height="10.33" fill="#B4DFED"/>
<rect x="485.95" y="869.38" width="9.29" height="10.33" fill="#66B5D4"/>
<rect x="495.18" y="869.38" width="9.29" height="10.33" fill="#FF0000"/>
<rect x="504.4" y="869.38" width="9.29" height="10.33" fill="#8DCFE5"/>
<rect x="513.62" y="869.38" width="9.29" height="10.33" fill="#FFE8E8"/>
<rect x="522.85" y="869.38" width="9.29" height="10.33" fill="#DDF0F7"/>
<rect x="532.08" y="869.38" width="46.19" height="10.33" fill="#FF0000"/>
<rect x="458.28" y="879.65" width="9.29" height="10.33" fill="#66B5D4"/>
<rect x="467.5" y="879.65" width="9.29" height="10.33" fill="#FF4040"/>
<rect x="476.73" y="879.65" width="9.29" height="10.33" fill="#FF0000"/>
<rect x="485.95" y="879.65" width="9.29" height="10.33" fill="#66B5D4"/>
<rect x="495.18" y="879.65" width="18.51" height="10.33" fill="#FF0000"/>
<rect x="513.62" y="879.65" width="9.29" height="10.33" fill="#FF8888"/>
<rect x="522.85" y="879.65" width="9.29" height="10.33" fill="#FF0000"/>
<rect x="532.08" y="879.65" width="18.51" height="10.33" fill="#66B5D4"/>
<rect x="550.53" y="879.65" width="18.51" height="10.33" fill="#FFC4C4"/>
<rect x="568.98" y="879.65" width="9.29" height="10.33" fill="#FF0000"/>
<rect x="458.28" y="889.92" width="9.29" height="10.33" fill="#B4DFED"/>
<rect x="467.5" y="889.92" width="9.29" height="10.33" fill="#DDF0F7"/>
<rect x="476.73" y="889.92" width="9.29" height="10.33" fill="#B4DFED"/>
<rect x="485.95" y="889.92" width="9.29" height="10.33" fill="#FF0000"/>
<rect x="495.18" y="889.92" width="9.29" height="10.33" fill="#FFFFFF"/>
<rect x="504.4" y="889.92" width="9.29" height="10.33" fill="#C40000"/>
<rect x="513.62" y="889.92" width="9.29" height="10.33" fill="#FF4040"/>
<rect x="522.85" y="889.92" width="55.41" height="10.33" fill="#B4DFED"/>
<rect x="582.45" y="818.03" width="138.38" height="82.16" fill="#E5E5E5"/>
<rect x="725.08" y="818.03" width="138.38" height="82.16" fill="#E5E5E5"/>
<text x="866.6" y="826.87" font-size="10.25" transform="rotate(0.03 866.6 826.87)">ko00670| One carbon pool by folate</text>
<text x="866.6" y="837.13" font-size="10.25" transform="rotate(0.03 866.6 837.13)">ko00250| Alanine, aspartate and glutamate metabolism</text>
<text x="866.6" y="847.4" font-size="10.25" transform="rotate(0.03 866.6 847.4)">ko00521| Streptomycin biosynthesis</text>
<text x="866.6" y="857.68" font-size="10.25" transform="rotate(0.03 866.6 857.68)">ko00760| Nicotinate and nicotinamide metabolism</text>
<text x="866.6" y="867.95" font-size="10.25" transform="rotate(0.03 866.6 867.95)">ko01055| Biosynthesis of vancomycin group antibiotics</text>
<text x="866.6" y="878.22" font-size="10.25" transform="rotate(0.03 866.6 878.22)">ko00600| Sphingolipid metabolism</text>
<text x="866.6" y="888.49" font-size="10.25" transform="rotate(0.03 866.6 888.49)">ko04910| Insulin signaling pathway</text>
<text x="866.6" y="898.75" font-size="10.25" transform="rotate(0.03 866.6 898.75)">ko05322| Systemic lupus erythematosus</text>
<rect x="321.2" y="904.19" width="9.4" height="10.33" fill="#78EC66"/>
<rect x="321.2" y="914.46" width="9.4" height="10.33" fill="#6490E8"/>
<rect x="321.2" y="924.73" width="9.4" height="10.33" fill="#6490E8"/>
<rect x="321.2" y="935" width="9.4" height="10.33" fill="#6490E8"/>
<rect x="321.2" y="945.27" width="9.4" height="10.33" fill="#6490E8"/>
<rect x="321.2" y="955.54" width="9.4" height="10.33" fill="#6490E8"/>
<rect x="321.2" y="965.81" width="9.4" height="10.33" fill="#9AF4FA"/>
<rect x="321.2" y="976.08" width="9.4" height="10.33" fill="#9AF4FA"/>
<rect x="334.1" y="904.19" width="119.93" height="82.16" fill="#E5E5E5"/>
<rect x="458.28" y="904.19" width="119.93" height="82.16" fill="#E5E5E5"/>
<rect x="582.45" y="904.19" width="9.29" height="10.33" fill="#66B5D4"/>
<rect x="591.68" y="904.19" width="9.29" height="10.33" fill="#8DCFE5"/>
<rect x="600.9" y="904.19" width="9.29" height="10.33" fill="#66B5D4"/>
<rect x="610.12" y="904.19" width="9.29" height="10.33" fill="#8DCFE5"/>
<rect x="619.35" y="904.19" width="9.29" height="10.33" fill="#FF0000"/>
<rect x="628.58" y="904.19" width="9.29" height="10.33" fill="#66B5D4"/>
<rect x="637.8" y="904.19" width="9.29" height="10.33" fill="#8DCFE5"/>
<rect x="647.03" y="904.19" width="9.29" height="10.33" fill="#B4DFED"/>
<rect x="656.25" y="904.19" width="9.29" height="10.33" fill="#66B5D4"/>
<rect x="665.48" y="904.19" width="9.29" height="10.33" fill="#FF0000"/>
<rect x="674.7" y="904.19" width="9.29" height="10.33" fill="#FFE8E8"/>
<rect x="683.93" y="904.19" width="9.29" height="10.33" fill="#66B5D4"/>
<rect x="693.15" y="904.19" width="18.51" height="10.33" fill="#8DCFE5"/>
<rect x="711.6" y="904.19" width="9.29" height="10.33" fill="#66B5D4"/>
<rect x="582.45" y="914.46" width="9.29" height="10.33" fill="#FFC4C4"/>
<rect x="591.68" y="914.46" width="9.29" height="10.33" fill="#FFE8E8"/>
<rect x="600.9" y="914.46" width="9.29" height="10.33" fill="#66B5D4"/>
<rect x="610.12" y="914.46" width="9.29" height="10.33" fill="#FF0000"/>
<rect x="619.35" y="914.46" width="9.29" height="10.33" fill="#8DCFE5"/>
<rect x="628.58" y="914.46" width="9.29" height="10.33" fill="#FF0000"/>
<rect x="637.8" y="914.46" width="9.29" height="10.33" fill="#8DCFE5"/>
<rect x="647.03" y="914.46" width="9.29" height="10.33" fill="#FF0000"/>
<rect x="656.25" y="914.46" width="18.51" height="10.33" fill="#8DCFE5"/>
<rect x="674.7" y="914.46" width="9.29" height="10.33" fill="#FFE8E8"/>
<rect x="683.93" y="914.46" width="27.73" height="10.33" fill="#FF0000"/>
<rect x="711.6" y="914.46" width="9.29" height="10.33" fill="#DDF0F7"/>
<rect x="582.45" y="924.73" width="9.29" height="10.33" fill="#66B5D4"/>
<rect x="591.68" y="924.73" width="9.29" height="10.33" fill="#8DCFE5"/>
<rect x="600.9" y="924.73" width="9.29" height="10.33" fill="#FFC4C4"/>
<rect x="610.12" y="924.73" width="9.29" height="10.33" fill="#8DCFE5"/>
<rect x="619.35" y="924.73" width="9.29" height="10.33" fill="#FF0000"/>
<rect x="628.58" y="924.73" width="9.29" height="10.33" fill="#4092BB"/>
<rect x="637.8" y="924.73" width="9.29" height="10.33" fill="#66B5D4"/>
<rect x="647.03" y="924.73" width="9.29" height="10.33" fill="#FFC4C4"/>
<rect x="656.25" y="924.73" width="9.29" height="10.33" fill="#4092BB"/>
<rect x="665.48" y="924.73" width="9.29" height="10.33" fill="#FF0000"/>
<rect x="674.7" y="924.73" width="9.29" height="10.33" fill="#FF4040"/>
<rect x="683.93" y="924.73" width="9.29" height="10.33" fill="#8DCFE5"/>
<rect x="693.15" y="924.73" width="9.29" height="10.33" fill="#66B5D4"/>
<rect x="702.38" y="924.73" width="9.29" height="10.33" fill="#B4DFED"/>
<rect x="711.6" y="924.73" width="9.29" height="10.33" fill="#8DCFE5"/>
<rect x="582.45" y="935" width="9.29" height="10.33" fill="#66B5D4"/>
<rect x="591.68" y="935" width="9.29" height="10.33" fill="#B4DFED"/>
<rect x="600.9" y="935" width="9.29" height="10.33" fill="#66B5D4"/>
<rect x="610.12" y="935" width="9.29" height="10.33" fill="#4092BB"/>
<rect x="619.35" y="935" width="9.29" height="10.33" fill="#FF0000"/>
<rect x="628.58" y="935" width="9.29" height="10.33" fill="#FFFFFF"/>
<rect x="637.8" y="935" width="9.29" height="10.33" fill="#4092BB"/>
<rect x="647.03" y="935" width="9.29" height="10.33" fill="#B4DFED"/>
<rect x="656.25" y="935" width="9.29" height="10.33" fill="#8DCFE5"/>
<rect x="665.48" y="935" width="9.29" height="10.33" fill="#FF0000"/>
<rect x="674.7" y="935" width="9.29" height="10.33" fill="#FF4040"/>
<rect x="683.93" y="935" width="9.29" height="10.33" fill="#FF8888"/>
<rect x="693.15" y="935" width="9.29" height="10.33" fill="#FF4040"/>
<rect x="702.38" y="935" width="9.29" height="10.33" fill="#4092BB"/>
<rect x="711.6" y="935" width="9.29" height="10.33" fill="#66B5D4"/>
<rect x="582.45" y="945.27" width="9.29" height="10.33" fill="#DDF0F7"/>
<rect x="591.68" y="945.27" width="9.29" height="10.33" fill="#FFC4C4"/>
<rect x="600.9" y="945.27" width="9.29" height="10.33" fill="#66B5D4"/>
<rect x="610.12" y="945.27" width="9.29" height="10.33" fill="#B4DFED"/>
<rect x="619.35" y="945.27" width="9.29" height="10.33" fill="#FF0000"/>
<rect x="628.58" y="945.27" width="18.51" height="10.33" fill="#66B5D4"/>
<rect x="647.03" y="945.27" width="9.29" height="10.33" fill="#DDF0F7"/>
<rect x="656.25" y="945.27" width="9.29" height="10.33" fill="#FFFFFF"/>
<rect x="665.48" y="945.27" width="9.29" height="10.33" fill="#FF0000"/>
<rect x="674.7" y="945.27" width="9.29" height="10.33" fill="#FFE8E8"/>
<rect x="683.93" y="945.27" width="9.29" height="10.33" fill="#66B5D4"/>
<rect x="693.15" y="945.27" width="18.51" height="10.33" fill="#8DCFE5"/>
<rect x="711.6" y="945.27" width="9.29" height="10.33" fill="#66B5D4"/>
<rect x="582.45" y="955.54" width="9.29" height="10.33" fill="#FFFFFF"/>
<rect x="591.68" y="955.54" width="9.29" height="10.33" fill="#FF4040"/>
<rect x="600.9" y="955.54" width="18.51" height="10.33" fill="#DDF0F7"/>
<rect x="619.35" y="955.54" width="9.29" height="10.33" fill="#FFE8E8"/>
<rect x="628.58" y="955.54" width="27.73" height="10.33" fill="#DDF0F7"/>
<rect x="656.25" y="955.54" width="9.29" height="10.33" fill="#8B0000"/>
<rect x="665.48" y="955.54" width="9.29" height="10.33" fill="#DDF0F7"/>
<rect x="674.7" y="955.54" width="9.29" height="10.33" fill="#FFE8E8"/>
<rect x="683.93" y="955.54" width="36.96" height="10.33" fill="#DDF0F7"/>
<rect x="582.45" y="965.81" width="9.29" height="10.33" fill="#FFC4C4"/>
<rect x="591.68" y="965.81" width="9.29" height="10.33" fill="#8DCFE5"/>
<rect x="600.9" y="965.81" width="18.51" height="10.33" fill="#FF0000"/>
<rect x="619.35" y="965.81" width="9.29" height="10.33" fill="#8DCFE5"/>
<rect x="628.58" y="965.81" width="27.73" height="10.33" fill="#FF0000"/>
<rect x="656.25" y="965.81" width="18.51" height="10.33" fill="#66B5D4"/>
<rect x="674.7" y="965.81" width="9.29" height="10.33" fill="#DDF0F7"/>
<rect x="683.93" y="965.81" width="27.73" height="10.33" fill="#FF0000"/>
<rect x="711.6" y="965.81" width="9.29" height="10.33" fill="#FFC4C4"/>
<rect x="582.45" y="976.08" width="9.29" height="10.33" fill="#8DCFE5"/>
<rect x="591.68" y="976.08" width="9.29" height="10.33" fill="#FF0000"/>
<rect x="600.9" y="976.08" width="9.29" height="10.33" fill="#8DCFE5"/>
<rect x="610.12" y="976.08" width="18.51" height="10.33" fill="#FF0000"/>
<rect x="628.58" y="976.08" width="9.29" height="10.33" fill="#FFFFFF"/>
<rect x="637.8" y="976.08" width="18.51" height="10.33" fill="#DDF0F7"/>
<rect x="656.25" y="976.08" width="9.29" height="10.33" fill="#FF0000"/>
<rect x="665.48" y="976.08" width="9.29" height="10.33" fill="#8DCFE5"/>
<rect x="674.7" y="976.08" width="9.29" height="10.33" fill="#FF0000"/>
<rect x="683.93" y="976.08" width="18.51" height="10.33" fill="#8DCFE5"/>
<rect x="702.38" y="976.08" width="9.29" height="10.33" fill="#B4DFED"/>
<rect x="711.6" y="976.08" width="9.29" height="10.33" fill="#FF0000"/>
<rect x="725.08" y="904.19" width="27.73" height="10.33" fill="#DDF0F7"/>
<rect x="752.75" y="904.19" width="18.51" height="10.33" fill="#FF0000"/>
<rect x="771.2" y="904.19" width="9.29" height="10.33" fill="#8DCFE5"/>
<rect x="780.43" y="904.19" width="9.29" height="10.33" fill="#FF0000"/>
<rect x="789.65" y="904.19" width="9.29" height="10.33" fill="#66B5D4"/>
<rect x="798.88" y="904.19" width="9.29" height="10.33" fill="#FFC4C4"/>
<rect x="808.1" y="904.19" width="9.29" height="10.33" fill="#FF0000"/>
<rect x="817.33" y="904.19" width="9.29" height="10.33" fill="#66B5D4"/>
<rect x="826.55" y="904.19" width="9.29" height="10.33" fill="#B4DFED"/>
<rect x="835.78" y="904.19" width="9.29" height="10.33" fill="#FF0000"/>
<rect x="845" y="904.19" width="9.29" height="10.33" fill="#FF4040"/>
<rect x="854.23" y="904.19" width="9.29" height="10.33" fill="#FF0000"/>
<rect x="725.08" y="914.46" width="18.51" height="10.33" fill="#DDF0F7"/>
<rect x="743.53" y="914.46" width="9.29" height="10.33" fill="#4092BB"/>
<rect x="752.75" y="914.46" width="18.51" height="10.33" fill="#66B5D4"/>
<rect x="771.2" y="914.46" width="9.29" height="10.33" fill="#FF0000"/>
<rect x="780.43" y="914.46" width="9.29" height="10.33" fill="#66B5D4"/>
<rect x="789.65" y="914.46" width="9.29" height="10.33" fill="#FF0000"/>
<rect x="798.88" y="914.46" width="9.29" height="10.33" fill="#FFC4C4"/>
<rect x="808.1" y="914.46" width="9.29" height="10.33" fill="#66B5D4"/>
<rect x="817.33" y="914.46" width="9.29" height="10.33" fill="#FFC4C4"/>
<rect x="826.55" y="914.46" width="9.29" height="10.33" fill="#FF8888"/>
<rect x="835.78" y="914.46" width="9.29" height="10.33" fill="#66B5D4"/>
<rect x="845" y="914.46" width="9.29" height="10.33" fill="#FF4040"/>
<rect x="854.23" y="914.46" width="9.29" height="10.33" fill="#66B5D4"/>
<rect x="725.08" y="924.73" width="9.29" height="10.33" fill="#FFC4C4"/>
<rect x="734.3" y="924.73" width="9.29" height="10.33" fill="#DDF0F7"/>
<rect x="743.53" y="924.73" width="9.29" height="10.33" fill="#FF8888"/>
<rect x="752.75" y="924.73" width="18.51" height="10.33" fill="#FF0000"/>
<rect x="771.2" y="924.73" width="9.29" height="10.33" fill="#8DCFE5"/>
<rect x="780.43" y="924.73" width="9.29" height="10.33" fill="#FF0000"/>
<rect x="789.65" y="924.73" width="9.29" height="10.33" fill="#66B5D4"/>
<rect x="798.88" y="924.73" width="9.29" height="10.33" fill="#FFC4C4"/>
<rect x="808.1" y="924.73" width="9.29" height="10.33" fill="#FF0000"/>
<rect x="817.33" y="924.73" width="18.51" height="10.33" fill="#66B5D4"/>
<rect x="835.78" y="924.73" width="9.29" height="10.33" fill="#FF0000"/>
<rect x="845" y="924.73" width="9.29" height="10.33" fill="#FF4040"/>
<rect x="854.23" y="924.73" width="9.29" height="10.33" fill="#FF0000"/>
<rect x="725.08" y="935" width="9.29" height="10.33" fill="#FF8888"/>
<rect x="734.3" y="935" width="9.29" height="10.33" fill="#FFC4C4"/>
<rect x="743.53" y="935" width="9.29" height="10.33" fill="#DDF0F7"/>
<rect x="752.75" y="935" width="18.51" height="10.33" fill="#FF0000"/>
<rect x="771.2" y="935" width="9.29" height="10.33" fill="#8DCFE5"/>
<rect x="780.43" y="935" width="9.29" height="10.33" fill="#FF0000"/>
<rect x="789.65" y="935" width="9.29" height="10.33" fill="#4092BB"/>
<rect x="798.88" y="935" width="9.29" height="10.33" fill="#FF8888"/>
<rect x="808.1" y="935" width="9.29" height="10.33" fill="#FF0000"/>
<rect x="817.33" y="935" width="18.51" height="10.33" fill="#B4DFED"/>
<rect x="835.78" y="935" width="9.29" height="10.33" fill="#FF0000"/>
<rect x="845" y="935" width="9.29" height="10.33" fill="#DDF0F7"/>
<rect x="854.23" y="935" width="9.29" height="10.33" fill="#FF0000"/>
<rect x="725.08" y="945.27" width="9.29" height="10.33" fill="#FFFFFF"/>
<rect x="734.3" y="945.27" width="9.29" height="10.33" fill="#FF8888"/>
<rect x="743.53" y="945.27" width="9.29" height="10.33" fill="#B4DFED"/>
<rect x="752.75" y="945.27" width="18.51" height="10.33" fill="#FF0000"/>
<rect x="771.2" y="945.27" width="9.29" height="10.33" fill="#8DCFE5"/>
<rect x="780.43" y="945.27" width="9.29" height="10.33" fill="#FF0000"/>
<rect x="789.65" y="945.27" width="9.29" height="10.33" fill="#66B5D4"/>
<rect x="798.88" y="945.27" width="9.29" height="10.33" fill="#FFFFFF"/>
<rect x="808.1" y="945.27" width="9.29" height="10.33" fill="#FF0000"/>
<rect x="817.33" y="945.27" width="18.51" height="10.33" fill="#DDF0F7"/>
<rect x="835.78" y="945.27" width="9.29" height="10.33" fill="#FF0000"/>
<rect x="845" y="945.27" width="9.29" height="10.33" fill="#DDF0F7"/>
<rect x="854.23" y="945.27" width="9.29" height="10.33" fill="#FF4040"/>
<rect x="725.08" y="955.54" width="9.29" height="10.33" fill="#FFFFFF"/>
<rect x="734.3" y="955.54" width="9.29" height="10.33" fill="#FF8888"/>
<rect x="743.53" y="955.54" width="9.29" height="10.33" fill="#DDF0F7"/>
<rect x="752.75" y="955.54" width="64.64" height="10.33" fill="#B4DFED"/>
<rect x="817.33" y="955.54" width="9.29" height="10.33" fill="#FFE8E8"/>
<rect x="826.55" y="955.54" width="9.29" height="10.33" fill="#DDF0F7"/>
<rect x="835.78" y="955.54" width="27.73" height="10.33" fill="#B4DFED"/>
<rect x="725.08" y="965.81" width="9.29" height="10.33" fill="#FFE8E8"/>
<rect x="734.3" y="965.81" width="9.29" height="10.33" fill="#8DCFE5"/>
<rect x="743.53" y="965.81" width="9.29" height="10.33" fill="#FF4040"/>
<rect x="752.75" y="965.81" width="18.51" height="10.33" fill="#66B5D4"/>
<rect x="771.2" y="965.81" width="9.29" height="10.33" fill="#FF0000"/>
<rect x="780.43" y="965.81" width="9.29" height="10.33" fill="#66B5D4"/>
<rect x="789.65" y="965.81" width="9.29" height="10.33" fill="#DDF0F7"/>
<rect x="798.88" y="965.81" width="9.29" height="10.33" fill="#FFC4C4"/>
<rect x="808.1" y="965.81" width="9.29" height="10.33" fill="#66B5D4"/>
<rect x="817.33" y="965.81" width="9.29" height="10.33" fill="#DDF0F7"/>
<rect x="826.55" y="965.81" width="9.29" height="10.33" fill="#FF8888"/>
<rect x="835.78" y="965.81" width="9.29" height="10.33" fill="#66B5D4"/>
<rect x="845" y="965.81" width="9.29" height="10.33" fill="#FFC4C4"/>
<rect x="854.23" y="965.81" width="9.29" height="10.33" fill="#66B5D4"/>
<rect x="725.08" y="976.08" width="9.29" height="10.33" fill="#FF0000"/>
<rect x="734.3" y="976.08" width="9.29" height="10.33" fill="#8DCFE5"/>
<rect x="743.53" y="976.08" width="9.29" height="10.33" fill="#FFC4C4"/>
<rect x="752.75" y="976.08" width="9.29" height="10.33" fill="#8DCFE5"/>
<rect x="761.98" y="976.08" width="9.29" height="10.33" fill="#B4DFED"/>
<rect x="771.2" y="976.08" width="18.51" height="10.33" fill="#8DCFE5"/>
<rect x="789.65" y="976.08" width="9.29" height="10.33" fill="#B4DFED"/>
<rect x="798.88" y="976.08" width="9.29" height="10.33" fill="#FFC4C4"/>
<rect x="808.1" y="976.08" width="55.41" height="10.33" fill="#8DCFE5"/>
<text x="866.6" y="913.02" font-size="10.25" transform="rotate(0.03 866.6 913.02)">ko03013| RNA transport</text>
<text x="866.6" y="923.29" font-size="10.25" transform="rotate(0.03 866.6 923.29)">ko00061| Fatty acid biosynthesis</text>
<text x="866.6" y="933.56" font-size="10.25" transform="rotate(0.03 866.6 933.56)">ko00100| Steroid biosynthesis</text>
<text x="866.6" y="943.84" font-size="10.25" transform="rotate(0.03 866.6 943.84)">ko00770| Pantothenate and CoA biosynthesis</text>
<text x="866.6" y="954.11" font-size="10.25" transform="rotate(0.03 866.6 954.11)">ko00920| Sulfur metabolism</text>
<text x="866.6" y="964.38" font-size="10.25" transform="rotate(0.03 866.6 964.38)">ko00620| Pyruvate metabolism</text>
<text x="866.6" y="974.64" font-size="10.25" transform="rotate(0.03 866.6 974.64)">ko05142| Chagas disease (American trypanosomiasis)</text>
<text x="866.6" y="984.91" font-size="10.25" transform="rotate(0.03 866.6 984.91)">ko05120| Epithelial cell signaling in Helicobacter pylori infection</text>
<rect x="321.2" y="990.35" width="9.4" height="10.33" fill="#F2CB2E"/>
<rect x="321.2" y="1000.62" width="9.4" height="10.33" fill="#78EC66"/>
<rect x="321.2" y="1010.89" width="9.4" height="10.33" fill="#6490E8"/>
<rect x="321.2" y="1021.16" width="9.4" height="10.33" fill="#6490E8"/>
<rect x="321.2" y="1031.43" width="9.4" height="10.33" fill="#6490E8"/>
<rect x="321.2" y="1041.7" width="9.4" height="10.33" fill="#6490E8"/>
<rect x="321.2" y="1051.97" width="9.4" height="10.33" fill="#6490E8"/>
<rect x="321.2" y="1062.24" width="9.4" height="10.33" fill="#6490E8"/>
<rect x="321.2" y="1072.51" width="9.4" height="10.33" fill="#6490E8"/>
<rect x="321.2" y="1082.78" width="9.4" height="10.33" fill="#6490E8"/>
<rect x="321.2" y="1093.05" width="9.4" height="10.33" fill="#6490E8"/>
<rect x="321.2" y="1103.32" width="9.4" height="10.33" fill="#6490E8"/>
<rect x="321.2" y="1113.59" width="9.4" height="10.33" fill="#6490E8"/>
<rect x="321.2" y="1123.86" width="9.4" height="10.33" fill="#6490E8"/>
<rect x="321.2" y="1134.13" width="9.4" height="10.33" fill="#6490E8"/>
<rect x="321.2" y="1144.4" width="9.4" height="10.33" fill="#6490E8"/>
<rect x="321.2" y="1154.67" width="9.4" height="10.33" fill="#F01E96"/>
<rect x="334.1" y="990.35" width="119.93" height="174.59" fill="#E5E5E5"/>
<rect x="458.28" y="990.35" width="119.93" height="174.59" fill="#E5E5E5"/>
<rect x="582.45" y="990.35" width="9.29" height="10.33" fill="#FF8888"/>
<rect x="591.68" y="990.35" width="9.29" height="10.33" fill="#FF0000"/>
<rect x="600.9" y="990.35" width="9.29" height="10.33" fill="#66B5D4"/>
<rect x="610.12" y="990.35" width="9.29" height="10.33" fill="#8DCFE5"/>
<rect x="619.35" y="990.35" width="9.29" height="10.33" fill="#FF4040"/>
<rect x="628.58" y="990.35" width="9.29" height="10.33" fill="#8DCFE5"/>
<rect x="637.8" y="990.35" width="9.29" height="10.33" fill="#66B5D4"/>
<rect x="647.03" y="990.35" width="9.29" height="10.33" fill="#8DCFE5"/>
<rect x="656.25" y="990.35" width="18.51" height="10.33" fill="#FF0000"/>
<rect x="674.7" y="990.35" width="9.29" height="10.33" fill="#B4DFED"/>
<rect x="683.93" y="990.35" width="9.29" height="10.33" fill="#2C6591"/>
<rect x="693.15" y="990.35" width="9.29" height="10.33" fill="#B4DFED"/>
<rect x="702.38" y="990.35" width="18.51" height="10.33" fill="#66B5D4"/>
<rect x="582.45" y="1000.62" width="9.29" height="10.33" fill="#FF4040"/>
<rect x="591.68" y="1000.62" width="9.29" height="10.33" fill="#FF0000"/>
<rect x="600.9" y="1000.62" width="9.29" height="10.33" fill="#4092BB"/>
<rect x="610.12" y="1000.62" width="9.29" height="10.33" fill="#FF8888"/>
<rect x="619.35" y="1000.62" width="9.29" height="10.33" fill="#FF4040"/>
<rect x="628.58" y="1000.62" width="9.29" height="10.33" fill="#66B5D4"/>
<rect x="637.8" y="1000.62" width="9.29" height="10.33" fill="#4092BB"/>
<rect x="647.03" y="1000.62" width="9.29" height="10.33" fill="#2C6591"/>
<rect x="656.25" y="1000.62" width="9.29" height="10.33" fill="#FF0000"/>
<rect x="665.48" y="1000.62" width="18.51" height="10.33" fill="#FF8888"/>
<rect x="683.93" y="1000.62" width="9.29" height="10.33" fill="#FFC4C4"/>
<rect x="693.15" y="1000.62" width="9.29" height="10.33" fill="#66B5D4"/>
<rect x="702.38" y="1000.62" width="18.51" height="10.33" fill="#8DCFE5"/>
<rect x="582.45" y="1010.89" width="9.29" height="10.33" fill="#DDF0F7"/>
<rect x="591.68" y="1010.89" width="9.29" height="10.33" fill="#8DCFE5"/>
<rect x="600.9" y="1010.89" width="9.29" height="10.33" fill="#66B5D4"/>
<rect x="610.12" y="1010.89" width="27.73" height="10.33" fill="#FF4040"/>
<rect x="637.8" y="1010.89" width="9.29" height="10.33" fill="#8DCFE5"/>
<rect x="647.03" y="1010.89" width="9.29" height="10.33" fill="#FFC4C4"/>
<rect x="656.25" y="1010.89" width="9.29" height="10.33" fill="#2C6591"/>
<rect x="665.48" y="1010.89" width="9.29" height="10.33" fill="#FF0000"/>
<rect x="674.7" y="1010.89" width="9.29" height="10.33" fill="#FF4040"/>
<rect x="683.93" y="1010.89" width="9.29" height="10.33" fill="#2C6591"/>
<rect x="693.15" y="1010.89" width="9.29" height="10.33" fill="#FFFFFF"/>
<rect x="702.38" y="1010.89" width="9.29" height="10.33" fill="#FF4040"/>
<rect x="711.6" y="1010.89" width="9.29" height="10.33" fill="#DDF0F7"/>
<rect x="582.45" y="1021.16" width="9.29" height="10.33" fill="#FFC4C4"/>
<rect x="591.68" y="1021.16" width="9.29" height="10.33" fill="#B4DFED"/>
<rect x="600.9" y="1021.16" width="9.29" height="10.33" fill="#66B5D4"/>
<rect x="610.12" y="1021.16" width="9.29" height="10.33" fill="#FF0000"/>
<rect x="619.35" y="1021.16" width="9.29" height="10.33" fill="#8DCFE5"/>
<rect x="628.58" y="1021.16" width="9.29" height="10.33" fill="#FF0000"/>
<rect x="637.8" y="1021.16" width="9.29" height="10.33" fill="#66B5D4"/>
<rect x="647.03" y="1021.16" width="9.29" height="10.33" fill="#FF0000"/>
<rect x="656.25" y="1021.16" width="18.51" height="10.33" fill="#8DCFE5"/>
<rect x="674.7" y="1021.16" width="9.29" height="10.33" fill="#FF8888"/>
<rect x="683.93" y="1021.16" width="36.96" height="10.33" fill="#FF0000"/>
<rect x="582.45" y="1031.43" width="9.29" height="10.33" fill="#8DCFE5"/>
<rect x="591.68" y="1031.43" width="9.29" height="10.33" fill="#66B5D4"/>
<rect x="600.9" y="1031.43" width="9.29" height="10.33" fill="#B4DFED"/>
<rect x="610.12" y="1031.43" width="9.29" height="10.33" fill="#66B5D4"/>
<rect x="619.35" y="1031.43" width="9.29" height="10.33" fill="#FF8888"/>
<rect x="628.58" y="1031.43" width="9.29" height="10.33" fill="#8DCFE5"/>
<rect x="637.8" y="1031.43" width="9.29" height="10.33" fill="#66B5D4"/>
<rect x="647.03" y="1031.43" width="9.29" height="10.33" fill="#DDF0F7"/>
<rect x="656.25" y="1031.43" width="9.29" height="10.33" fill="#4092BB"/>
<rect x="665.48" y="1031.43" width="9.29" height="10.33" fill="#FF0000"/>
<rect x="674.7" y="1031.43" width="9.29" height="10.33" fill="#B4DFED"/>
<rect x="683.93" y="1031.43" width="9.29" height="10.33" fill="#FF0000"/>
<rect x="693.15" y="1031.43" width="9.29" height="10.33" fill="#DDF0F7"/>
<rect x="702.38" y="1031.43" width="18.51" height="10.33" fill="#8DCFE5"/>
<rect x="582.45" y="1041.7" width="18.51" height="10.33" fill="#8DCFE5"/>
<rect x="600.9" y="1041.7" width="9.29" height="10.33" fill="#FF0000"/>
<rect x="610.12" y="1041.7" width="9.29" height="10.33" fill="#4092BB"/>
<rect x="619.35" y="1041.7" width="9.29" height="10.33" fill="#FF8888"/>
<rect x="628.58" y="1041.7" width="9.29" height="10.33" fill="#8DCFE5"/>
<rect x="637.8" y="1041.7" width="9.29" height="10.33" fill="#FFFFFF"/>
<rect x="647.03" y="1041.7" width="9.29" height="10.33" fill="#8DCFE5"/>
<rect x="656.25" y="1041.7" width="9.29" height="10.33" fill="#66B5D4"/>
<rect x="665.48" y="1041.7" width="9.29" height="10.33" fill="#FF0000"/>
<rect x="674.7" y="1041.7" width="9.29" height="10.33" fill="#DDF0F7"/>
<rect x="683.93" y="1041.7" width="9.29" height="10.33" fill="#FF4040"/>
<rect x="693.15" y="1041.7" width="9.29" height="10.33" fill="#DDF0F7"/>
<rect x="702.38" y="1041.7" width="9.29" height="10.33" fill="#66B5D4"/>
<rect x="711.6" y="1041.7" width="9.29" height="10.33" fill="#8DCFE5"/>
<rect x="582.45" y="1051.97" width="9.29" height="10.33" fill="#8DCFE5"/>
<rect x="591.68" y="1051.97" width="18.51" height="10.33" fill="#DDF0F7"/>
<rect x="610.12" y="1051.97" width="9.29" height="10.33" fill="#8DCFE5"/>
<rect x="619.35" y="1051.97" width="9.29" height="10.33" fill="#FF0000"/>
<rect x="628.58" y="1051.97" width="9.29" height="10.33" fill="#4092BB"/>
<rect x="637.8" y="1051.97" width="9.29" height="10.33" fill="#66B5D4"/>
<rect x="647.03" y="1051.97" width="9.29" height="10.33" fill="#8DCFE5"/>
<rect x="656.25" y="1051.97" width="9.29" height="10.33" fill="#B4DFED"/>
<rect x="665.48" y="1051.97" width="18.51" height="10.33" fill="#FF0000"/>
<rect x="683.93" y="1051.97" width="18.51" height="10.33" fill="#4092BB"/>
<rect x="702.38" y="1051.97" width="9.29" height="10.33" fill="#66B5D4"/>
<rect x="711.6" y="1051.97" width="9.29" height="10.33" fill="#8DCFE5"/>
<rect x="582.45" y="1062.24" width="18.51" height="10.33" fill="#4092BB"/>
<rect x="600.9" y="1062.24" width="18.51" height="10.33" fill="#DDF0F7"/>
<rect x="619.35" y="1062.24" width="9.29" height="10.33" fill="#FF8888"/>
<rect x="628.58" y="1062.24" width="9.29" height="10.33" fill="#FFE8E8"/>
<rect x="637.8" y="1062.24" width="9.29" height="10.33" fill="#66B5D4"/>
<rect x="647.03" y="1062.24" width="9.29" height="10.33" fill="#DDF0F7"/>
<rect x="656.25" y="1062.24" width="9.29" height="10.33" fill="#4092BB"/>
<rect x="665.48" y="1062.24" width="9.29" height="10.33" fill="#FF0000"/>
<rect x="674.7" y="1062.24" width="9.29" height="10.33" fill="#FF8888"/>
<rect x="683.93" y="1062.24" width="18.51" height="10.33" fill="#B4DFED"/>
<rect x="702.38" y="1062.24" width="9.29" height="10.33" fill="#FF4040"/>
<rect x="711.6" y="1062.24" width="9.29" height="10.33" fill="#B4DFED"/>
<rect x="582.45" y="1072.51" width="9.29" height="10.33" fill="#FFFFFF"/>
<rect x="591.68" y="1072.51" width="9.29" height="10.33" fill="#8DCFE5"/>
<rect x="600.9" y="1072.51" width="9.29" height="10.33" fill="#FF0000"/>
<rect x="610.12" y="1072.51" width="9.29" height="10.33" fill="#FF4040"/>
<rect x="619.35" y="1072.51" width="9.29" height="10.33" fill="#8DCFE5"/>
<rect x="628.58" y="1072.51" width="27.73" height="10.33" fill="#FF0000"/>
<rect x="656.25" y="1072.51" width="9.29" height="10.33" fill="#8DCFE5"/>
<rect x="665.48" y="1072.51" width="9.29" height="10.33" fill="#66B5D4"/>
<rect x="674.7" y="1072.51" width="9.29" height="10.33" fill="#B4DFED"/>
<rect x="683.93" y="1072.51" width="9.29" height="10.33" fill="#FF0000"/>
<rect x="693.15" y="1072.51" width="9.29" height="10.33" fill="#FF4040"/>
<rect x="702.38" y="1072.51" width="9.29" height="10.33" fill="#FF0000"/>
<rect x="711.6" y="1072.51" width="9.29" height="10.33" fill="#FF4040"/>
<rect x="582.45" y="1082.78" width="9.29" height="10.33" fill="#66B5D4"/>
<rect x="591.68" y="1082.78" width="9.29" height="10.33" fill="#8DCFE5"/>
<rect x="600.9" y="1082.78" width="9.29" height="10.33" fill="#4092BB"/>
<rect x="610.12" y="1082.78" width="9.29" height="10.33" fill="#B4DFED"/>
<rect x="619.35" y="1082.78" width="9.29" height="10.33" fill="#FF4040"/>
<rect x="628.58" y="1082.78" width="9.29" height="10.33" fill="#66B5D4"/>
<rect x="637.8" y="1082.78" width="9.29" height="10.33" fill="#4092BB"/>
<rect x="647.03" y="1082.78" width="18.51" height="10.33" fill="#8DCFE5"/>
<rect x="665.48" y="1082.78" width="9.29" height="10.33" fill="#FF0000"/>
<rect x="674.7" y="1082.78" width="9.29" height="10.33" fill="#FFC4C4"/>
<rect x="683.93" y="1082.78" width="9.29" height="10.33" fill="#FF0000"/>
<rect x="693.15" y="1082.78" width="9.29" height="10.33" fill="#8DCFE5"/>
<rect x="702.38" y="1082.78" width="9.29" height="10.33" fill="#B4DFED"/>
<rect x="711.6" y="1082.78" width="9.29" height="10.33" fill="#8DCFE5"/>
<rect x="582.45" y="1093.05" width="18.51" height="10.33" fill="#8DCFE5"/>
<rect x="600.9" y="1093.05" width="9.29" height="10.33" fill="#66B5D4"/>
<rect x="610.12" y="1093.05" width="9.29" height="10.33" fill="#B4DFED"/>
<rect x="619.35" y="1093.05" width="9.29" height="10.33" fill="#FF8888"/>
<rect x="628.58" y="1093.05" width="18.51" height="10.33" fill="#66B5D4"/>
<rect x="647.03" y="1093.05" width="9.29" height="10.33" fill="#8DCFE5"/>
<rect x="656.25" y="1093.05" width="9.29" height="10.33" fill="#FF8888"/>
<rect x="665.48" y="1093.05" width="9.29" height="10.33" fill="#FF0000"/>
<rect x="674.7" y="1093.05" width="9.29" height="10.33" fill="#FFC4C4"/>
<rect x="683.93" y="1093.05" width="9.29" height="10.33" fill="#66B5D4"/>
<rect x="693.15" y="1093.05" width="18.51" height="10.33" fill="#8DCFE5"/>
<rect x="711.6" y="1093.05" width="9.29" height="10.33" fill="#B4DFED"/>
<rect x="582.45" y="1103.32" width="9.29" height="10.33" fill="#DDF0F7"/>
<rect x="591.68" y="1103.32" width="9.29" height="10.33" fill="#B4DFED"/>
<rect x="600.9" y="1103.32" width="9.29" height="10.33" fill="#FF0000"/>
<rect x="610.12" y="1103.32" width="9.29" height="10.33" fill="#FF8888"/>
<rect x="619.35" y="1103.32" width="9.29" height="10.33" fill="#4092BB"/>
<rect x="628.58" y="1103.32" width="27.73" height="10.33" fill="#FF0000"/>
<rect x="656.25" y="1103.32" width="9.29" height="10.33" fill="#66B5D4"/>
<rect x="665.48" y="1103.32" width="9.29" height="10.33" fill="#DDF0F7"/>
<rect x="674.7" y="1103.32" width="9.29" height="10.33" fill="#B4DFED"/>
<rect x="683.93" y="1103.32" width="36.96" height="10.33" fill="#FF0000"/>
<rect x="582.45" y="1113.59" width="9.29" height="10.33" fill="#FF8888"/>
<rect x="591.68" y="1113.59" width="9.29" height="10.33" fill="#66B5D4"/>
<rect x="600.9" y="1113.59" width="9.29" height="10.33" fill="#4092BB"/>
<rect x="610.12" y="1113.59" width="9.29" height="10.33" fill="#DDF0F7"/>
<rect x="619.35" y="1113.59" width="9.29" height="10.33" fill="#FFFFFF"/>
<rect x="628.58" y="1113.59" width="9.29" height="10.33" fill="#DDF0F7"/>
<rect x="637.8" y="1113.59" width="9.29" height="10.33" fill="#8DCFE5"/>
<rect x="647.03" y="1113.59" width="9.29" height="10.33" fill="#66B5D4"/>
<rect x="656.25" y="1113.59" width="9.29" height="10.33" fill="#4092BB"/>
<rect x="665.48" y="1113.59" width="9.29" height="10.33" fill="#FF0000"/>
<rect x="674.7" y="1113.59" width="9.29" height="10.33" fill="#FF4040"/>
<rect x="683.93" y="1113.59" width="9.29" height="10.33" fill="#FF0000"/>
<rect x="693.15" y="1113.59" width="9.29" height="10.33" fill="#4092BB"/>
<rect x="702.38" y="1113.59" width="9.29" height="10.33" fill="#DDF0F7"/>
<rect x="711.6" y="1113.59" width="9.29" height="10.33" fill="#66B5D4"/>
<rect x="582.45" y="1123.86" width="18.51" height="10.33" fill="#8DCFE5"/>
<rect x="600.9" y="1123.86" width="9.29" height="10.33" fill="#DDF0F7"/>
<rect x="610.12" y="1123.86" width="9.29" height="10.33" fill="#8DCFE5"/>
<rect x="619.35" y="1123.86" width="9.29" height="10.33" fill="#FF0000"/>
<rect x="628.58" y="1123.86" width="9.29" height="10.33" fill="#8DCFE5"/>
<rect x="637.8" y="1123.86" width="9.29" height="10.33" fill="#DDF0F7"/>
<rect x="647.03" y="1123.86" width="18.51" height="10.33" fill="#8DCFE5"/>
<rect x="665.48" y="1123.86" width="9.29" height="10.33" fill="#FF0000"/>
<rect x="674.7" y="1123.86" width="27.73" height="10.33" fill="#8DCFE5"/>
<rect x="702.38" y="1123.86" width="9.29" height="10.33" fill="#B4DFED"/>
<rect x="711.6" y="1123.86" width="9.29" height="10.33" fill="#8DCFE5"/>
<rect x="582.45" y="1134.13" width="9.29" height="10.33" fill="#8DCFE5"/>
<rect x="591.68" y="1134.13" width="9.29" height="10.33" fill="#4092BB"/>
<rect x="600.9" y="1134.13" width="9.29" height="10.33" fill="#FFC4C4"/>
<rect x="610.12" y="1134.13" width="9.29" height="10.33" fill="#66B5D4"/>
<rect x="619.35" y="1134.13" width="9.29" height="10.33" fill="#FF8888"/>
<rect x="628.58" y="1134.13" width="9.29" height="10.33" fill="#66B5D4"/>
<rect x="637.8" y="1134.13" width="9.29" height="10.33" fill="#B4DFED"/>
<rect x="647.03" y="1134.13" width="9.29" height="10.33" fill="#DDF0F7"/>
<rect x="656.25" y="1134.13" width="9.29" height="10.33" fill="#4092BB"/>
<rect x="665.48" y="1134.13" width="9.29" height="10.33" fill="#FF0000"/>
<rect x="674.7" y="1134.13" width="9.29" height="10.33" fill="#FF8888"/>
<rect x="683.93" y="1134.13" width="9.29" height="10.33" fill="#FF4040"/>
<rect x="693.15" y="1134.13" width="9.29" height="10.33" fill="#8DCFE5"/>
<rect x="702.38" y="1134.13" width="9.29" height="10.33" fill="#66B5D4"/>
<rect x="711.6" y="1134.13" width="9.29" height="10.33" fill="#8DCFE5"/>
<rect x="582.45" y="1144.4" width="36.96" height="10.33" fill="#8DCFE5"/>
<rect x="619.35" y="1144.4" width="9.29" height="10.33" fill="#FF0000"/>
<rect x="628.58" y="1144.4" width="18.51" height="10.33" fill="#66B5D4"/>
<rect x="647.03" y="1144.4" width="9.29" height="10.33" fill="#DDF0F7"/>
<rect x="656.25" y="1144.4" width="9.29" height="10.33" fill="#66B5D4"/>
<rect x="665.48" y="1144.4" width="9.29" height="10.33" fill="#FF0000"/>
<rect x="674.7" y="1144.4" width="9.29" height="10.33" fill="#FF8888"/>
<rect x="683.93" y="1144.4" width="18.51" height="10.33" fill="#66B5D4"/>
<rect x="702.38" y="1144.4" width="9.29" height="10.33" fill="#8DCFE5"/>
<rect x="711.6" y="1144.4" width="9.29" height="10.33" fill="#FFC4C4"/>
<rect x="582.45" y="1154.67" width="9.29" height="10.33" fill="#FF4040"/>
<rect x="591.68" y="1154.67" width="9.29" height="10.33" fill="#FF8888"/>
<rect x="600.9" y="1154.67" width="9.29" height="10.33" fill="#66B5D4"/>
<rect x="610.12" y="1154.67" width="9.29" height="10.33" fill="#FF0000"/>
<rect x="619.35" y="1154.67" width="9.29" height="10.33" fill="#8DCFE5"/>
<rect x="628.58" y="1154.67" width="9.29" height="10.33" fill="#FF0000"/>
<rect x="637.8" y="1154.67" width="9.29" height="10.33" fill="#B4DFED"/>
<rect x="647.03" y="1154.67" width="9.29" height="10.33" fill="#FF0000"/>
<rect x="656.25" y="1154.67" width="9.29" height="10.33" fill="#DDF0F7"/>
<rect x="665.48" y="1154.67" width="9.29" height="10.33" fill="#66B5D4"/>
<rect x="674.7" y="1154.67" width="9.29" height="10.33" fill="#FFE8E8"/>
<rect x="683.93" y="1154.67" width="9.29" height="10.33" fill="#FFC4C4"/>
<rect x="693.15" y="1154.67" width="27.73" height="10.33" fill="#FF0000"/>
<rect x="725.08" y="990.35" width="18.51" height="10.33" fill="#FF0000"/>
<rect x="743.53" y="990.35" width="9.29" height="10.33" fill="#B4DFED"/>
<rect x="752.75" y="990.35" width="18.51" height="10.33" fill="#FF0000"/>
<rect x="771.2" y="990.35" width="9.29" height="10.33" fill="#66B5D4"/>
<rect x="780.43" y="990.35" width="9.29" height="10.33" fill="#FF0000"/>
<rect x="789.65" y="990.35" width="9.29" height="10.33" fill="#66B5D4"/>
<rect x="798.88" y="990.35" width="9.29" height="10.33" fill="#DDF0F7"/>
<rect x="808.1" y="990.35" width="9.29" height="10.33" fill="#FF0000"/>
<rect x="817.33" y="990.35" width="9.29" height="10.33" fill="#FF8888"/>
<rect x="826.55" y="990.35" width="9.29" height="10.33" fill="#FF4040"/>
<rect x="835.78" y="990.35" width="9.29" height="10.33" fill="#FF0000"/>
<rect x="845" y="990.35" width="9.29" height="10.33" fill="#DDF0F7"/>
<rect x="854.23" y="990.35" width="9.29" height="10.33" fill="#FF0000"/>
<rect x="725.08" y="1000.62" width="9.29" height="10.33" fill="#FF4040"/>
<rect x="734.3" y="1000.62" width="9.29" height="10.33" fill="#FF0000"/>
<rect x="743.53" y="1000.62" width="9.29" height="10.33" fill="#8DCFE5"/>
<rect x="752.75" y="1000.62" width="9.29" height="10.33" fill="#FF0000"/>
<rect x="761.98" y="1000.62" width="9.29" height="10.33" fill="#FFC4C4"/>
<rect x="771.2" y="1000.62" width="9.29" height="10.33" fill="#B4DFED"/>
<rect x="780.43" y="1000.62" width="9.29" height="10.33" fill="#FF4040"/>
<rect x="789.65" y="1000.62" width="9.29" height="10.33" fill="#B4DFED"/>
<rect x="798.88" y="1000.62" width="9.29" height="10.33" fill="#FFC4C4"/>
<rect x="808.1" y="1000.62" width="9.29" height="10.33" fill="#FF0000"/>
<rect x="817.33" y="1000.62" width="9.29" height="10.33" fill="#FF4040"/>
<rect x="826.55" y="1000.62" width="9.29" height="10.33" fill="#FF0000"/>
<rect x="835.78" y="1000.62" width="9.29" height="10.33" fill="#FF8888"/>
<rect x="845" y="1000.62" width="9.29" height="10.33" fill="#DDF0F7"/>
<rect x="854.23" y="1000.62" width="9.29" height="10.33" fill="#FFC4C4"/>
<rect x="725.08" y="1010.89" width="9.29" height="10.33" fill="#FFE8E8"/>
<rect x="734.3" y="1010.89" width="9.29" height="10.33" fill="#B4DFED"/>
<rect x="743.53" y="1010.89" width="9.29" height="10.33" fill="#8DCFE5"/>
<rect x="752.75" y="1010.89" width="9.29" height="10.33" fill="#FF0000"/>
<rect x="761.98" y="1010.89" width="9.29" height="10.33" fill="#FF4040"/>
<rect x="771.2" y="1010.89" width="18.51" height="10.33" fill="#FF0000"/>
<rect x="789.65" y="1010.89" width="18.51" height="10.33" fill="#FF8888"/>
<rect x="808.1" y="1010.89" width="9.29" height="10.33" fill="#FF0000"/>
<rect x="817.33" y="1010.89" width="9.29" height="10.33" fill="#B4DFED"/>
<rect x="826.55" y="1010.89" width="9.29" height="10.33" fill="#FFFFFF"/>
<rect x="835.78" y="1010.89" width="18.51" height="10.33" fill="#FF0000"/>
<rect x="854.23" y="1010.89" width="9.29" height="10.33" fill="#FF4040"/>
<rect x="725.08" y="1021.16" width="9.29" height="10.33" fill="#FF8888"/>
<rect x="734.3" y="1021.16" width="9.29" height="10.33" fill="#B4DFED"/>
<rect x="743.53" y="1021.16" width="27.73" height="10.33" fill="#66B5D4"/>
<rect x="771.2" y="1021.16" width="9.29" height="10.33" fill="#FF0000"/>
<rect x="780.43" y="1021.16" width="9.29" height="10.33" fill="#66B5D4"/>
<rect x="789.65" y="1021.16" width="9.29" height="10.33" fill="#DDF0F7"/>
<rect x="798.88" y="1021.16" width="9.29" height="10.33" fill="#FF8888"/>
<rect x="808.1" y="1021.16" width="18.51" height="10.33" fill="#8DCFE5"/>
<rect x="826.55" y="1021.16" width="9.29" height="10.33" fill="#FF8888"/>
<rect x="835.78" y="1021.16" width="9.29" height="10.33" fill="#66B5D4"/>
<rect x="845" y="1021.16" width="9.29" height="10.33" fill="#FFE8E8"/>
<rect x="854.23" y="1021.16" width="9.29" height="10.33" fill="#8DCFE5"/>
<rect x="725.08" y="1031.43" width="9.29" height="10.33" fill="#DDF0F7"/>
<rect x="734.3" y="1031.43" width="9.29" height="10.33" fill="#8DCFE5"/>
<rect x="743.53" y="1031.43" width="9.29" height="10.33" fill="#DDF0F7"/>
<rect x="752.75" y="1031.43" width="18.51" height="10.33" fill="#FF0000"/>
<rect x="771.2" y="1031.43" width="9.29" height="10.33" fill="#8DCFE5"/>
<rect x="780.43" y="1031.43" width="9.29" height="10.33" fill="#FF0000"/>
<rect x="789.65" y="1031.43" width="9.29" height="10.33" fill="#8DCFE5"/>
<rect x="798.88" y="1031.43" width="9.29" height="10.33" fill="#FFE8E8"/>
<rect x="808.1" y="1031.43" width="9.29" height="10.33" fill="#FF0000"/>
<rect x="817.33" y="1031.43" width="9.29" height="10.33" fill="#4092BB"/>
<rect x="826.55" y="1031.43" width="9.29" height="10.33" fill="#B4DFED"/>
<rect x="835.78" y="1031.43" width="9.29" height="10.33" fill="#FF0000"/>
<rect x="845" y="1031.43" width="9.29" height="10.33" fill="#FF8888"/>
<rect x="854.23" y="1031.43" width="9.29" height="10.33" fill="#FF0000"/>
<rect x="725.08" y="1041.7" width="9.29" height="10.33" fill="#DDF0F7"/>
<rect x="734.3" y="1041.7" width="9.29" height="10.33" fill="#8DCFE5"/>
<rect x="743.53" y="1041.7" width="27.73" height="10.33" fill="#FF0000"/>
<rect x="771.2" y="1041.7" width="9.29" height="10.33" fill="#66B5D4"/>
<rect x="780.43" y="1041.7" width="9.29" height="10.33" fill="#FF0000"/>
<rect x="789.65" y="1041.7" width="9.29" height="10.33" fill="#66B5D4"/>
<rect x="798.88" y="1041.7" width="9.29" height="10.33" fill="#FFE8E8"/>
<rect x="808.1" y="1041.7" width="9.29" height="10.33" fill="#FF0000"/>
<rect x="817.33" y="1041.7" width="18.51" height="10.33" fill="#8DCFE5"/>
<rect x="835.78" y="1041.7" width="9.29" height="10.33" fill="#FF0000"/>
<rect x="845" y="1041.7" width="9.29" height="10.33" fill="#FFC4C4"/>
<rect x="854.23" y="1041.7" width="9.29" height="10.33" fill="#FF0000"/>
<rect x="725.08" y="1051.97" width="9.29" height="10.33" fill="#DDF0F7"/>
<rect x="734.3" y="1051.97" width="9.29" height="10.33" fill="#FF8888"/>
<rect x="743.53" y="1051.97" width="9.29" height="10.33" fill="#FFC4C4"/>
<rect x="752.75" y="1051.97" width="18.51" height="10.33" fill="#FF0000"/>
<rect x="771.2" y="1051.97" width="9.29" height="10.33" fill="#66B5D4"/>
<rect x="780.43" y="1051.97" width="9.29" height="10.33" fill="#FF0000"/>
<rect x="789.65" y="1051.97" width="9.29" height="10.33" fill="#B4DFED"/>
<rect x="798.88" y="1051.97" width="9.29" height="10.33" fill="#FFC4C4"/>
<rect x="808.1" y="1051.97" width="9.29" height="10.33" fill="#FF0000"/>
<rect x="817.33" y="1051.97" width="9.29" height="10.33" fill="#FF4040"/>
<rect x="826.55" y="1051.97" width="9.29" height="10.33" fill="#DDF0F7"/>
<rect x="835.78" y="1051.97" width="9.29" height="10.33" fill="#FF0000"/>
<rect x="845" y="1051.97" width="9.29" height="10.33" fill="#DDF0F7"/>
<rect x="854.23" y="1051.97" width="9.29" height="10.33" fill="#FF0000"/>
<rect x="725.08" y="1062.24" width="9.29" height="10.33" fill="#B4DFED"/>
<rect x="734.3" y="1062.24" width="9.29" height="10.33" fill="#66B5D4"/>
<rect x="743.53" y="1062.24" width="9.29" height="10.33" fill="#FFFFFF"/>
<rect x="752.75" y="1062.24" width="18.51" height="10.33" fill="#FF0000"/>
<rect x="771.2" y="1062.24" width="9.29" height="10.33" fill="#FF8888"/>
<rect x="780.43" y="1062.24" width="9.29" height="10.33" fill="#FF0000"/>
<rect x="789.65" y="1062.24" width="18.51" height="10.33" fill="#FFFFFF"/>
<rect x="808.1" y="1062.24" width="9.29" height="10.33" fill="#FF0000"/>
<rect x="817.33" y="1062.24" width="9.29" height="10.33" fill="#4092BB"/>
<rect x="826.55" y="1062.24" width="9.29" height="10.33" fill="#66B5D4"/>
<rect x="835.78" y="1062.24" width="27.73" height="10.33" fill="#FF0000"/>
<rect x="725.08" y="1072.51" width="9.29" height="10.33" fill="#FFE8E8"/>
<rect x="734.3" y="1072.51" width="9.29" height="10.33" fill="#8DCFE5"/>
<rect x="743.53" y="1072.51" width="9.29" height="10.33" fill="#FF0000"/>
<rect x="752.75" y="1072.51" width="18.51" height="10.33" fill="#66B5D4"/>
<rect x="771.2" y="1072.51" width="9.29" height="10.33" fill="#FF0000"/>
<rect x="780.43" y="1072.51" width="9.29" height="10.33" fill="#66B5D4"/>
<rect x="789.65" y="1072.51" width="9.29" height="10.33" fill="#DDF0F7"/>
<rect x="798.88" y="1072.51" width="9.29" height="10.33" fill="#B4DFED"/>
<rect x="808.1" y="1072.51" width="9.29" height="10.33" fill="#66B5D4"/>
<rect x="817.33" y="1072.51" width="9.29" height="10.33" fill="#8DCFE5"/>
<rect x="826.55" y="1072.51" width="9.29" height="10.33" fill="#FF8888"/>
<rect x="835.78" y="1072.51" width="9.29" height="10.33" fill="#66B5D4"/>
<rect x="845" y="1072.51" width="9.29" height="10.33" fill="#FFFFFF"/>
<rect x="854.23" y="1072.51" width="9.29" height="10.33" fill="#66B5D4"/>
<rect x="725.08" y="1082.78" width="18.51" height="10.33" fill="#B4DFED"/>
<rect x="743.53" y="1082.78" width="9.29" height="10.33" fill="#66B5D4"/>
<rect x="752.75" y="1082.78" width="18.51" height="10.33" fill="#FF0000"/>
<rect x="771.2" y="1082.78" width="9.29" height="10.33" fill="#8DCFE5"/>
<rect x="780.43" y="1082.78" width="9.29" height="10.33" fill="#FF0000"/>
<rect x="789.65" y="1082.78" width="9.29" height="10.33" fill="#8DCFE5"/>
<rect x="798.88" y="1082.78" width="9.29" height="10.33" fill="#B4DFED"/>
<rect x="808.1" y="1082.78" width="9.29" height="10.33" fill="#FF0000"/>
<rect x="817.33" y="1082.78" width="9.29" height="10.33" fill="#8DCFE5"/>
<rect x="826.55" y="1082.78" width="9.29" height="10.33" fill="#DDF0F7"/>
<rect x="835.78" y="1082.78" width="9.29" height="10.33" fill="#FF0000"/>
<rect x="845" y="1082.78" width="9.29" height="10.33" fill="#FF4040"/>
<rect x="854.23" y="1082.78" width="9.29" height="10.33" fill="#FF0000"/>
<rect x="725.08" y="1093.05" width="18.51" height="10.33" fill="#8DCFE5"/>
<rect x="743.53" y="1093.05" width="9.29" height="10.33" fill="#B4DFED"/>
<rect x="752.75" y="1093.05" width="18.51" height="10.33" fill="#FF0000"/>
<rect x="771.2" y="1093.05" width="9.29" height="10.33" fill="#8DCFE5"/>
<rect x="780.43" y="1093.05" width="9.29" height="10.33" fill="#FF0000"/>
<rect x="789.65" y="1093.05" width="9.29" height="10.33" fill="#DDF0F7"/>
<rect x="798.88" y="1093.05" width="9.29" height="10.33" fill="#B4DFED"/>
<rect x="808.1" y="1093.05" width="9.29" height="10.33" fill="#FF0000"/>
<rect x="817.33" y="1093.05" width="18.51" height="10.33" fill="#8DCFE5"/>
<rect x="835.78" y="1093.05" width="9.29" height="10.33" fill="#FF0000"/>
<rect x="845" y="1093.05" width="9.29" height="10.33" fill="#FF4040"/>
<rect x="854.23" y="1093.05" width="9.29" height="10.33" fill="#FF0000"/>
<rect x="725.08" y="1103.32" width="9.29" height="10.33" fill="#8DCFE5"/>
<rect x="734.3" y="1103.32" width="9.29" height="10.33" fill="#66B5D4"/>
<rect x="743.53" y="1103.32" width="9.29" height="10.33" fill="#8DCFE5"/>
<rect x="752.75" y="1103.32" width="9.29" height="10.33" fill="#4092BB"/>
<rect x="761.98" y="1103.32" width="9.29" height="10.33" fill="#66B5D4"/>
<rect x="771.2" y="1103.32" width="9.29" height="10.33" fill="#FF0000"/>
<rect x="780.43" y="1103.32" width="9.29" height="10.33" fill="#8DCFE5"/>
<rect x="789.65" y="1103.32" width="9.29" height="10.33" fill="#FF0000"/>
<rect x="798.88" y="1103.32" width="9.29" height="10.33" fill="#B4DFED"/>
<rect x="808.1" y="1103.32" width="9.29" height="10.33" fill="#4092BB"/>
<rect x="817.33" y="1103.32" width="9.29" height="10.33" fill="#FFE8E8"/>
<rect x="826.55" y="1103.32" width="9.29" height="10.33" fill="#8DCFE5"/>
<rect x="835.78" y="1103.32" width="9.29" height="10.33" fill="#66B5D4"/>
<rect x="845" y="1103.32" width="9.29" height="10.33" fill="#FF8888"/>
<rect x="854.23" y="1103.32" width="9.29" height="10.33" fill="#B4DFED"/>
<rect x="725.08" y="1113.59" width="18.51" height="10.33" fill="#8DCFE5"/>
<rect x="743.53" y="1113.59" width="9.29" height="10.33" fill="#66B5D4"/>
<rect x="752.75" y="1113.59" width="9.29" height="10.33" fill="#FF0000"/>
<rect x="761.98" y="1113.59" width="9.29" height="10.33" fill="#FF4040"/>
<rect x="771.2" y="1113.59" width="9.29" height="10.33" fill="#DDF0F7"/>
<rect x="780.43" y="1113.59" width="18.51" height="10.33" fill="#FF0000"/>
<rect x="798.88" y="1113.59" width="9.29" height="10.33" fill="#8DCFE5"/>
<rect x="808.1" y="1113.59" width="9.29" height="10.33" fill="#FF0000"/>
<rect x="817.33" y="1113.59" width="9.29" height="10.33" fill="#B4DFED"/>
<rect x="826.55" y="1113.59" width="9.29" height="10.33" fill="#FF8888"/>
<rect x="835.78" y="1113.59" width="9.29" height="10.33" fill="#FF0000"/>
<rect x="845" y="1113.59" width="9.29" height="10.33" fill="#FF8888"/>
<rect x="854.23" y="1113.59" width="9.29" height="10.33" fill="#FF0000"/>
<rect x="725.08" y="1123.86" width="9.29" height="10.33" fill="#FFC4C4"/>
<rect x="734.3" y="1123.86" width="9.29" height="10.33" fill="#8DCFE5"/>
<rect x="743.53" y="1123.86" width="9.29" height="10.33" fill="#FFC4C4"/>
<rect x="752.75" y="1123.86" width="18.51" height="10.33" fill="#FF0000"/>
<rect x="771.2" y="1123.86" width="9.29" height="10.33" fill="#8DCFE5"/>
<rect x="780.43" y="1123.86" width="9.29" height="10.33" fill="#FF0000"/>
<rect x="789.65" y="1123.86" width="9.29" height="10.33" fill="#8DCFE5"/>
<rect x="798.88" y="1123.86" width="9.29" height="10.33" fill="#FF8888"/>
<rect x="808.1" y="1123.86" width="9.29" height="10.33" fill="#FF0000"/>
<rect x="817.33" y="1123.86" width="18.51" height="10.33" fill="#8DCFE5"/>
<rect x="835.78" y="1123.86" width="9.29" height="10.33" fill="#FF0000"/>
<rect x="845" y="1123.86" width="9.29" height="10.33" fill="#FFC4C4"/>
<rect x="854.23" y="1123.86" width="9.29" height="10.33" fill="#FF0000"/>
<rect x="725.08" y="1134.13" width="9.29" height="10.33" fill="#B4DFED"/>
<rect x="734.3" y="1134.13" width="9.29" height="10.33" fill="#8DCFE5"/>
<rect x="743.53" y="1134.13" width="9.29" height="10.33" fill="#FFC4C4"/>
<rect x="752.75" y="1134.13" width="18.51" height="10.33" fill="#FF0000"/>
<rect x="771.2" y="1134.13" width="9.29" height="10.33" fill="#8DCFE5"/>
<rect x="780.43" y="1134.13" width="9.29" height="10.33" fill="#FF0000"/>
<rect x="789.65" y="1134.13" width="9.29" height="10.33" fill="#B4DFED"/>
<rect x="798.88" y="1134.13" width="9.29" height="10.33" fill="#FFE8E8"/>
<rect x="808.1" y="1134.13" width="9.29" height="10.33" fill="#FF0000"/>
<rect x="817.33" y="1134.13" width="9.29" height="10.33" fill="#66B5D4"/>
<rect x="826.55" y="1134.13" width="9.29" height="10.33" fill="#8DCFE5"/>
<rect x="835.78" y="1134.13" width="9.29" height="10.33" fill="#FF0000"/>
<rect x="845" y="1134.13" width="9.29" height="10.33" fill="#FF8888"/>
<rect x="854.23" y="1134.13" width="9.29" height="10.33" fill="#FF0000"/>
<rect x="725.08" y="1144.4" width="27.73" height="10.33" fill="#B4DFED"/>
<rect x="752.75" y="1144.4" width="18.51" height="10.33" fill="#FF0000"/>
<rect x="771.2" y="1144.4" width="9.29" height="10.33" fill="#8DCFE5"/>
<rect x="780.43" y="1144.4" width="9.29" height="10.33" fill="#FF0000"/>
<rect x="789.65" y="1144.4" width="9.29" height="10.33" fill="#DDF0F7"/>
<rect x="798.88" y="1144.4" width="9.29" height="10.33" fill="#FFE8E8"/>
<rect x="808.1" y="1144.4" width="9.29" height="10.33" fill="#FF0000"/>
<rect x="817.33" y="1144.4" width="18.51" height="10.33" fill="#8DCFE5"/>
<rect x="835.78" y="1144.4" width="9.29" height="10.33" fill="#FF0000"/>
<rect x="845" y="1144.4" width="9.29" height="10.33" fill="#FF8888"/>
<rect x="854.23" y="1144.4" width="9.29" height="10.33" fill="#FF0000"/>
<rect x="725.08" y="1154.67" width="9.29" height="10.33" fill="#FFFFFF"/>
<rect x="734.3" y="1154.67" width="9.29" height="10.33" fill="#DDF0F7"/>
<rect x="743.53" y="1154.67" width="9.29" height="10.33" fill="#66B5D4"/>
<rect x="752.75" y="1154.67" width="9.29" height="10.33" fill="#8DCFE5"/>
<rect x="761.98" y="1154.67" width="9.29" height="10.33" fill="#4092BB"/>
<rect x="771.2" y="1154.67" width="9.29" height="10.33" fill="#FF0000"/>
<rect x="780.43" y="1154.67" width="9.29" height="10.33" fill="#4092BB"/>
<rect x="789.65" y="1154.67" width="18.51" height="10.33" fill="#FFE8E8"/>
<rect x="808.1" y="1154.67" width="9.29" height="10.33" fill="#8DCFE5"/>
<rect x="817.33" y="1154.67" width="9.29" height="10.33" fill="#FF0000"/>
<rect x="826.55" y="1154.67" width="9.29" height="10.33" fill="#FFE8E8"/>
<rect x="835.78" y="1154.67" width="9.29" height="10.33" fill="#4092BB"/>
<rect x="845" y="1154.67" width="9.29" height="10.33" fill="#FF8888"/>
<rect x="854.23" y="1154.67" width="9.29" height="10.33" fill="#4092BB"/>
<text x="866.6" y="999.18" font-size="10.25" transform="rotate(0.03 866.6 999.18)">ko02060| Phosphotransferase system (PTS)</text>
<text x="866.6" y="1009.45" font-size="10.25" transform="rotate(0.03 866.6 1009.45)">ko03050| Proteasome</text>
<text x="866.6" y="1019.72" font-size="10.25" transform="rotate(0.03 866.6 1019.72)">ko00500| Starch and sucrose metabolism</text>
<text x="866.6" y="1029.99" font-size="10.25" transform="rotate(0.03 866.6 1029.99)">ko00562| Inositol phosphate metabolism</text>
<text x="866.6" y="1040.26" font-size="10.25" transform="rotate(0.03 866.6 1040.26)">ko00040| Pentose and glucuronate interconversions</text>
<text x="866.6" y="1050.53" font-size="10.25" transform="rotate(0.03 866.6 1050.53)">ko00531| Glycosaminoglycan degradation</text>
<text x="866.6" y="1060.81" font-size="10.25" transform="rotate(0.03 866.6 1060.81)">ko00860| Porphyrin and chlorophyll metabolism</text>
<text x="866.6" y="1071.08" font-size="10.25" transform="rotate(0.03 866.6 1071.08)">ko00020| Citrate cycle (TCA cycle)</text>
<text x="866.6" y="1081.35" font-size="10.25" transform="rotate(0.03 866.6 1081.35)">ko00053| Ascorbate and aldarate metabolism</text>
<text x="866.6" y="1091.62" font-size="10.25" transform="rotate(0.03 866.6 1091.62)">ko00520| Amino sugar and nucleotide sugar metabolism</text>
<text x="866.6" y="1101.88" font-size="10.25" transform="rotate(0.03 866.6 1101.88)">ko00511| Other glycan degradation</text>
<text x="866.6" y="1112.15" font-size="10.25" transform="rotate(0.03 866.6 1112.15)">ko00510| N−Glycan biosynthesis</text>
<text x="866.6" y="1122.42" font-size="10.25" transform="rotate(0.03 866.6 1122.42)">ko00340| Histidine metabolism</text>
<text x="866.6" y="1132.69" font-size="10.25" transform="rotate(0.03 866.6 1132.69)">ko00311| Penicillin and cephalosporin biosynthesis</text>
<text x="866.6" y="1142.96" font-size="10.25" transform="rotate(0.03 866.6 1142.96)">ko00030| Pentose phosphate pathway</text>
<text x="866.6" y="1153.23" font-size="10.25" transform="rotate(0.03 866.6 1153.23)">ko00051| Fructose and mannose metabolism</text>
<text x="866.6" y="1163.5" font-size="10.25" transform="rotate(0.03 866.6 1163.5)">ko04146| Peroxisome</text>
<rect x="321.2" y="1168.94" width="9.4" height="10.33" fill="#6490E8"/>
<rect x="321.2" y="1179.21" width="9.4" height="10.33" fill="#6490E8"/>
<rect x="321.2" y="1189.48" width="9.4" height="10.33" fill="#6490E8"/>
<rect x="321.2" y="1199.75" width="9.4" height="10.33" fill="#6490E8"/>
<rect x="321.2" y="1210.02" width="9.4" height="10.33" fill="#6490E8"/>
<rect x="321.2" y="1220.29" width="9.4" height="10.33" fill="#9AF4FA"/>
<rect x="334.1" y="1168.94" width="9.29" height="10.33" fill="#FF0000"/>
<rect x="343.33" y="1168.94" width="9.29" height="10.33" fill="#FFC4C4"/>
<rect x="352.55" y="1168.94" width="9.29" height="10.33" fill="#FF4040"/>
<rect x="361.78" y="1168.94" width="9.29" height="10.33" fill="#8DCFE5"/>
<rect x="371" y="1168.94" width="9.29" height="10.33" fill="#66B5D4"/>
<rect x="380.23" y="1168.94" width="9.29" height="10.33" fill="#FF0000"/>
<rect x="389.45" y="1168.94" width="9.29" height="10.33" fill="#B4DFED"/>
<rect x="398.68" y="1168.94" width="18.51" height="10.33" fill="#FF0000"/>
<rect x="417.12" y="1168.94" width="9.29" height="10.33" fill="#66B5D4"/>
<rect x="426.35" y="1168.94" width="18.51" height="10.33" fill="#FF0000"/>
<rect x="444.8" y="1168.94" width="9.29" height="10.33" fill="#66B5D4"/>
<rect x="334.1" y="1179.21" width="9.29" height="10.33" fill="#FF0000"/>
<rect x="343.33" y="1179.21" width="9.29" height="10.33" fill="#B4DFED"/>
<rect x="352.55" y="1179.21" width="9.29" height="10.33" fill="#FF8888"/>
<rect x="361.78" y="1179.21" width="9.29" height="10.33" fill="#8DCFE5"/>
<rect x="371" y="1179.21" width="9.29" height="10.33" fill="#66B5D4"/>
<rect x="380.23" y="1179.21" width="9.29" height="10.33" fill="#FF0000"/>
<rect x="389.45" y="1179.21" width="9.29" height="10.33" fill="#B4DFED"/>
<rect x="398.68" y="1179.21" width="18.51" height="10.33" fill="#FF0000"/>
<rect x="417.12" y="1179.21" width="9.29" height="10.33" fill="#8DCFE5"/>
<rect x="426.35" y="1179.21" width="18.51" height="10.33" fill="#FF0000"/>
<rect x="444.8" y="1179.21" width="9.29" height="10.33" fill="#FF8888"/>
<rect x="334.1" y="1189.48" width="18.51" height="10.33" fill="#FF0000"/>
<rect x="352.55" y="1189.48" width="9.29" height="10.33" fill="#FFC4C4"/>
<rect x="361.78" y="1189.48" width="9.29" height="10.33" fill="#DDF0F7"/>
<rect x="371" y="1189.48" width="9.29" height="10.33" fill="#B4DFED"/>
<rect x="380.23" y="1189.48" width="9.29" height="10.33" fill="#FF4040"/>
<rect x="389.45" y="1189.48" width="9.29" height="10.33" fill="#FF8888"/>
<rect x="398.68" y="1189.48" width="9.29" height="10.33" fill="#FF0000"/>
<rect x="407.9" y="1189.48" width="9.29" height="10.33" fill="#4092BB"/>
<rect x="417.12" y="1189.48" width="9.29" height="10.33" fill="#DDF0F7"/>
<rect x="426.35" y="1189.48" width="18.51" height="10.33" fill="#FF0000"/>
<rect x="444.8" y="1189.48" width="9.29" height="10.33" fill="#66B5D4"/>
<rect x="334.1" y="1199.75" width="9.29" height="10.33" fill="#B4DFED"/>
<rect x="343.33" y="1199.75" width="9.29" height="10.33" fill="#FF0000"/>
<rect x="352.55" y="1199.75" width="9.29" height="10.33" fill="#FFC4C4"/>
<rect x="361.78" y="1199.75" width="9.29" height="10.33" fill="#B4DFED"/>
<rect x="371" y="1199.75" width="9.29" height="10.33" fill="#8DCFE5"/>
<rect x="380.23" y="1199.75" width="18.51" height="10.33" fill="#DDF0F7"/>
<rect x="398.68" y="1199.75" width="9.29" height="10.33" fill="#FF4040"/>
<rect x="407.9" y="1199.75" width="9.29" height="10.33" fill="#B4DFED"/>
<rect x="417.12" y="1199.75" width="9.29" height="10.33" fill="#8DCFE5"/>
<rect x="426.35" y="1199.75" width="9.29" height="10.33" fill="#FFC4C4"/>
<rect x="435.58" y="1199.75" width="9.29" height="10.33" fill="#FFFFFF"/>
<rect x="444.8" y="1199.75" width="9.29" height="10.33" fill="#B4DFED"/>
<rect x="334.1" y="1210.02" width="9.29" height="10.33" fill="#FF0000"/>
<rect x="343.33" y="1210.02" width="9.29" height="10.33" fill="#FFE8E8"/>
<rect x="352.55" y="1210.02" width="9.29" height="10.33" fill="#FFC4C4"/>
<rect x="361.78" y="1210.02" width="9.29" height="10.33" fill="#8DCFE5"/>
<rect x="371" y="1210.02" width="9.29" height="10.33" fill="#66B5D4"/>
<rect x="380.23" y="1210.02" width="9.29" height="10.33" fill="#FF0000"/>
<rect x="389.45" y="1210.02" width="9.29" height="10.33" fill="#B4DFED"/>
<rect x="398.68" y="1210.02" width="18.51" height="10.33" fill="#FF0000"/>
<rect x="417.12" y="1210.02" width="9.29" height="10.33" fill="#8DCFE5"/>
<rect x="426.35" y="1210.02" width="18.51" height="10.33" fill="#FF0000"/>
<rect x="444.8" y="1210.02" width="9.29" height="10.33" fill="#FF8888"/>
<rect x="334.1" y="1220.29" width="9.29" height="10.33" fill="#FF0000"/>
<rect x="343.33" y="1220.29" width="9.29" height="10.33" fill="#B4DFED"/>
<rect x="352.55" y="1220.29" width="9.29" height="10.33" fill="#FF0000"/>
<rect x="361.78" y="1220.29" width="9.29" height="10.33" fill="#B4DFED"/>
<rect x="371" y="1220.29" width="9.29" height="10.33" fill="#8DCFE5"/>
<rect x="380.23" y="1220.29" width="9.29" height="10.33" fill="#FF8888"/>
<rect x="389.45" y="1220.29" width="9.29" height="10.33" fill="#B4DFED"/>
<rect x="398.68" y="1220.29" width="9.29" height="10.33" fill="#C40000"/>
<rect x="407.9" y="1220.29" width="9.29" height="10.33" fill="#FF4040"/>
<rect x="417.12" y="1220.29" width="9.29" height="10.33" fill="#8DCFE5"/>
<rect x="426.35" y="1220.29" width="18.51" height="10.33" fill="#FF0000"/>
<rect x="444.8" y="1220.29" width="9.29" height="10.33" fill="#B4DFED"/>
<rect x="458.28" y="1168.94" width="9.29" height="10.33" fill="#FF0000"/>
<rect x="467.5" y="1168.94" width="9.29" height="10.33" fill="#66B5D4"/>
<rect x="476.73" y="1168.94" width="9.29" height="10.33" fill="#FFC4C4"/>
<rect x="485.95" y="1168.94" width="27.73" height="10.33" fill="#66B5D4"/>
<rect x="513.62" y="1168.94" width="9.29" height="10.33" fill="#FF4040"/>
<rect x="522.85" y="1168.94" width="9.29" height="10.33" fill="#B4DFED"/>
<rect x="532.08" y="1168.94" width="46.19" height="10.33" fill="#66B5D4"/>
<rect x="458.28" y="1179.21" width="9.29" height="10.33" fill="#FF0000"/>
<rect x="467.5" y="1179.21" width="9.29" height="10.33" fill="#66B5D4"/>
<rect x="476.73" y="1179.21" width="9.29" height="10.33" fill="#8DCFE5"/>
<rect x="485.95" y="1179.21" width="27.73" height="10.33" fill="#66B5D4"/>
<rect x="513.62" y="1179.21" width="9.29" height="10.33" fill="#FF4040"/>
<rect x="522.85" y="1179.21" width="9.29" height="10.33" fill="#FF8888"/>
<rect x="532.08" y="1179.21" width="27.73" height="10.33" fill="#66B5D4"/>
<rect x="559.75" y="1179.21" width="9.29" height="10.33" fill="#8DCFE5"/>
<rect x="568.98" y="1179.21" width="9.29" height="10.33" fill="#FF0000"/>
<rect x="458.28" y="1189.48" width="9.29" height="10.33" fill="#FF0000"/>
<rect x="467.5" y="1189.48" width="27.73" height="10.33" fill="#8DCFE5"/>
<rect x="495.18" y="1189.48" width="9.29" height="10.33" fill="#4092BB"/>
<rect x="504.4" y="1189.48" width="9.29" height="10.33" fill="#66B5D4"/>
<rect x="513.62" y="1189.48" width="9.29" height="10.33" fill="#FF8888"/>
<rect x="522.85" y="1189.48" width="9.29" height="10.33" fill="#FF4040"/>
<rect x="532.08" y="1189.48" width="9.29" height="10.33" fill="#DDF0F7"/>
<rect x="541.3" y="1189.48" width="27.73" height="10.33" fill="#8DCFE5"/>
<rect x="568.98" y="1189.48" width="9.29" height="10.33" fill="#4092BB"/>
<rect x="458.28" y="1199.75" width="9.29" height="10.33" fill="#B4DFED"/>
<rect x="467.5" y="1199.75" width="9.29" height="10.33" fill="#8DCFE5"/>
<rect x="476.73" y="1199.75" width="9.29" height="10.33" fill="#DDF0F7"/>
<rect x="485.95" y="1199.75" width="27.73" height="10.33" fill="#8DCFE5"/>
<rect x="513.62" y="1199.75" width="9.29" height="10.33" fill="#B4DFED"/>
<rect x="522.85" y="1199.75" width="9.29" height="10.33" fill="#FF0000"/>
<rect x="532.08" y="1199.75" width="18.51" height="10.33" fill="#8DCFE5"/>
<rect x="550.53" y="1199.75" width="9.29" height="10.33" fill="#DDF0F7"/>
<rect x="559.75" y="1199.75" width="9.29" height="10.33" fill="#8DCFE5"/>
<rect x="568.98" y="1199.75" width="9.29" height="10.33" fill="#B4DFED"/>
<rect x="458.28" y="1210.02" width="9.29" height="10.33" fill="#FF0000"/>
<rect x="467.5" y="1210.02" width="46.19" height="10.33" fill="#66B5D4"/>
<rect x="513.62" y="1210.02" width="9.29" height="10.33" fill="#FF4040"/>
<rect x="522.85" y="1210.02" width="9.29" height="10.33" fill="#FF8888"/>
<rect x="532.08" y="1210.02" width="27.73" height="10.33" fill="#66B5D4"/>
<rect x="559.75" y="1210.02" width="9.29" height="10.33" fill="#8DCFE5"/>
<rect x="568.98" y="1210.02" width="9.29" height="10.33" fill="#FF0000"/>
<rect x="458.28" y="1220.29" width="9.29" height="10.33" fill="#FF4040"/>
<rect x="467.5" y="1220.29" width="9.29" height="10.33" fill="#8DCFE5"/>
<rect x="476.73" y="1220.29" width="9.29" height="10.33" fill="#B4DFED"/>
<rect x="485.95" y="1220.29" width="27.73" height="10.33" fill="#8DCFE5"/>
<rect x="513.62" y="1220.29" width="9.29" height="10.33" fill="#FFC4C4"/>
<rect x="522.85" y="1220.29" width="9.29" height="10.33" fill="#FFE8E8"/>
<rect x="532.08" y="1220.29" width="18.51" height="10.33" fill="#8DCFE5"/>
<rect x="550.53" y="1220.29" width="9.29" height="10.33" fill="#B4DFED"/>
<rect x="559.75" y="1220.29" width="18.51" height="10.33" fill="#8DCFE5"/>
<rect x="582.45" y="1168.94" width="9.29" height="10.33" fill="#FF8888"/>
<rect x="591.68" y="1168.94" width="9.29" height="10.33" fill="#FFE8E8"/>
<rect x="600.9" y="1168.94" width="9.29" height="10.33" fill="#FFC4C4"/>
<rect x="610.12" y="1168.94" width="9.29" height="10.33" fill="#66B5D4"/>
<rect x="619.35" y="1168.94" width="9.29" height="10.33" fill="#8DCFE5"/>
<rect x="628.58" y="1168.94" width="18.51" height="10.33" fill="#FF0000"/>
<rect x="647.03" y="1168.94" width="9.29" height="10.33" fill="#FF8888"/>
<rect x="656.25" y="1168.94" width="9.29" height="10.33" fill="#DDF0F7"/>
<rect x="665.48" y="1168.94" width="9.29" height="10.33" fill="#66B5D4"/>
<rect x="674.7" y="1168.94" width="9.29" height="10.33" fill="#FF8888"/>
<rect x="683.93" y="1168.94" width="18.51" height="10.33" fill="#FF0000"/>
<rect x="702.38" y="1168.94" width="9.29" height="10.33" fill="#8DCFE5"/>
<rect x="711.6" y="1168.94" width="9.29" height="10.33" fill="#FF8888"/>
<rect x="582.45" y="1179.21" width="9.29" height="10.33" fill="#FFE8E8"/>
<rect x="591.68" y="1179.21" width="9.29" height="10.33" fill="#8DCFE5"/>
<rect x="600.9" y="1179.21" width="9.29" height="10.33" fill="#B4DFED"/>
<rect x="610.12" y="1179.21" width="18.51" height="10.33" fill="#8DCFE5"/>
<rect x="628.58" y="1179.21" width="9.29" height="10.33" fill="#FF0000"/>
<rect x="637.8" y="1179.21" width="9.29" height="10.33" fill="#8DCFE5"/>
<rect x="647.03" y="1179.21" width="9.29" height="10.33" fill="#FFC4C4"/>
<rect x="656.25" y="1179.21" width="18.51" height="10.33" fill="#66B5D4"/>
<rect x="674.7" y="1179.21" width="9.29" height="10.33" fill="#FFC4C4"/>
<rect x="683.93" y="1179.21" width="18.51" height="10.33" fill="#FF0000"/>
<rect x="702.38" y="1179.21" width="9.29" height="10.33" fill="#8DCFE5"/>
<rect x="711.6" y="1179.21" width="9.29" height="10.33" fill="#FF4040"/>
<rect x="582.45" y="1189.48" width="18.51" height="10.33" fill="#FF0000"/>
<rect x="600.9" y="1189.48" width="9.29" height="10.33" fill="#B4DFED"/>
<rect x="610.12" y="1189.48" width="9.29" height="10.33" fill="#DDF0F7"/>
<rect x="619.35" y="1189.48" width="9.29" height="10.33" fill="#FFE8E8"/>
<rect x="628.58" y="1189.48" width="9.29" height="10.33" fill="#FF0000"/>
<rect x="637.8" y="1189.48" width="9.29" height="10.33" fill="#8DCFE5"/>
<rect x="647.03" y="1189.48" width="9.29" height="10.33" fill="#FFC4C4"/>
<rect x="656.25" y="1189.48" width="9.29" height="10.33" fill="#FF0000"/>
<rect x="665.48" y="1189.48" width="9.29" height="10.33" fill="#8DCFE5"/>
<rect x="674.7" y="1189.48" width="9.29" height="10.33" fill="#FF4040"/>
<rect x="683.93" y="1189.48" width="18.51" height="10.33" fill="#FF0000"/>
<rect x="702.38" y="1189.48" width="9.29" height="10.33" fill="#8DCFE5"/>
<rect x="711.6" y="1189.48" width="9.29" height="10.33" fill="#FF4040"/>
<rect x="582.45" y="1199.75" width="18.51" height="10.33" fill="#FF0000"/>
<rect x="600.9" y="1199.75" width="9.29" height="10.33" fill="#DDF0F7"/>
<rect x="610.12" y="1199.75" width="9.29" height="10.33" fill="#FFC4C4"/>
<rect x="619.35" y="1199.75" width="18.51" height="10.33" fill="#DDF0F7"/>
<rect x="637.8" y="1199.75" width="9.29" height="10.33" fill="#B4DFED"/>
<rect x="647.03" y="1199.75" width="9.29" height="10.33" fill="#FFC4C4"/>
<rect x="656.25" y="1199.75" width="9.29" height="10.33" fill="#C40000"/>
<rect x="665.48" y="1199.75" width="9.29" height="10.33" fill="#66B5D4"/>
<rect x="674.7" y="1199.75" width="9.29" height="10.33" fill="#FFFFFF"/>
<rect x="683.93" y="1199.75" width="9.29" height="10.33" fill="#FF0000"/>
<rect x="693.15" y="1199.75" width="9.29" height="10.33" fill="#DDF0F7"/>
<rect x="702.38" y="1199.75" width="9.29" height="10.33" fill="#8DCFE5"/>
<rect x="711.6" y="1199.75" width="9.29" height="10.33" fill="#FFE8E8"/>
<rect x="582.45" y="1210.02" width="9.29" height="10.33" fill="#FF8888"/>
<rect x="591.68" y="1210.02" width="9.29" height="10.33" fill="#FFC4C4"/>
<rect x="600.9" y="1210.02" width="18.51" height="10.33" fill="#B4DFED"/>
<rect x="619.35" y="1210.02" width="9.29" height="10.33" fill="#8DCFE5"/>
<rect x="628.58" y="1210.02" width="9.29" height="10.33" fill="#FF0000"/>
<rect x="637.8" y="1210.02" width="9.29" height="10.33" fill="#8DCFE5"/>
<rect x="647.03" y="1210.02" width="9.29" height="10.33" fill="#FF8888"/>
<rect x="656.25" y="1210.02" width="9.29" height="10.33" fill="#FF0000"/>
<rect x="665.48" y="1210.02" width="9.29" height="10.33" fill="#66B5D4"/>
<rect x="674.7" y="1210.02" width="9.29" height="10.33" fill="#FFE8E8"/>
<rect x="683.93" y="1210.02" width="18.51" height="10.33" fill="#FF0000"/>
<rect x="702.38" y="1210.02" width="9.29" height="10.33" fill="#8DCFE5"/>
<rect x="711.6" y="1210.02" width="9.29" height="10.33" fill="#FF4040"/>
<rect x="582.45" y="1220.29" width="9.29" height="10.33" fill="#DDF0F7"/>
<rect x="591.68" y="1220.29" width="9.29" height="10.33" fill="#8DCFE5"/>
<rect x="600.9" y="1220.29" width="9.29" height="10.33" fill="#FFC4C4"/>
<rect x="610.12" y="1220.29" width="18.51" height="10.33" fill="#8DCFE5"/>
<rect x="628.58" y="1220.29" width="9.29" height="10.33" fill="#FF0000"/>
<rect x="637.8" y="1220.29" width="9.29" height="10.33" fill="#8DCFE5"/>
<rect x="647.03" y="1220.29" width="9.29" height="10.33" fill="#FFE8E8"/>
<rect x="656.25" y="1220.29" width="18.51" height="10.33" fill="#8DCFE5"/>
<rect x="674.7" y="1220.29" width="9.29" height="10.33" fill="#DDF0F7"/>
<rect x="683.93" y="1220.29" width="9.29" height="10.33" fill="#8B0000"/>
<rect x="693.15" y="1220.29" width="9.29" height="10.33" fill="#FF0000"/>
<rect x="702.38" y="1220.29" width="9.29" height="10.33" fill="#B4DFED"/>
<rect x="711.6" y="1220.29" width="9.29" height="10.33" fill="#FFE8E8"/>
<rect x="725.08" y="1168.94" width="9.29" height="10.33" fill="#FF8888"/>
<rect x="734.3" y="1168.94" width="9.29" height="10.33" fill="#FFC4C4"/>
<rect x="743.53" y="1168.94" width="9.29" height="10.33" fill="#B4DFED"/>
<rect x="752.75" y="1168.94" width="18.51" height="10.33" fill="#66B5D4"/>
<rect x="771.2" y="1168.94" width="9.29" height="10.33" fill="#FFC4C4"/>
<rect x="780.43" y="1168.94" width="9.29" height="10.33" fill="#66B5D4"/>
<rect x="789.65" y="1168.94" width="9.29" height="10.33" fill="#8DCFE5"/>
<rect x="798.88" y="1168.94" width="9.29" height="10.33" fill="#FF4040"/>
<rect x="808.1" y="1168.94" width="9.29" height="10.33" fill="#66B5D4"/>
<rect x="817.33" y="1168.94" width="9.29" height="10.33" fill="#FFC4C4"/>
<rect x="826.55" y="1168.94" width="9.29" height="10.33" fill="#FF8888"/>
<rect x="835.78" y="1168.94" width="18.51" height="10.33" fill="#66B5D4"/>
<rect x="854.23" y="1168.94" width="9.29" height="10.33" fill="#8DCFE5"/>
<rect x="725.08" y="1179.21" width="9.29" height="10.33" fill="#FFC4C4"/>
<rect x="734.3" y="1179.21" width="9.29" height="10.33" fill="#B4DFED"/>
<rect x="743.53" y="1179.21" width="9.29" height="10.33" fill="#8DCFE5"/>
<rect x="752.75" y="1179.21" width="18.51" height="10.33" fill="#66B5D4"/>
<rect x="771.2" y="1179.21" width="9.29" height="10.33" fill="#FFC4C4"/>
<rect x="780.43" y="1179.21" width="9.29" height="10.33" fill="#66B5D4"/>
<rect x="789.65" y="1179.21" width="9.29" height="10.33" fill="#8DCFE5"/>
<rect x="798.88" y="1179.21" width="9.29" height="10.33" fill="#FF4040"/>
<rect x="808.1" y="1179.21" width="9.29" height="10.33" fill="#66B5D4"/>
<rect x="817.33" y="1179.21" width="9.29" height="10.33" fill="#B4DFED"/>
<rect x="826.55" y="1179.21" width="9.29" height="10.33" fill="#FF8888"/>
<rect x="835.78" y="1179.21" width="18.51" height="10.33" fill="#66B5D4"/>
<rect x="854.23" y="1179.21" width="9.29" height="10.33" fill="#8DCFE5"/>
<rect x="725.08" y="1189.48" width="18.51" height="10.33" fill="#FF0000"/>
<rect x="743.53" y="1189.48" width="9.29" height="10.33" fill="#DDF0F7"/>
<rect x="752.75" y="1189.48" width="18.51" height="10.33" fill="#8DCFE5"/>
<rect x="771.2" y="1189.48" width="9.29" height="10.33" fill="#B4DFED"/>
<rect x="780.43" y="1189.48" width="9.29" height="10.33" fill="#4092BB"/>
<rect x="789.65" y="1189.48" width="9.29" height="10.33" fill="#B4DFED"/>
<rect x="798.88" y="1189.48" width="9.29" height="10.33" fill="#FF8888"/>
<rect x="808.1" y="1189.48" width="9.29" height="10.33" fill="#4092BB"/>
<rect x="817.33" y="1189.48" width="18.51" height="10.33" fill="#FF0000"/>
<rect x="835.78" y="1189.48" width="9.29" height="10.33" fill="#8DCFE5"/>
<rect x="845" y="1189.48" width="9.29" height="10.33" fill="#4092BB"/>
<rect x="854.23" y="1189.48" width="9.29" height="10.33" fill="#8DCFE5"/>
<rect x="725.08" y="1199.75" width="18.51" height="10.33" fill="#FF0000"/>
<rect x="743.53" y="1199.75" width="9.29" height="10.33" fill="#FF8888"/>
<rect x="752.75" y="1199.75" width="27.73" height="10.33" fill="#8DCFE5"/>
<rect x="780.43" y="1199.75" width="9.29" height="10.33" fill="#66B5D4"/>
<rect x="789.65" y="1199.75" width="9.29" height="10.33" fill="#8DCFE5"/>
<rect x="798.88" y="1199.75" width="9.29" height="10.33" fill="#FFFFFF"/>
<rect x="808.1" y="1199.75" width="9.29" height="10.33" fill="#4092BB"/>
<rect x="817.33" y="1199.75" width="18.51" height="10.33" fill="#FF0000"/>
<rect x="835.78" y="1199.75" width="27.73" height="10.33" fill="#8DCFE5"/>
<rect x="725.08" y="1210.02" width="18.51" height="10.33" fill="#FFC4C4"/>
<rect x="743.53" y="1210.02" width="9.29" height="10.33" fill="#8DCFE5"/>
<rect x="752.75" y="1210.02" width="18.51" height="10.33" fill="#66B5D4"/>
<rect x="771.2" y="1210.02" width="9.29" height="10.33" fill="#FFE8E8"/>
<rect x="780.43" y="1210.02" width="9.29" height="10.33" fill="#66B5D4"/>
<rect x="789.65" y="1210.02" width="9.29" height="10.33" fill="#8DCFE5"/>
<rect x="798.88" y="1210.02" width="9.29" height="10.33" fill="#FF4040"/>
<rect x="808.1" y="1210.02" width="9.29" height="10.33" fill="#66B5D4"/>
<rect x="817.33" y="1210.02" width="9.29" height="10.33" fill="#B4DFED"/>
<rect x="826.55" y="1210.02" width="9.29" height="10.33" fill="#FF4040"/>
<rect x="835.78" y="1210.02" width="18.51" height="10.33" fill="#66B5D4"/>
<rect x="854.23" y="1210.02" width="9.29" height="10.33" fill="#8DCFE5"/>
<rect x="725.08" y="1220.29" width="9.29" height="10.33" fill="#DDF0F7"/>
<rect x="734.3" y="1220.29" width="18.51" height="10.33" fill="#B4DFED"/>
<rect x="752.75" y="1220.29" width="18.51" height="10.33" fill="#8DCFE5"/>
<rect x="771.2" y="1220.29" width="9.29" height="10.33" fill="#DDF0F7"/>
<rect x="780.43" y="1220.29" width="18.51" height="10.33" fill="#8DCFE5"/>
<rect x="798.88" y="1220.29" width="9.29" height="10.33" fill="#FFC4C4"/>
<rect x="808.1" y="1220.29" width="9.29" height="10.33" fill="#8DCFE5"/>
<rect x="817.33" y="1220.29" width="9.29" height="10.33" fill="#B4DFED"/>
<rect x="826.55" y="1220.29" width="9.29" height="10.33" fill="#FF0000"/>
<rect x="835.78" y="1220.29" width="27.73" height="10.33" fill="#8DCFE5"/>
<text x="866.6" y="1177.77" font-size="10.25" transform="rotate(0.03 866.6 1177.77)">ko00472| D−Arginine and D−ornithine metabolism</text>
<text x="866.6" y="1188.04" font-size="10.25" transform="rotate(0.03 866.6 1188.04)">ko00121| Secondary bile acid biosynthesis</text>
<text x="866.6" y="1198.31" font-size="10.25" transform="rotate(0.03 866.6 1198.31)">ko00310| Lysine degradation</text>
<text x="866.6" y="1208.58" font-size="10.25" transform="rotate(0.03 866.6 1208.58)">ko00362| Benzoate degradation</text>
<text x="866.6" y="1218.85" font-size="10.25" transform="rotate(0.03 866.6 1218.85)">ko00120| Primary bile acid biosynthesis</text>
<text x="866.6" y="1229.12" font-size="10.25" transform="rotate(0.03 866.6 1229.12)">ko05150| Staphylococcus aureus infection</text>
<rect x="321.2" y="1234.56" width="9.4" height="10.33" fill="#6490E8"/>
<rect x="321.2" y="1244.83" width="9.4" height="10.33" fill="#6490E8"/>
<rect x="321.2" y="1255.1" width="9.4" height="10.33" fill="#78EC66"/>
<rect x="334.1" y="1234.56" width="9.29" height="10.33" fill="#4092BB"/>
<rect x="343.33" y="1234.56" width="9.29" height="10.33" fill="#8DCFE5"/>
<rect x="352.55" y="1234.56" width="9.29" height="10.33" fill="#66B5D4"/>
<rect x="361.78" y="1234.56" width="9.29" height="10.33" fill="#FF4040"/>
<rect x="371" y="1234.56" width="9.29" height="10.33" fill="#FF0000"/>
<rect x="380.23" y="1234.56" width="9.29" height="10.33" fill="#8DCFE5"/>
<rect x="389.45" y="1234.56" width="9.29" height="10.33" fill="#FF8888"/>
<rect x="398.68" y="1234.56" width="9.29" height="10.33" fill="#4092BB"/>
<rect x="407.9" y="1234.56" width="9.29" height="10.33" fill="#8DCFE5"/>
<rect x="417.12" y="1234.56" width="9.29" height="10.33" fill="#FF0000"/>
<rect x="426.35" y="1234.56" width="9.29" height="10.33" fill="#66B5D4"/>
<rect x="435.58" y="1234.56" width="9.29" height="10.33" fill="#4092BB"/>
<rect x="444.8" y="1234.56" width="9.29" height="10.33" fill="#66B5D4"/>
<rect x="334.1" y="1244.83" width="9.29" height="10.33" fill="#66B5D4"/>
<rect x="343.33" y="1244.83" width="9.29" height="10.33" fill="#8DCFE5"/>
<rect x="352.55" y="1244.83" width="9.29" height="10.33" fill="#66B5D4"/>
<rect x="361.78" y="1244.83" width="9.29" height="10.33" fill="#FFFFFF"/>
<rect x="371" y="1244.83" width="9.29" height="10.33" fill="#FF0000"/>
<rect x="380.23" y="1244.83" width="9.29" height="10.33" fill="#8DCFE5"/>
<rect x="389.45" y="1244.83" width="9.29" height="10.33" fill="#FF4040"/>
<rect x="398.68" y="1244.83" width="9.29" height="10.33" fill="#4092BB"/>
<rect x="407.9" y="1244.83" width="9.29" height="10.33" fill="#B4DFED"/>
<rect x="417.12" y="1244.83" width="9.29" height="10.33" fill="#FF0000"/>
<rect x="426.35" y="1244.83" width="9.29" height="10.33" fill="#8DCFE5"/>
<rect x="435.58" y="1244.83" width="9.29" height="10.33" fill="#4092BB"/>
<rect x="444.8" y="1244.83" width="9.29" height="10.33" fill="#8DCFE5"/>
<rect x="334.1" y="1255.1" width="18.51" height="10.33" fill="#4092BB"/>
<rect x="352.55" y="1255.1" width="9.29" height="10.33" fill="#B4DFED"/>
<rect x="361.78" y="1255.1" width="9.29" height="10.33" fill="#FF4040"/>
<rect x="371" y="1255.1" width="9.29" height="10.33" fill="#FFE8E8"/>
<rect x="380.23" y="1255.1" width="9.29" height="10.33" fill="#8DCFE5"/>
<rect x="389.45" y="1255.1" width="9.29" height="10.33" fill="#B4DFED"/>
<rect x="398.68" y="1255.1" width="9.29" height="10.33" fill="#4092BB"/>
<rect x="407.9" y="1255.1" width="9.29" height="10.33" fill="#B4DFED"/>
<rect x="417.12" y="1255.1" width="9.29" height="10.33" fill="#FF4040"/>
<rect x="426.35" y="1255.1" width="9.29" height="10.33" fill="#8DCFE5"/>
<rect x="435.58" y="1255.1" width="9.29" height="10.33" fill="#4092BB"/>
<rect x="444.8" y="1255.1" width="9.29" height="10.33" fill="#FFFFFF"/>
<rect x="458.28" y="1234.56" width="9.29" height="10.33" fill="#DDF0F7"/>
<rect x="467.5" y="1234.56" width="9.29" height="10.33" fill="#FF0000"/>
<rect x="476.73" y="1234.56" width="9.29" height="10.33" fill="#8DCFE5"/>
<rect x="485.95" y="1234.56" width="27.73" height="10.33" fill="#FF0000"/>
<rect x="513.62" y="1234.56" width="9.29" height="10.33" fill="#FFFFFF"/>
<rect x="522.85" y="1234.56" width="9.29" height="10.33" fill="#66B5D4"/>
<rect x="532.08" y="1234.56" width="18.51" height="10.33" fill="#FF0000"/>
<rect x="550.53" y="1234.56" width="9.29" height="10.33" fill="#DDF0F7"/>
<rect x="559.75" y="1234.56" width="9.29" height="10.33" fill="#FF0000"/>
<rect x="568.98" y="1234.56" width="9.29" height="10.33" fill="#66B5D4"/>
<rect x="458.28" y="1244.83" width="9.29" height="10.33" fill="#FFE8E8"/>
<rect x="467.5" y="1244.83" width="9.29" height="10.33" fill="#FF0000"/>
<rect x="476.73" y="1244.83" width="9.29" height="10.33" fill="#8DCFE5"/>
<rect x="485.95" y="1244.83" width="18.51" height="10.33" fill="#FF0000"/>
<rect x="504.4" y="1244.83" width="9.29" height="10.33" fill="#FFFFFF"/>
<rect x="513.62" y="1244.83" width="9.29" height="10.33" fill="#FFE8E8"/>
<rect x="522.85" y="1244.83" width="9.29" height="10.33" fill="#66B5D4"/>
<rect x="532.08" y="1244.83" width="18.51" height="10.33" fill="#FF0000"/>
<rect x="550.53" y="1244.83" width="9.29" height="10.33" fill="#B4DFED"/>
<rect x="559.75" y="1244.83" width="9.29" height="10.33" fill="#FF0000"/>
<rect x="568.98" y="1244.83" width="9.29" height="10.33" fill="#8DCFE5"/>
<rect x="458.28" y="1255.1" width="9.29" height="10.33" fill="#8DCFE5"/>
<rect x="467.5" y="1255.1" width="9.29" height="10.33" fill="#FF0000"/>
<rect x="476.73" y="1255.1" width="9.29" height="10.33" fill="#DDF0F7"/>
<rect x="485.95" y="1255.1" width="27.73" height="10.33" fill="#FF0000"/>
<rect x="513.62" y="1255.1" width="9.29" height="10.33" fill="#DDF0F7"/>
<rect x="522.85" y="1255.1" width="9.29" height="10.33" fill="#66B5D4"/>
<rect x="532.08" y="1255.1" width="9.29" height="10.33" fill="#FFC4C4"/>
<rect x="541.3" y="1255.1" width="9.29" height="10.33" fill="#FF0000"/>
<rect x="550.53" y="1255.1" width="9.29" height="10.33" fill="#B4DFED"/>
<rect x="559.75" y="1255.1" width="9.29" height="10.33" fill="#FF0000"/>
<rect x="568.98" y="1255.1" width="9.29" height="10.33" fill="#DDF0F7"/>
<rect x="582.45" y="1234.56" width="9.29" height="10.33" fill="#8DCFE5"/>
<rect x="591.68" y="1234.56" width="18.51" height="10.33" fill="#66B5D4"/>
<rect x="610.12" y="1234.56" width="9.29" height="10.33" fill="#FF4040"/>
<rect x="619.35" y="1234.56" width="9.29" height="10.33" fill="#FF8888"/>
<rect x="628.58" y="1234.56" width="9.29" height="10.33" fill="#66B5D4"/>
<rect x="637.8" y="1234.56" width="9.29" height="10.33" fill="#FF4040"/>
<rect x="647.03" y="1234.56" width="9.29" height="10.33" fill="#8DCFE5"/>
<rect x="656.25" y="1234.56" width="9.29" height="10.33" fill="#4092BB"/>
<rect x="665.48" y="1234.56" width="9.29" height="10.33" fill="#FF0000"/>
<rect x="674.7" y="1234.56" width="9.29" height="10.33" fill="#FFFFFF"/>
<rect x="683.93" y="1234.56" width="9.29" height="10.33" fill="#4092BB"/>
<rect x="693.15" y="1234.56" width="9.29" height="10.33" fill="#66B5D4"/>
<rect x="702.38" y="1234.56" width="9.29" height="10.33" fill="#FF0000"/>
<rect x="711.6" y="1234.56" width="9.29" height="10.33" fill="#8DCFE5"/>
<rect x="582.45" y="1244.83" width="9.29" height="10.33" fill="#8DCFE5"/>
<rect x="591.68" y="1244.83" width="18.51" height="10.33" fill="#66B5D4"/>
<rect x="610.12" y="1244.83" width="18.51" height="10.33" fill="#FFC4C4"/>
<rect x="628.58" y="1244.83" width="9.29" height="10.33" fill="#66B5D4"/>
<rect x="637.8" y="1244.83" width="9.29" height="10.33" fill="#DDF0F7"/>
<rect x="647.03" y="1244.83" width="9.29" height="10.33" fill="#B4DFED"/>
<rect x="656.25" y="1244.83" width="9.29" height="10.33" fill="#4092BB"/>
<rect x="665.48" y="1244.83" width="9.29" height="10.33" fill="#FF0000"/>
<rect x="674.7" y="1244.83" width="9.29" height="10.33" fill="#DDF0F7"/>
<rect x="683.93" y="1244.83" width="18.51" height="10.33" fill="#66B5D4"/>
<rect x="702.38" y="1244.83" width="9.29" height="10.33" fill="#FFC4C4"/>
<rect x="711.6" y="1244.83" width="9.29" height="10.33" fill="#8DCFE5"/>
<rect x="582.45" y="1255.1" width="9.29" height="10.33" fill="#8DCFE5"/>
<rect x="591.68" y="1255.1" width="9.29" height="10.33" fill="#4092BB"/>
<rect x="600.9" y="1255.1" width="9.29" height="10.33" fill="#B4DFED"/>
<rect x="610.12" y="1255.1" width="9.29" height="10.33" fill="#FF0000"/>
<rect x="619.35" y="1255.1" width="9.29" height="10.33" fill="#FFC4C4"/>
<rect x="628.58" y="1255.1" width="9.29" height="10.33" fill="#66B5D4"/>
<rect x="637.8" y="1255.1" width="9.29" height="10.33" fill="#FFE8E8"/>
<rect x="647.03" y="1255.1" width="9.29" height="10.33" fill="#B4DFED"/>
<rect x="656.25" y="1255.1" width="9.29" height="10.33" fill="#4092BB"/>
<rect x="665.48" y="1255.1" width="9.29" height="10.33" fill="#FF0000"/>
<rect x="674.7" y="1255.1" width="9.29" height="10.33" fill="#FFE8E8"/>
<rect x="683.93" y="1255.1" width="9.29" height="10.33" fill="#4092BB"/>
<rect x="693.15" y="1255.1" width="9.29" height="10.33" fill="#66B5D4"/>
<rect x="702.38" y="1255.1" width="9.29" height="10.33" fill="#FF0000"/>
<rect x="711.6" y="1255.1" width="9.29" height="10.33" fill="#FF8888"/>
<rect x="725.08" y="1234.56" width="9.29" height="10.33" fill="#B4DFED"/>
<rect x="734.3" y="1234.56" width="9.29" height="10.33" fill="#8DCFE5"/>
<rect x="743.53" y="1234.56" width="9.29" height="10.33" fill="#DDF0F7"/>
<rect x="752.75" y="1234.56" width="18.51" height="10.33" fill="#FF0000"/>
<rect x="771.2" y="1234.56" width="9.29" height="10.33" fill="#FF8888"/>
<rect x="780.43" y="1234.56" width="18.51" height="10.33" fill="#FF0000"/>
<rect x="798.88" y="1234.56" width="9.29" height="10.33" fill="#B4DFED"/>
<rect x="808.1" y="1234.56" width="9.29" height="10.33" fill="#FF0000"/>
<rect x="817.33" y="1234.56" width="18.51" height="10.33" fill="#8DCFE5"/>
<rect x="835.78" y="1234.56" width="27.73" height="10.33" fill="#FF0000"/>
<rect x="725.08" y="1244.83" width="27.73" height="10.33" fill="#8DCFE5"/>
<rect x="752.75" y="1244.83" width="9.29" height="10.33" fill="#FF0000"/>
<rect x="761.98" y="1244.83" width="9.29" height="10.33" fill="#FF4040"/>
<rect x="771.2" y="1244.83" width="9.29" height="10.33" fill="#FFFFFF"/>
<rect x="780.43" y="1244.83" width="18.51" height="10.33" fill="#FF0000"/>
<rect x="798.88" y="1244.83" width="9.29" height="10.33" fill="#DDF0F7"/>
<rect x="808.1" y="1244.83" width="9.29" height="10.33" fill="#FF0000"/>
<rect x="817.33" y="1244.83" width="18.51" height="10.33" fill="#8DCFE5"/>
<rect x="835.78" y="1244.83" width="9.29" height="10.33" fill="#FF0000"/>
<rect x="845" y="1244.83" width="9.29" height="10.33" fill="#FF8888"/>
<rect x="854.23" y="1244.83" width="9.29" height="10.33" fill="#FF4040"/>
<rect x="725.08" y="1255.1" width="9.29" height="10.33" fill="#66B5D4"/>
<rect x="734.3" y="1255.1" width="9.29" height="10.33" fill="#4092BB"/>
<rect x="743.53" y="1255.1" width="9.29" height="10.33" fill="#B4DFED"/>
<rect x="752.75" y="1255.1" width="18.51" height="10.33" fill="#FF0000"/>
<rect x="771.2" y="1255.1" width="9.29" height="10.33" fill="#FF4040"/>
<rect x="780.43" y="1255.1" width="18.51" height="10.33" fill="#FF0000"/>
<rect x="798.88" y="1255.1" width="9.29" height="10.33" fill="#B4DFED"/>
<rect x="808.1" y="1255.1" width="9.29" height="10.33" fill="#FF0000"/>
<rect x="817.33" y="1255.1" width="9.29" height="10.33" fill="#66B5D4"/>
<rect x="826.55" y="1255.1" width="9.29" height="10.33" fill="#8DCFE5"/>
<rect x="835.78" y="1255.1" width="27.73" height="10.33" fill="#FF0000"/>
<text x="866.6" y="1243.39" font-size="10.25" transform="rotate(0.03 866.6 1243.39)">ko00190| Oxidative phosphorylation</text>
<text x="866.6" y="1253.66" font-size="10.25" transform="rotate(0.03 866.6 1253.66)">ko00750| Vitamin B6 metabolism</text>
<text x="866.6" y="1263.93" font-size="10.25" transform="rotate(0.03 866.6 1263.93)">ko03008| Ribosome biogenesis in eukaryotes</text>
<rect x="332" y="721.9" width="124.3" height="94" fill="none" stroke="#000" stroke-width="4.1"/>
<rect x="456.2" y="816.4" width="124" height="86" fill="none" stroke="#000" stroke-width="4.1"/>
<rect x="580.2" y="902" width="143.2" height="84.8" fill="none" stroke="#000" stroke-width="4.1"/>
<rect x="723.1" y="987.5" width="139.2" height="179.5" fill="none" stroke="#000" stroke-width="4.1"/>
<rect x="332" y="1167" width="124.2" height="65.8" fill="none" stroke="#000" stroke-width="4.1"/>
<rect x="580.3" y="1167" width="142.8" height="65.8" fill="none" stroke="#000" stroke-width="4.1"/>
<rect x="456.1" y="1232.8" width="123.8" height="34.7" fill="none" stroke="#000" stroke-width="4.1"/>
<rect x="723.1" y="1232.8" width="140.1" height="34.7" fill="none" stroke="#000" stroke-width="4.1"/>
<text x="336.11" y="1268.57" font-size="7.2" fill="#111" transform="rotate(90.03 336.11 1268.57)">SLS01</text>
<text x="345.34" y="1268.57" font-size="7.2" fill="#111" transform="rotate(90.03 345.34 1268.57)">SLS02</text>
<text x="354.56" y="1268.57" font-size="7.2" fill="#111" transform="rotate(90.03 354.56 1268.57)">SLS03</text>
<text x="363.79" y="1268.57" font-size="7.2" fill="#111" transform="rotate(90.03 363.79 1268.57)">SLS04</text>
<text x="373.01" y="1268.57" font-size="7.2" fill="#111" transform="rotate(90.03 373.01 1268.57)">SLS05</text>
<text x="382.24" y="1268.57" font-size="7.2" fill="#111" transform="rotate(90.03 382.24 1268.57)">SLS06</text>
<text x="391.46" y="1268.57" font-size="7.2" fill="#111" transform="rotate(90.03 391.46 1268.57)">SLS08</text>
<text x="400.69" y="1268.57" font-size="7.2" fill="#111" transform="rotate(90.03 400.69 1268.57)">SLS12</text>
<text x="409.91" y="1268.57" font-size="7.2" fill="#111" transform="rotate(90.03 409.91 1268.57)">SLS16</text>
<text x="419.14" y="1268.57" font-size="7.2" fill="#111" transform="rotate(90.03 419.14 1268.57)">SLS17</text>
<text x="428.36" y="1268.57" font-size="7.2" fill="#111" transform="rotate(90.03 428.36 1268.57)">SLS18</text>
<text x="437.59" y="1268.57" font-size="7.2" fill="#111" transform="rotate(90.03 437.59 1268.57)">SLS19</text>
<text x="446.81" y="1268.57" font-size="7.2" fill="#111" transform="rotate(90.03 446.81 1268.57)">SLS20</text>
<text x="460.29" y="1268.57" font-size="7.2" fill="#111" transform="rotate(90.03 460.29 1268.57)">SCS01</text>
<text x="469.51" y="1268.57" font-size="7.2" fill="#111" transform="rotate(90.03 469.51 1268.57)">SCS02</text>
<text x="478.74" y="1268.57" font-size="7.2" fill="#111" transform="rotate(90.03 478.74 1268.57)">SCS03</text>
<text x="487.96" y="1268.57" font-size="7.2" fill="#111" transform="rotate(90.03 487.96 1268.57)">SCS04</text>
<text x="497.19" y="1268.57" font-size="7.2" fill="#111" transform="rotate(90.03 497.19 1268.57)">SCS05</text>
<text x="506.41" y="1268.57" font-size="7.2" fill="#111" transform="rotate(90.03 506.41 1268.57)">SCS06</text>
<text x="515.64" y="1268.57" font-size="7.2" fill="#111" transform="rotate(90.03 515.64 1268.57)">SCS08</text>
<text x="524.86" y="1268.57" font-size="7.2" fill="#111" transform="rotate(90.03 524.86 1268.57)">SCS12</text>
<text x="534.09" y="1268.57" font-size="7.2" fill="#111" transform="rotate(90.03 534.09 1268.57)">SCS16</text>
<text x="543.31" y="1268.57" font-size="7.2" fill="#111" transform="rotate(90.03 543.31 1268.57)">SCS17</text>
<text x="552.54" y="1268.57" font-size="7.2" fill="#111" transform="rotate(90.03 552.54 1268.57)">SCS18</text>
<text x="561.76" y="1268.57" font-size="7.2" fill="#111" transform="rotate(90.03 561.76 1268.57)">SCS19</text>
<text x="570.99" y="1268.57" font-size="7.2" fill="#111" transform="rotate(90.03 570.99 1268.57)">SCS20</text>
<text x="584.46" y="1268.57" font-size="7.2" fill="#111" transform="rotate(90.03 584.46 1268.57)">BLS01</text>
<text x="593.69" y="1268.57" font-size="7.2" fill="#111" transform="rotate(90.03 593.69 1268.57)">BLS02</text>
<text x="602.91" y="1268.57" font-size="7.2" fill="#111" transform="rotate(90.03 602.91 1268.57)">BLS03</text>
<text x="612.14" y="1268.57" font-size="7.2" fill="#111" transform="rotate(90.03 612.14 1268.57)">BLS04</text>
<text x="621.36" y="1268.57" font-size="7.2" fill="#111" transform="rotate(90.03 621.36 1268.57)">BLS05</text>
<text x="630.59" y="1268.57" font-size="7.2" fill="#111" transform="rotate(90.03 630.59 1268.57)">BLS06</text>
<text x="639.81" y="1268.57" font-size="7.2" fill="#111" transform="rotate(90.03 639.81 1268.57)">BLS07</text>
<text x="649.04" y="1268.57" font-size="7.2" fill="#111" transform="rotate(90.03 649.04 1268.57)">BLS08</text>
<text x="658.26" y="1268.57" font-size="7.2" fill="#111" transform="rotate(90.03 658.26 1268.57)">BLS09</text>
<text x="667.49" y="1268.57" font-size="7.2" fill="#111" transform="rotate(90.03 667.49 1268.57)">BLS10</text>
<text x="676.71" y="1268.57" font-size="7.2" fill="#111" transform="rotate(90.03 676.71 1268.57)">BLS11</text>
<text x="685.94" y="1268.57" font-size="7.2" fill="#111" transform="rotate(90.03 685.94 1268.57)">BLS12</text>
<text x="695.16" y="1268.57" font-size="7.2" fill="#111" transform="rotate(90.03 695.16 1268.57)">BLS13</text>
<text x="704.39" y="1268.57" font-size="7.2" fill="#111" transform="rotate(90.03 704.39 1268.57)">BLS14</text>
<text x="713.61" y="1268.57" font-size="7.2" fill="#111" transform="rotate(90.03 713.61 1268.57)">BLS15</text>
<text x="727.09" y="1268.57" font-size="7.2" fill="#111" transform="rotate(90.03 727.09 1268.57)">BCS01</text>
<text x="736.31" y="1268.57" font-size="7.2" fill="#111" transform="rotate(90.03 736.31 1268.57)">BCS02</text>
<text x="745.54" y="1268.57" font-size="7.2" fill="#111" transform="rotate(90.03 745.54 1268.57)">BCS03</text>
<text x="754.76" y="1268.57" font-size="7.2" fill="#111" transform="rotate(90.03 754.76 1268.57)">BCS04</text>
<text x="763.99" y="1268.57" font-size="7.2" fill="#111" transform="rotate(90.03 763.99 1268.57)">BCS05</text>
<text x="773.21" y="1268.57" font-size="7.2" fill="#111" transform="rotate(90.03 773.21 1268.57)">BCS06</text>
<text x="782.44" y="1268.57" font-size="7.2" fill="#111" transform="rotate(90.03 782.44 1268.57)">BCS07</text>
<text x="791.66" y="1268.57" font-size="7.2" fill="#111" transform="rotate(90.03 791.66 1268.57)">BCS08</text>
<text x="800.89" y="1268.57" font-size="7.2" fill="#111" transform="rotate(90.03 800.89 1268.57)">BCS09</text>
<text x="810.11" y="1268.57" font-size="7.2" fill="#111" transform="rotate(90.03 810.11 1268.57)">BCS10</text>
<text x="819.34" y="1268.57" font-size="7.2" fill="#111" transform="rotate(90.03 819.34 1268.57)">BCS11</text>
<text x="828.56" y="1268.57" font-size="7.2" fill="#111" transform="rotate(90.03 828.56 1268.57)">BCS12</text>
<text x="837.79" y="1268.57" font-size="7.2" fill="#111" transform="rotate(90.03 837.79 1268.57)">BCS13</text>
<text x="847.01" y="1268.57" font-size="7.2" fill="#111" transform="rotate(90.03 847.01 1268.57)">BCS14</text>
<text x="856.24" y="1268.57" font-size="7.2" fill="#111" transform="rotate(90.03 856.24 1268.57)">BCS15</text>
<path d="M310.8 729 L298.6 729.6 L298.6 898 L310.8 898" fill="none" stroke="#000" stroke-width="2.6" stroke-linejoin="miter"/>
<path d="M310.8 905 L298.6 905.6 L298.6 1164.6 L310.8 1164.6" fill="none" stroke="#000" stroke-width="2.8" stroke-linejoin="miter"/>
<path d="M310.8 1172.6 L298.6 1173.2 L298.6 1263.6 L310.8 1263.6" fill="none" stroke="#000" stroke-width="2.8" stroke-linejoin="miter"/>
<text x="248.6" y="815.6" font-size="24.45" text-anchor="middle" transform="rotate(-89.97 248.6 815.6)">Swab</text>
<text x="279" y="812.2" font-size="24.45" text-anchor="middle" transform="rotate(-89.97 279 812.2)">samples only</text>
<text x="247.8" y="1029" font-size="24.45" text-anchor="middle" transform="rotate(-89.97 247.8 1029)">Biopsy</text>
<text x="279" y="1026" font-size="24.45" text-anchor="middle" transform="rotate(-89.97 279 1026)">samples only</text>
<text x="248" y="1221.3" font-size="24.45" text-anchor="middle" transform="rotate(-89.97 248 1221.3)">Both</text>
<text x="279" y="1221.3" font-size="24.45" text-anchor="middle" transform="rotate(-89.97 279 1221.3)">samples</text>
<defs><linearGradient id="gB" x1="0" y1="0" x2="0" y2="1"><stop offset="0" stop-color="#9C3A3E"/><stop offset="0.06" stop-color="#B83A3C"/><stop offset="0.16" stop-color="#E83B3B"/><stop offset="0.25" stop-color="#FF3D3D"/><stop offset="0.42" stop-color="#FF3F3F"/><stop offset="0.455" stop-color="#FF6A6A"/><stop offset="0.49" stop-color="#FFE4E4"/><stop offset="0.505" stop-color="#FFFFFF"/><stop offset="0.53" stop-color="#DDEFF5"/><stop offset="0.57" stop-color="#A9D7E6"/><stop offset="0.63" stop-color="#7BBAD0"/><stop offset="0.72" stop-color="#5FA0BC"/><stop offset="0.8" stop-color="#54819F"/><stop offset="0.9" stop-color="#49628A"/><stop offset="1" stop-color="#435180"/></linearGradient></defs>
<rect x="1160.3" y="695.1" width="10.6" height="153.6" fill="url(#gB)"/>
<text x="1174.6" y="716.1" font-size="10.2" transform="rotate(0.03 1174.6 716.1)">4</text>
<text x="1174.6" y="745.7" font-size="10.2" transform="rotate(0.03 1174.6 745.7)">2</text>
<text x="1174.6" y="775.4" font-size="10.2" transform="rotate(0.03 1174.6 775.4)">0</text>
<text x="1174.6" y="805.8" font-size="10.2" transform="rotate(0.03 1174.6 805.8)">−2</text>
<text x="1174.6" y="835.5" font-size="10.2" transform="rotate(0.03 1174.6 835.5)">−4</text>
<text x="1190.2" y="702.6" font-size="10" transform="rotate(0.03 1190.2 702.6)" font-weight="bold">Region</text>
<rect x="1190.2" y="706.3" width="14.6" height="14.77" fill="#F2695D"/>
<text x="1207.8" y="717.26" font-size="10.2" transform="rotate(0.03 1207.8 717.26)">Lesion</text>
<rect x="1190.2" y="721.02" width="14.6" height="14.77" fill="#7CCBC3"/>
<text x="1207.8" y="731.98" font-size="10.2" transform="rotate(0.03 1207.8 731.98)">Control</text>
<text x="1190.2" y="754" font-size="10" transform="rotate(0.03 1190.2 754)" font-weight="bold">Sampling</text>
<rect x="1190.2" y="757.8" width="14.6" height="14.77" fill="#E2C720"/>
<text x="1207.8" y="768.76" font-size="10.2" transform="rotate(0.03 1207.8 768.76)">Swab</text>
<rect x="1190.2" y="772.52" width="14.6" height="14.77" fill="#A50FE8"/>
<text x="1207.8" y="783.48" font-size="10.2" transform="rotate(0.03 1207.8 783.48)">Biopsy</text>
<text x="1190.2" y="805.8" font-size="10" transform="rotate(0.03 1190.2 805.8)" font-weight="bold">Level1</text>
<rect x="1190.2" y="809.4" width="14.6" height="14.77" fill="#F01E96"/>
<text x="1207.8" y="820.26" font-size="10.25" transform="rotate(0.03 1207.8 820.26)">Cellular Processes</text>
<rect x="1190.2" y="824.12" width="14.6" height="14.77" fill="#F2CB2E"/>
<text x="1207.8" y="834.98" font-size="10.25" transform="rotate(0.03 1207.8 834.98)">Environmental Information Processing</text>
<rect x="1190.2" y="838.84" width="14.6" height="14.77" fill="#78EC66"/>
<text x="1207.8" y="849.7" font-size="10.25" transform="rotate(0.03 1207.8 849.7)">Genetic Information Processing</text>
<rect x="1190.2" y="853.56" width="14.6" height="14.77" fill="#9AF4FA"/>
<text x="1207.8" y="864.42" font-size="10.25" transform="rotate(0.03 1207.8 864.42)">Human Diseases</text>
<rect x="1190.2" y="868.28" width="14.6" height="14.77" fill="#6490E8"/>
<text x="1207.8" y="879.14" font-size="10.25" transform="rotate(0.03 1207.8 879.14)">Metabolism</text>
<rect x="1190.2" y="883" width="14.6" height="14.77" fill="#696969"/>
<text x="1207.8" y="893.86" font-size="10.25" transform="rotate(0.03 1207.8 893.86)">Organismal Systems</text>
</g>
<rect x="864.5" y="1163" width="120" height="5.2" fill="#fff"/>
<g id="panelC">
<text x="76" y="1338.3" font-size="29.8" font-weight="bold" font-family="'DejaVu Sans Condensed','DejaVu Sans','Liberation Sans',sans-serif" fill="#231F20" transform="rotate(0.03 76 1338.3)">C</text>
<text x="150.6" y="1334" font-size="24.55" transform="rotate(0.03 150.6 1334)">Significant in</text>
<rect x="334.1" y="1318.9" width="119.93" height="9.9" fill="#F2695D"/>
<rect x="334.1" y="1331" width="119.93" height="9.9" fill="#E2C720"/>
<rect x="458.28" y="1318.9" width="119.93" height="9.9" fill="#7CCBC3"/>
<rect x="458.28" y="1331" width="119.93" height="9.9" fill="#E2C720"/>
<rect x="582.45" y="1318.9" width="138.38" height="9.9" fill="#F2695D"/>
<rect x="582.45" y="1331" width="138.38" height="9.9" fill="#A50FE8"/>
<rect x="725.08" y="1318.9" width="138.38" height="9.9" fill="#7CCBC3"/>
<rect x="725.08" y="1331" width="138.38" height="9.9" fill="#A50FE8"/>
<rect x="321.2" y="1344.2" width="9.4" height="10.37" fill="#6490E8"/>
<rect x="321.2" y="1354.51" width="9.4" height="10.37" fill="#6490E8"/>
<rect x="321.2" y="1364.82" width="9.4" height="10.37" fill="#6490E8"/>
<rect x="321.2" y="1375.13" width="9.4" height="10.37" fill="#6490E8"/>
<rect x="321.2" y="1385.44" width="9.4" height="10.37" fill="#6490E8"/>
<rect x="321.2" y="1395.75" width="9.4" height="10.37" fill="#6490E8"/>
<rect x="321.2" y="1406.06" width="9.4" height="10.37" fill="#6490E8"/>
<rect x="321.2" y="1416.37" width="9.4" height="10.37" fill="#6490E8"/>
<rect x="321.2" y="1426.68" width="9.4" height="10.37" fill="#6490E8"/>
<rect x="321.2" y="1436.99" width="9.4" height="10.37" fill="#6490E8"/>
<rect x="321.2" y="1447.3" width="9.4" height="10.37" fill="#6490E8"/>
<rect x="321.2" y="1457.61" width="9.4" height="10.37" fill="#78EC66"/>
<rect x="321.2" y="1467.92" width="9.4" height="10.37" fill="#78EC66"/>
<rect x="321.2" y="1478.23" width="9.4" height="10.37" fill="#78EC66"/>
<rect x="321.2" y="1488.54" width="9.4" height="10.37" fill="#78EC66"/>
<rect x="321.2" y="1498.85" width="9.4" height="10.37" fill="#78EC66"/>
<rect x="321.2" y="1509.16" width="9.4" height="10.37" fill="#F01E96"/>
<rect x="334.1" y="1344.2" width="9.29" height="10.37" fill="#F8D2D2"/>
<rect x="343.33" y="1344.2" width="9.29" height="10.37" fill="#E26060"/>
<rect x="352.55" y="1344.2" width="9.29" height="10.37" fill="#191970"/>
<rect x="361.78" y="1344.2" width="9.29" height="10.37" fill="#EEA0A0"/>
<rect x="371" y="1344.2" width="9.29" height="10.37" fill="#F8D2D2"/>
<rect x="380.23" y="1344.2" width="9.29" height="10.37" fill="#E6E6F0"/>
<rect x="389.45" y="1344.2" width="9.29" height="10.37" fill="#FFFFFF"/>
<rect x="398.68" y="1344.2" width="9.29" height="10.37" fill="#A0A0CC"/>
<rect x="407.9" y="1344.2" width="9.29" height="10.37" fill="#F8D2D2"/>
<rect x="417.12" y="1344.2" width="9.29" height="10.37" fill="#DB3030"/>
<rect x="426.35" y="1344.2" width="9.29" height="10.37" fill="#E6E6F0"/>
<rect x="435.58" y="1344.2" width="9.29" height="10.37" fill="#DB3030"/>
<rect x="444.8" y="1344.2" width="9.29" height="10.37" fill="#191970"/>
<rect x="334.1" y="1354.51" width="9.29" height="10.37" fill="#FCECEC"/>
<rect x="343.33" y="1354.51" width="9.29" height="10.37" fill="#DB3030"/>
<rect x="352.55" y="1354.51" width="9.29" height="10.37" fill="#191970"/>
<rect x="361.78" y="1354.51" width="9.29" height="10.37" fill="#F8D2D2"/>
<rect x="371" y="1354.51" width="9.29" height="10.37" fill="#FCECEC"/>
<rect x="380.23" y="1354.51" width="9.29" height="10.37" fill="#F8D2D2"/>
<rect x="389.45" y="1354.51" width="18.51" height="10.37" fill="#FFFFFF"/>
<rect x="407.9" y="1354.51" width="9.29" height="10.37" fill="#F8D2D2"/>
<rect x="417.12" y="1354.51" width="9.29" height="10.37" fill="#E26060"/>
<rect x="426.35" y="1354.51" width="9.29" height="10.37" fill="#F8D2D2"/>
<rect x="435.58" y="1354.51" width="9.29" height="10.37" fill="#D40000"/>
<rect x="444.8" y="1354.51" width="9.29" height="10.37" fill="#191970"/>
<rect x="334.1" y="1364.82" width="9.29" height="10.37" fill="#FCECEC"/>
<rect x="343.33" y="1364.82" width="9.29" height="10.37" fill="#E26060"/>
<rect x="352.55" y="1364.82" width="9.29" height="10.37" fill="#191970"/>
<rect x="361.78" y="1364.82" width="9.29" height="10.37" fill="#F8D2D2"/>
<rect x="371" y="1364.82" width="18.51" height="10.37" fill="#FCECEC"/>
<rect x="389.45" y="1364.82" width="18.51" height="10.37" fill="#FFFFFF"/>
<rect x="407.9" y="1364.82" width="9.29" height="10.37" fill="#F8D2D2"/>
<rect x="417.12" y="1364.82" width="9.29" height="10.37" fill="#E26060"/>
<rect x="426.35" y="1364.82" width="9.29" height="10.37" fill="#FCECEC"/>
<rect x="435.58" y="1364.82" width="9.29" height="10.37" fill="#D40000"/>
<rect x="444.8" y="1364.82" width="9.29" height="10.37" fill="#191970"/>
<rect x="334.1" y="1375.13" width="9.29" height="10.37" fill="#F8D2D2"/>
<rect x="343.33" y="1375.13" width="9.29" height="10.37" fill="#EEA0A0"/>
<rect x="352.55" y="1375.13" width="9.29" height="10.37" fill="#191970"/>
<rect x="361.78" y="1375.13" width="9.29" height="10.37" fill="#F8D2D2"/>
<rect x="371" y="1375.13" width="9.29" height="10.37" fill="#FCECEC"/>
<rect x="380.23" y="1375.13" width="9.29" height="10.37" fill="#F8D2D2"/>
<rect x="389.45" y="1375.13" width="18.51" height="10.37" fill="#FCECEC"/>
<rect x="407.9" y="1375.13" width="9.29" height="10.37" fill="#F8D2D2"/>
<rect x="417.12" y="1375.13" width="9.29" height="10.37" fill="#E26060"/>
<rect x="426.35" y="1375.13" width="9.29" height="10.37" fill="#FCECEC"/>
<rect x="435.58" y="1375.13" width="9.29" height="10.37" fill="#DB3030"/>
<rect x="444.8" y="1375.13" width="9.29" height="10.37" fill="#191970"/>
<rect x="334.1" y="1385.44" width="9.29" height="10.37" fill="#FCECEC"/>
<rect x="343.33" y="1385.44" width="9.29" height="10.37" fill="#DB3030"/>
<rect x="352.55" y="1385.44" width="9.29" height="10.37" fill="#191970"/>
<rect x="361.78" y="1385.44" width="9.29" height="10.37" fill="#F8D2D2"/>
<rect x="371" y="1385.44" width="9.29" height="10.37" fill="#FFFFFF"/>
<rect x="380.23" y="1385.44" width="9.29" height="10.37" fill="#FCECEC"/>
<rect x="389.45" y="1385.44" width="18.51" height="10.37" fill="#FFFFFF"/>
<rect x="407.9" y="1385.44" width="9.29" height="10.37" fill="#F8D2D2"/>
<rect x="417.12" y="1385.44" width="9.29" height="10.37" fill="#EEA0A0"/>
<rect x="426.35" y="1385.44" width="9.29" height="10.37" fill="#F8D2D2"/>
<rect x="435.58" y="1385.44" width="9.29" height="10.37" fill="#D40000"/>
<rect x="444.8" y="1385.44" width="9.29" height="10.37" fill="#191970"/>
<rect x="334.1" y="1395.75" width="9.29" height="10.37" fill="#F8D2D2"/>
<rect x="343.33" y="1395.75" width="9.29" height="10.37" fill="#EEA0A0"/>
<rect x="352.55" y="1395.75" width="9.29" height="10.37" fill="#191970"/>
<rect x="361.78" y="1395.75" width="9.29" height="10.37" fill="#EEA0A0"/>
<rect x="371" y="1395.75" width="18.51" height="10.37" fill="#F8D2D2"/>
<rect x="389.45" y="1395.75" width="18.51" height="10.37" fill="#FCECEC"/>
<rect x="407.9" y="1395.75" width="9.29" height="10.37" fill="#EEA0A0"/>
<rect x="417.12" y="1395.75" width="9.29" height="10.37" fill="#E26060"/>
<rect x="426.35" y="1395.75" width="9.29" height="10.37" fill="#F8D2D2"/>
<rect x="435.58" y="1395.75" width="9.29" height="10.37" fill="#DB3030"/>
<rect x="444.8" y="1395.75" width="9.29" height="10.37" fill="#191970"/>
<rect x="334.1" y="1406.06" width="9.29" height="10.37" fill="#F8D2D2"/>
<rect x="343.33" y="1406.06" width="9.29" height="10.37" fill="#EEA0A0"/>
<rect x="352.55" y="1406.06" width="9.29" height="10.37" fill="#191970"/>
<rect x="361.78" y="1406.06" width="9.29" height="10.37" fill="#EEA0A0"/>
<rect x="371" y="1406.06" width="36.96" height="10.37" fill="#F8D2D2"/>
<rect x="407.9" y="1406.06" width="9.29" height="10.37" fill="#EEA0A0"/>
<rect x="417.12" y="1406.06" width="9.29" height="10.37" fill="#E26060"/>
<rect x="426.35" y="1406.06" width="9.29" height="10.37" fill="#F8D2D2"/>
<rect x="435.58" y="1406.06" width="9.29" height="10.37" fill="#E26060"/>
<rect x="444.8" y="1406.06" width="9.29" height="10.37" fill="#191970"/>
<rect x="334.1" y="1416.37" width="9.29" height="10.37" fill="#FCECEC"/>
<rect x="343.33" y="1416.37" width="9.29" height="10.37" fill="#DB3030"/>
<rect x="352.55" y="1416.37" width="9.29" height="10.37" fill="#191970"/>
<rect x="361.78" y="1416.37" width="9.29" height="10.37" fill="#F8D2D2"/>
<rect x="371" y="1416.37" width="9.29" height="10.37" fill="#FFFFFF"/>
<rect x="380.23" y="1416.37" width="9.29" height="10.37" fill="#FCECEC"/>
<rect x="389.45" y="1416.37" width="18.51" height="10.37" fill="#FFFFFF"/>
<rect x="407.9" y="1416.37" width="9.29" height="10.37" fill="#F8D2D2"/>
<rect x="417.12" y="1416.37" width="9.29" height="10.37" fill="#EEA0A0"/>
<rect x="426.35" y="1416.37" width="9.29" height="10.37" fill="#F8D2D2"/>
<rect x="435.58" y="1416.37" width="9.29" height="10.37" fill="#D40000"/>
<rect x="444.8" y="1416.37" width="9.29" height="10.37" fill="#191970"/>
<rect x="334.1" y="1426.68" width="9.29" height="10.37" fill="#A0A0CC"/>
<rect x="343.33" y="1426.68" width="9.29" height="10.37" fill="#F8D2D2"/>
<rect x="352.55" y="1426.68" width="9.29" height="10.37" fill="#191970"/>
<rect x="361.78" y="1426.68" width="18.51" height="10.37" fill="#C6C6E0"/>
<rect x="380.23" y="1426.68" width="9.29" height="10.37" fill="#FCECEC"/>
<rect x="389.45" y="1426.68" width="18.51" height="10.37" fill="#A0A0CC"/>
<rect x="407.9" y="1426.68" width="9.29" height="10.37" fill="#C6C6E0"/>
<rect x="417.12" y="1426.68" width="9.29" height="10.37" fill="#EEA0A0"/>
<rect x="426.35" y="1426.68" width="9.29" height="10.37" fill="#E6E6F0"/>
<rect x="435.58" y="1426.68" width="9.29" height="10.37" fill="#D40000"/>
<rect x="444.8" y="1426.68" width="9.29" height="10.37" fill="#191970"/>
<rect x="334.1" y="1436.99" width="9.29" height="10.37" fill="#FCECEC"/>
<rect x="343.33" y="1436.99" width="9.29" height="10.37" fill="#DB3030"/>
<rect x="352.55" y="1436.99" width="9.29" height="10.37" fill="#191970"/>
<rect x="361.78" y="1436.99" width="9.29" height="10.37" fill="#F8D2D2"/>
<rect x="371" y="1436.99" width="9.29" height="10.37" fill="#FFFFFF"/>
<rect x="380.23" y="1436.99" width="9.29" height="10.37" fill="#FCECEC"/>
<rect x="389.45" y="1436.99" width="18.51" height="10.37" fill="#FFFFFF"/>
<rect x="407.9" y="1436.99" width="9.29" height="10.37" fill="#F8D2D2"/>
<rect x="417.12" y="1436.99" width="9.29" height="10.37" fill="#EEA0A0"/>
<rect x="426.35" y="1436.99" width="9.29" height="10.37" fill="#F8D2D2"/>
<rect x="435.58" y="1436.99" width="9.29" height="10.37" fill="#D40000"/>
<rect x="444.8" y="1436.99" width="9.29" height="10.37" fill="#191970"/>
<rect x="334.1" y="1447.3" width="9.29" height="10.37" fill="#FCECEC"/>
<rect x="343.33" y="1447.3" width="9.29" height="10.37" fill="#DB3030"/>
<rect x="352.55" y="1447.3" width="9.29" height="10.37" fill="#191970"/>
<rect x="361.78" y="1447.3" width="9.29" height="10.37" fill="#F8D2D2"/>
<rect x="371" y="1447.3" width="9.29" height="10.37" fill="#FFFFFF"/>
<rect x="380.23" y="1447.3" width="9.29" height="10.37" fill="#FCECEC"/>
<rect x="389.45" y="1447.3" width="18.51" height="10.37" fill="#FFFFFF"/>
<rect x="407.9" y="1447.3" width="9.29" height="10.37" fill="#F8D2D2"/>
<rect x="417.12" y="1447.3" width="9.29" height="10.37" fill="#EEA0A0"/>
<rect x="426.35" y="1447.3" width="9.29" height="10.37" fill="#F8D2D2"/>
<rect x="435.58" y="1447.3" width="9.29" height="10.37" fill="#D40000"/>
<rect x="444.8" y="1447.3" width="9.29" height="10.37" fill="#191970"/>
<rect x="334.1" y="1457.61" width="9.29" height="10.37" fill="#E6E6F0"/>
<rect x="343.33" y="1457.61" width="9.29" height="10.37" fill="#D40000"/>
<rect x="352.55" y="1457.61" width="9.29" height="10.37" fill="#191970"/>
<rect x="361.78" y="1457.61" width="9.29" height="10.37" fill="#FCECEC"/>
<rect x="371" y="1457.61" width="9.29" height="10.37" fill="#E6E6F0"/>
<rect x="380.23" y="1457.61" width="9.29" height="10.37" fill="#FCECEC"/>
<rect x="389.45" y="1457.61" width="9.29" height="10.37" fill="#E6E6F0"/>
<rect x="398.68" y="1457.61" width="9.29" height="10.37" fill="#C6C6E0"/>
<rect x="407.9" y="1457.61" width="9.29" height="10.37" fill="#FCECEC"/>
<rect x="417.12" y="1457.61" width="9.29" height="10.37" fill="#EEA0A0"/>
<rect x="426.35" y="1457.61" width="9.29" height="10.37" fill="#FCECEC"/>
<rect x="435.58" y="1457.61" width="9.29" height="10.37" fill="#D40000"/>
<rect x="444.8" y="1457.61" width="9.29" height="10.37" fill="#191970"/>
<rect x="334.1" y="1467.92" width="9.29" height="10.37" fill="#F8D2D2"/>
<rect x="343.33" y="1467.92" width="9.29" height="10.37" fill="#DB3030"/>
<rect x="352.55" y="1467.92" width="9.29" height="10.37" fill="#191970"/>
<rect x="361.78" y="1467.92" width="9.29" height="10.37" fill="#F8D2D2"/>
<rect x="371" y="1467.92" width="9.29" height="10.37" fill="#FCECEC"/>
<rect x="380.23" y="1467.92" width="9.29" height="10.37" fill="#F8D2D2"/>
<rect x="389.45" y="1467.92" width="18.51" height="10.37" fill="#FCECEC"/>
<rect x="407.9" y="1467.92" width="9.29" height="10.37" fill="#F8D2D2"/>
<rect x="417.12" y="1467.92" width="9.29" height="10.37" fill="#E26060"/>
<rect x="426.35" y="1467.92" width="9.29" height="10.37" fill="#F8D2D2"/>
<rect x="435.58" y="1467.92" width="9.29" height="10.37" fill="#D40000"/>
<rect x="444.8" y="1467.92" width="9.29" height="10.37" fill="#191970"/>
<rect x="334.1" y="1478.23" width="9.29" height="10.37" fill="#FCECEC"/>
<rect x="343.33" y="1478.23" width="9.29" height="10.37" fill="#DB3030"/>
<rect x="352.55" y="1478.23" width="9.29" height="10.37" fill="#191970"/>
<rect x="361.78" y="1478.23" width="9.29" height="10.37" fill="#F8D2D2"/>
<rect x="371" y="1478.23" width="9.29" height="10.37" fill="#FFFFFF"/>
<rect x="380.23" y="1478.23" width="9.29" height="10.37" fill="#FCECEC"/>
<rect x="389.45" y="1478.23" width="18.51" height="10.37" fill="#FFFFFF"/>
<rect x="407.9" y="1478.23" width="9.29" height="10.37" fill="#F8D2D2"/>
<rect x="417.12" y="1478.23" width="9.29" height="10.37" fill="#EEA0A0"/>
<rect x="426.35" y="1478.23" width="9.29" height="10.37" fill="#F8D2D2"/>
<rect x="435.58" y="1478.23" width="9.29" height="10.37" fill="#D40000"/>
<rect x="444.8" y="1478.23" width="9.29" height="10.37" fill="#191970"/>
<rect x="334.1" y="1488.54" width="9.29" height="10.37" fill="#FCECEC"/>
<rect x="343.33" y="1488.54" width="9.29" height="10.37" fill="#DB3030"/>
<rect x="352.55" y="1488.54" width="9.29" height="10.37" fill="#191970"/>
<rect x="361.78" y="1488.54" width="9.29" height="10.37" fill="#F8D2D2"/>
<rect x="371" y="1488.54" width="9.29" height="10.37" fill="#FFFFFF"/>
<rect x="380.23" y="1488.54" width="9.29" height="10.37" fill="#FCECEC"/>
<rect x="389.45" y="1488.54" width="18.51" height="10.37" fill="#FFFFFF"/>
<rect x="407.9" y="1488.54" width="9.29" height="10.37" fill="#F8D2D2"/>
<rect x="417.12" y="1488.54" width="9.29" height="10.37" fill="#EEA0A0"/>
<rect x="426.35" y="1488.54" width="9.29" height="10.37" fill="#F8D2D2"/>
<rect x="435.58" y="1488.54" width="9.29" height="10.37" fill="#D40000"/>
<rect x="444.8" y="1488.54" width="9.29" height="10.37" fill="#191970"/>
<rect x="334.1" y="1498.85" width="9.29" height="10.37" fill="#FCECEC"/>
<rect x="343.33" y="1498.85" width="9.29" height="10.37" fill="#DB3030"/>
<rect x="352.55" y="1498.85" width="9.29" height="10.37" fill="#191970"/>
<rect x="361.78" y="1498.85" width="9.29" height="10.37" fill="#F8D2D2"/>
<rect x="371" y="1498.85" width="9.29" height="10.37" fill="#FFFFFF"/>
<rect x="380.23" y="1498.85" width="9.29" height="10.37" fill="#FCECEC"/>
<rect x="389.45" y="1498.85" width="18.51" height="10.37" fill="#FFFFFF"/>
<rect x="407.9" y="1498.85" width="9.29" height="10.37" fill="#F8D2D2"/>
<rect x="417.12" y="1498.85" width="9.29" height="10.37" fill="#EEA0A0"/>
<rect x="426.35" y="1498.85" width="9.29" height="10.37" fill="#F8D2D2"/>
<rect x="435.58" y="1498.85" width="9.29" height="10.37" fill="#D40000"/>
<rect x="444.8" y="1498.85" width="9.29" height="10.37" fill="#191970"/>
<rect x="334.1" y="1509.16" width="9.29" height="10.37" fill="#F8D2D2"/>
<rect x="343.33" y="1509.16" width="9.29" height="10.37" fill="#E6E6F0"/>
<rect x="352.55" y="1509.16" width="9.29" height="10.37" fill="#191970"/>
<rect x="361.78" y="1509.16" width="9.29" height="10.37" fill="#EEA0A0"/>
<rect x="371" y="1509.16" width="18.51" height="10.37" fill="#F8D2D2"/>
<rect x="389.45" y="1509.16" width="18.51" height="10.37" fill="#FCECEC"/>
<rect x="407.9" y="1509.16" width="9.29" height="10.37" fill="#EEA0A0"/>
<rect x="417.12" y="1509.16" width="9.29" height="10.37" fill="#E26060"/>
<rect x="426.35" y="1509.16" width="9.29" height="10.37" fill="#F8D2D2"/>
<rect x="435.58" y="1509.16" width="9.29" height="10.37" fill="#D40000"/>
<rect x="444.8" y="1509.16" width="9.29" height="10.37" fill="#191970"/>
<rect x="458.28" y="1344.2" width="9.29" height="10.37" fill="#EEA0A0"/>
<rect x="467.5" y="1344.2" width="18.51" height="10.37" fill="#D40000"/>
<rect x="485.95" y="1344.2" width="18.51" height="10.37" fill="#E26060"/>
<rect x="504.4" y="1344.2" width="9.29" height="10.37" fill="#FFFFFF"/>
<rect x="513.62" y="1344.2" width="9.29" height="10.37" fill="#E6E6F0"/>
<rect x="522.85" y="1344.2" width="9.29" height="10.37" fill="#FCECEC"/>
<rect x="532.08" y="1344.2" width="9.29" height="10.37" fill="#EEA0A0"/>
<rect x="541.3" y="1344.2" width="9.29" height="10.37" fill="#D40000"/>
<rect x="550.53" y="1344.2" width="9.29" height="10.37" fill="#E26060"/>
<rect x="559.75" y="1344.2" width="9.29" height="10.37" fill="#D40000"/>
<rect x="568.98" y="1344.2" width="9.29" height="10.37" fill="#191970"/>
<rect x="458.28" y="1354.51" width="9.29" height="10.37" fill="#EEA0A0"/>
<rect x="467.5" y="1354.51" width="18.51" height="10.37" fill="#D40000"/>
<rect x="485.95" y="1354.51" width="9.29" height="10.37" fill="#DB3030"/>
<rect x="495.18" y="1354.51" width="9.29" height="10.37" fill="#E26060"/>
<rect x="504.4" y="1354.51" width="9.29" height="10.37" fill="#E6E6F0"/>
<rect x="513.62" y="1354.51" width="9.29" height="10.37" fill="#FCECEC"/>
<rect x="522.85" y="1354.51" width="9.29" height="10.37" fill="#E6E6F0"/>
<rect x="532.08" y="1354.51" width="9.29" height="10.37" fill="#F8D2D2"/>
<rect x="541.3" y="1354.51" width="9.29" height="10.37" fill="#DB3030"/>
<rect x="550.53" y="1354.51" width="9.29" height="10.37" fill="#E26060"/>
<rect x="559.75" y="1354.51" width="9.29" height="10.37" fill="#D40000"/>
<rect x="568.98" y="1354.51" width="9.29" height="10.37" fill="#191970"/>
<rect x="458.28" y="1364.82" width="9.29" height="10.37" fill="#EEA0A0"/>
<rect x="467.5" y="1364.82" width="18.51" height="10.37" fill="#D40000"/>
<rect x="485.95" y="1364.82" width="9.29" height="10.37" fill="#DB3030"/>
<rect x="495.18" y="1364.82" width="9.29" height="10.37" fill="#E26060"/>
<rect x="504.4" y="1364.82" width="9.29" height="10.37" fill="#E6E6F0"/>
<rect x="513.62" y="1364.82" width="9.29" height="10.37" fill="#FFFFFF"/>
<rect x="522.85" y="1364.82" width="9.29" height="10.37" fill="#E6E6F0"/>
<rect x="532.08" y="1364.82" width="9.29" height="10.37" fill="#F8D2D2"/>
<rect x="541.3" y="1364.82" width="9.29" height="10.37" fill="#DB3030"/>
<rect x="550.53" y="1364.82" width="9.29" height="10.37" fill="#E26060"/>
<rect x="559.75" y="1364.82" width="9.29" height="10.37" fill="#D40000"/>
<rect x="568.98" y="1364.82" width="9.29" height="10.37" fill="#191970"/>
<rect x="458.28" y="1375.13" width="9.29" height="10.37" fill="#EEA0A0"/>
<rect x="467.5" y="1375.13" width="18.51" height="10.37" fill="#D40000"/>
<rect x="485.95" y="1375.13" width="9.29" height="10.37" fill="#DB3030"/>
<rect x="495.18" y="1375.13" width="9.29" height="10.37" fill="#EEA0A0"/>
<rect x="504.4" y="1375.13" width="9.29" height="10.37" fill="#FFFFFF"/>
<rect x="513.62" y="1375.13" width="9.29" height="10.37" fill="#F8D2D2"/>
<rect x="522.85" y="1375.13" width="9.29" height="10.37" fill="#FFFFFF"/>
<rect x="532.08" y="1375.13" width="9.29" height="10.37" fill="#F8D2D2"/>
<rect x="541.3" y="1375.13" width="9.29" height="10.37" fill="#D40000"/>
<rect x="550.53" y="1375.13" width="9.29" height="10.37" fill="#EEA0A0"/>
<rect x="559.75" y="1375.13" width="9.29" height="10.37" fill="#D40000"/>
<rect x="568.98" y="1375.13" width="9.29" height="10.37" fill="#191970"/>
<rect x="458.28" y="1385.44" width="9.29" height="10.37" fill="#EEA0A0"/>
<rect x="467.5" y="1385.44" width="18.51" height="10.37" fill="#D40000"/>
<rect x="485.95" y="1385.44" width="18.51" height="10.37" fill="#E26060"/>
<rect x="504.4" y="1385.44" width="9.29" height="10.37" fill="#E6E6F0"/>
<rect x="513.62" y="1385.44" width="9.29" height="10.37" fill="#FCECEC"/>
<rect x="522.85" y="1385.44" width="9.29" height="10.37" fill="#E6E6F0"/>
<rect x="532.08" y="1385.44" width="9.29" height="10.37" fill="#F8D2D2"/>
<rect x="541.3" y="1385.44" width="9.29" height="10.37" fill="#DB3030"/>
<rect x="550.53" y="1385.44" width="9.29" height="10.37" fill="#E26060"/>
<rect x="559.75" y="1385.44" width="9.29" height="10.37" fill="#D40000"/>
<rect x="568.98" y="1385.44" width="9.29" height="10.37" fill="#191970"/>
<rect x="458.28" y="1395.75" width="9.29" height="10.37" fill="#E26060"/>
<rect x="467.5" y="1395.75" width="9.29" height="10.37" fill="#DB3030"/>
<rect x="476.73" y="1395.75" width="9.29" height="10.37" fill="#D40000"/>
<rect x="485.95" y="1395.75" width="9.29" height="10.37" fill="#DB3030"/>
<rect x="495.18" y="1395.75" width="9.29" height="10.37" fill="#EEA0A0"/>
<rect x="504.4" y="1395.75" width="9.29" height="10.37" fill="#FCECEC"/>
<rect x="513.62" y="1395.75" width="9.29" height="10.37" fill="#F8D2D2"/>
<rect x="522.85" y="1395.75" width="9.29" height="10.37" fill="#E6E6F0"/>
<rect x="532.08" y="1395.75" width="9.29" height="10.37" fill="#F8D2D2"/>
<rect x="541.3" y="1395.75" width="9.29" height="10.37" fill="#DB3030"/>
<rect x="550.53" y="1395.75" width="9.29" height="10.37" fill="#EEA0A0"/>
<rect x="559.75" y="1395.75" width="9.29" height="10.37" fill="#D40000"/>
<rect x="568.98" y="1395.75" width="9.29" height="10.37" fill="#191970"/>
<rect x="458.28" y="1406.06" width="9.29" height="10.37" fill="#E26060"/>
<rect x="467.5" y="1406.06" width="9.29" height="10.37" fill="#DB3030"/>
<rect x="476.73" y="1406.06" width="9.29" height="10.37" fill="#D40000"/>
<rect x="485.95" y="1406.06" width="9.29" height="10.37" fill="#DB3030"/>
<rect x="495.18" y="1406.06" width="9.29" height="10.37" fill="#EEA0A0"/>
<rect x="504.4" y="1406.06" width="9.29" height="10.37" fill="#FCECEC"/>
<rect x="513.62" y="1406.06" width="9.29" height="10.37" fill="#EEA0A0"/>
<rect x="522.85" y="1406.06" width="9.29" height="10.37" fill="#F8D2D2"/>
<rect x="532.08" y="1406.06" width="9.29" height="10.37" fill="#EEA0A0"/>
<rect x="541.3" y="1406.06" width="9.29" height="10.37" fill="#DB3030"/>
<rect x="550.53" y="1406.06" width="9.29" height="10.37" fill="#EEA0A0"/>
<rect x="559.75" y="1406.06" width="9.29" height="10.37" fill="#D40000"/>
<rect x="568.98" y="1406.06" width="9.29" height="10.37" fill="#191970"/>
<rect x="458.28" y="1416.37" width="9.29" height="10.37" fill="#EEA0A0"/>
<rect x="467.5" y="1416.37" width="18.51" height="10.37" fill="#D40000"/>
<rect x="485.95" y="1416.37" width="18.51" height="10.37" fill="#E26060"/>
<rect x="504.4" y="1416.37" width="9.29" height="10.37" fill="#E6E6F0"/>
<rect x="513.62" y="1416.37" width="9.29" height="10.37" fill="#FCECEC"/>
<rect x="522.85" y="1416.37" width="9.29" height="10.37" fill="#FFFFFF"/>
<rect x="532.08" y="1416.37" width="9.29" height="10.37" fill="#F8D2D2"/>
<rect x="541.3" y="1416.37" width="9.29" height="10.37" fill="#DB3030"/>
<rect x="550.53" y="1416.37" width="9.29" height="10.37" fill="#E26060"/>
<rect x="559.75" y="1416.37" width="9.29" height="10.37" fill="#D40000"/>
<rect x="568.98" y="1416.37" width="9.29" height="10.37" fill="#191970"/>
<rect x="458.28" y="1426.68" width="9.29" height="10.37" fill="#E6E6F0"/>
<rect x="467.5" y="1426.68" width="27.73" height="10.37" fill="#D40000"/>
<rect x="495.18" y="1426.68" width="9.29" height="10.37" fill="#FCECEC"/>
<rect x="504.4" y="1426.68" width="9.29" height="10.37" fill="#A0A0CC"/>
<rect x="513.62" y="1426.68" width="9.29" height="10.37" fill="#C6C6E0"/>
<rect x="522.85" y="1426.68" width="9.29" height="10.37" fill="#A0A0CC"/>
<rect x="532.08" y="1426.68" width="9.29" height="10.37" fill="#C6C6E0"/>
<rect x="541.3" y="1426.68" width="9.29" height="10.37" fill="#D40000"/>
<rect x="550.53" y="1426.68" width="9.29" height="10.37" fill="#FCECEC"/>
<rect x="559.75" y="1426.68" width="9.29" height="10.37" fill="#D40000"/>
<rect x="568.98" y="1426.68" width="9.29" height="10.37" fill="#191970"/>
<rect x="458.28" y="1436.99" width="9.29" height="10.37" fill="#EEA0A0"/>
<rect x="467.5" y="1436.99" width="18.51" height="10.37" fill="#D40000"/>
<rect x="485.95" y="1436.99" width="18.51" height="10.37" fill="#E26060"/>
<rect x="504.4" y="1436.99" width="9.29" height="10.37" fill="#E6E6F0"/>
<rect x="513.62" y="1436.99" width="9.29" height="10.37" fill="#FCECEC"/>
<rect x="522.85" y="1436.99" width="9.29" height="10.37" fill="#FFFFFF"/>
<rect x="532.08" y="1436.99" width="9.29" height="10.37" fill="#FCECEC"/>
<rect x="541.3" y="1436.99" width="9.29" height="10.37" fill="#DB3030"/>
<rect x="550.53" y="1436.99" width="9.29" height="10.37" fill="#E26060"/>
<rect x="559.75" y="1436.99" width="9.29" height="10.37" fill="#D40000"/>
<rect x="568.98" y="1436.99" width="9.29" height="10.37" fill="#191970"/>
<rect x="458.28" y="1447.3" width="9.29" height="10.37" fill="#EEA0A0"/>
<rect x="467.5" y="1447.3" width="18.51" height="10.37" fill="#D40000"/>
<rect x="485.95" y="1447.3" width="18.51" height="10.37" fill="#E26060"/>
<rect x="504.4" y="1447.3" width="9.29" height="10.37" fill="#E6E6F0"/>
<rect x="513.62" y="1447.3" width="9.29" height="10.37" fill="#FCECEC"/>
<rect x="522.85" y="1447.3" width="9.29" height="10.37" fill="#FFFFFF"/>
<rect x="532.08" y="1447.3" width="9.29" height="10.37" fill="#FCECEC"/>
<rect x="541.3" y="1447.3" width="9.29" height="10.37" fill="#DB3030"/>
<rect x="550.53" y="1447.3" width="9.29" height="10.37" fill="#E26060"/>
<rect x="559.75" y="1447.3" width="9.29" height="10.37" fill="#D40000"/>
<rect x="568.98" y="1447.3" width="9.29" height="10.37" fill="#191970"/>
<rect x="458.28" y="1457.61" width="9.29" height="10.37" fill="#F8D2D2"/>
<rect x="467.5" y="1457.61" width="18.51" height="10.37" fill="#D40000"/>
<rect x="485.95" y="1457.61" width="18.51" height="10.37" fill="#E26060"/>
<rect x="504.4" y="1457.61" width="9.29" height="10.37" fill="#C6C6E0"/>
<rect x="513.62" y="1457.61" width="9.29" height="10.37" fill="#FCECEC"/>
<rect x="522.85" y="1457.61" width="9.29" height="10.37" fill="#E6E6F0"/>
<rect x="532.08" y="1457.61" width="9.29" height="10.37" fill="#FFFFFF"/>
<rect x="541.3" y="1457.61" width="9.29" height="10.37" fill="#D40000"/>
<rect x="550.53" y="1457.61" width="9.29" height="10.37" fill="#DB3030"/>
<rect x="559.75" y="1457.61" width="9.29" height="10.37" fill="#D40000"/>
<rect x="568.98" y="1457.61" width="9.29" height="10.37" fill="#191970"/>
<rect x="458.28" y="1467.92" width="9.29" height="10.37" fill="#EEA0A0"/>
<rect x="467.5" y="1467.92" width="18.51" height="10.37" fill="#D40000"/>
<rect x="485.95" y="1467.92" width="18.51" height="10.37" fill="#E26060"/>
<rect x="504.4" y="1467.92" width="9.29" height="10.37" fill="#FFFFFF"/>
<rect x="513.62" y="1467.92" width="9.29" height="10.37" fill="#F8D2D2"/>
<rect x="522.85" y="1467.92" width="9.29" height="10.37" fill="#FCECEC"/>
<rect x="532.08" y="1467.92" width="9.29" height="10.37" fill="#F8D2D2"/>
<rect x="541.3" y="1467.92" width="18.51" height="10.37" fill="#E26060"/>
<rect x="559.75" y="1467.92" width="9.29" height="10.37" fill="#D40000"/>
<rect x="568.98" y="1467.92" width="9.29" height="10.37" fill="#191970"/>
<rect x="458.28" y="1478.23" width="9.29" height="10.37" fill="#EEA0A0"/>
<rect x="467.5" y="1478.23" width="18.51" height="10.37" fill="#D40000"/>
<rect x="485.95" y="1478.23" width="18.51" height="10.37" fill="#E26060"/>
<rect x="504.4" y="1478.23" width="9.29" height="10.37" fill="#E6E6F0"/>
<rect x="513.62" y="1478.23" width="9.29" height="10.37" fill="#FCECEC"/>
<rect x="522.85" y="1478.23" width="9.29" height="10.37" fill="#FFFFFF"/>
<rect x="532.08" y="1478.23" width="9.29" height="10.37" fill="#F8D2D2"/>
<rect x="541.3" y="1478.23" width="9.29" height="10.37" fill="#DB3030"/>
<rect x="550.53" y="1478.23" width="9.29" height="10.37" fill="#E26060"/>
<rect x="559.75" y="1478.23" width="9.29" height="10.37" fill="#D40000"/>
<rect x="568.98" y="1478.23" width="9.29" height="10.37" fill="#191970"/>
<rect x="458.28" y="1488.54" width="9.29" height="10.37" fill="#EEA0A0"/>
<rect x="467.5" y="1488.54" width="18.51" height="10.37" fill="#D40000"/>
<rect x="485.95" y="1488.54" width="18.51" height="10.37" fill="#E26060"/>
<rect x="504.4" y="1488.54" width="9.29" height="10.37" fill="#E6E6F0"/>
<rect x="513.62" y="1488.54" width="9.29" height="10.37" fill="#FCECEC"/>
<rect x="522.85" y="1488.54" width="9.29" height="10.37" fill="#FFFFFF"/>
<rect x="532.08" y="1488.54" width="9.29" height="10.37" fill="#FCECEC"/>
<rect x="541.3" y="1488.54" width="9.29" height="10.37" fill="#DB3030"/>
<rect x="550.53" y="1488.54" width="9.29" height="10.37" fill="#E26060"/>
<rect x="559.75" y="1488.54" width="9.29" height="10.37" fill="#D40000"/>
<rect x="568.98" y="1488.54" width="9.29" height="10.37" fill="#191970"/>
<rect x="458.28" y="1498.85" width="9.29" height="10.37" fill="#EEA0A0"/>
<rect x="467.5" y="1498.85" width="18.51" height="10.37" fill="#D40000"/>
<rect x="485.95" y="1498.85" width="18.51" height="10.37" fill="#E26060"/>
<rect x="504.4" y="1498.85" width="9.29" height="10.37" fill="#E6E6F0"/>
<rect x="513.62" y="1498.85" width="9.29" height="10.37" fill="#FCECEC"/>
<rect x="522.85" y="1498.85" width="9.29" height="10.37" fill="#FFFFFF"/>
<rect x="532.08" y="1498.85" width="9.29" height="10.37" fill="#FCECEC"/>
<rect x="541.3" y="1498.85" width="9.29" height="10.37" fill="#DB3030"/>
<rect x="550.53" y="1498.85" width="9.29" height="10.37" fill="#E26060"/>
<rect x="559.75" y="1498.85" width="9.29" height="10.37" fill="#D40000"/>
<rect x="568.98" y="1498.85" width="9.29" height="10.37" fill="#191970"/>
<rect x="458.28" y="1509.16" width="9.29" height="10.37" fill="#E26060"/>
<rect x="467.5" y="1509.16" width="9.29" height="10.37" fill="#DB3030"/>
<rect x="476.73" y="1509.16" width="9.29" height="10.37" fill="#D40000"/>
<rect x="485.95" y="1509.16" width="18.51" height="10.37" fill="#E26060"/>
<rect x="504.4" y="1509.16" width="9.29" height="10.37" fill="#FCECEC"/>
<rect x="513.62" y="1509.16" width="27.73" height="10.37" fill="#F8D2D2"/>
<rect x="541.3" y="1509.16" width="18.51" height="10.37" fill="#E26060"/>
<rect x="559.75" y="1509.16" width="9.29" height="10.37" fill="#D40000"/>
<rect x="568.98" y="1509.16" width="9.29" height="10.37" fill="#191970"/>
<rect x="582.45" y="1344.2" width="138.38" height="175.27" fill="#E5E5E5"/>
<rect x="725.08" y="1344.2" width="138.38" height="175.27" fill="#E5E5E5"/>
<text x="866.6" y="1353.06" font-size="10.25" transform="rotate(0.03 866.6 1353.06)">ko00780| Biotin metabolism</text>
<text x="866.6" y="1363.37" font-size="10.25" transform="rotate(0.03 866.6 1363.37)">ko00670| One carbon pool by folate</text>
<text x="866.6" y="1373.68" font-size="10.25" transform="rotate(0.03 866.6 1373.68)">ko00900| Terpenoid backbone biosynthesis</text>
<text x="866.6" y="1383.99" font-size="10.25" transform="rotate(0.03 866.6 1383.99)">ko00400| Phenylalanine, tyrosine and tryptophan biosynthesis</text>
<text x="866.6" y="1394.3" font-size="10.25" transform="rotate(0.03 866.6 1394.3)">ko00061| Fatty acid biosynthesis</text>
<text x="866.6" y="1404.61" font-size="10.25" transform="rotate(0.03 866.6 1404.61)">ko00270| Cysteine and methionine metabolism</text>
<text x="866.6" y="1414.92" font-size="10.25" transform="rotate(0.03 866.6 1414.92)">ko00360| Phenylalanine metabolism</text>
<text x="866.6" y="1425.23" font-size="10.25" transform="rotate(0.03 866.6 1425.23)">ko00908| Zeatin biosynthesis</text>
<text x="866.6" y="1435.54" font-size="10.25" transform="rotate(0.03 866.6 1435.54)">ko00920| Sulfur metabolism</text>
<text x="866.6" y="1445.85" font-size="10.25" transform="rotate(0.03 866.6 1445.85)">ko01040| Biosynthesis of unsaturated fatty acids</text>
<text x="866.6" y="1456.16" font-size="10.25" transform="rotate(0.03 866.6 1456.16)">ko00440| Phosphonate and phosphinate metabolism</text>
<text x="866.6" y="1466.47" font-size="10.25" transform="rotate(0.03 866.6 1466.47)">ko03010| Ribosome</text>
<text x="866.6" y="1476.78" font-size="10.25" transform="rotate(0.03 866.6 1476.78)">ko03060| Protein export</text>
<text x="866.6" y="1487.09" font-size="10.25" transform="rotate(0.03 866.6 1487.09)">ko03050| Proteasome</text>
<text x="866.6" y="1497.4" font-size="10.25" transform="rotate(0.03 866.6 1497.4)">ko03008| Ribosome biogenesis in eukaryotes</text>
<text x="866.6" y="1507.71" font-size="10.25" transform="rotate(0.03 866.6 1507.71)">ko04141| Protein processing in endoplasmic reticulum</text>
<text x="866.6" y="1518.02" font-size="10.25" transform="rotate(0.03 866.6 1518.02)">ko04112| Cell cycle − Caulobacter</text>
<rect x="321.2" y="1523.47" width="9.4" height="10.01" fill="#6490E8"/>
<rect x="321.2" y="1533.42" width="9.4" height="10.01" fill="#6490E8"/>
<rect x="334.1" y="1523.47" width="9.29" height="10.01" fill="#6A6AAA"/>
<rect x="343.33" y="1523.47" width="9.29" height="10.01" fill="#EEA0A0"/>
<rect x="352.55" y="1523.47" width="9.29" height="10.01" fill="#191970"/>
<rect x="361.78" y="1523.47" width="9.29" height="10.01" fill="#DB3030"/>
<rect x="371" y="1523.47" width="9.29" height="10.01" fill="#E26060"/>
<rect x="380.23" y="1523.47" width="9.29" height="10.01" fill="#C6C6E0"/>
<rect x="389.45" y="1523.47" width="9.29" height="10.01" fill="#F8D2D2"/>
<rect x="398.68" y="1523.47" width="9.29" height="10.01" fill="#6A6AAA"/>
<rect x="407.9" y="1523.47" width="9.29" height="10.01" fill="#C6C6E0"/>
<rect x="417.12" y="1523.47" width="9.29" height="10.01" fill="#D40000"/>
<rect x="426.35" y="1523.47" width="9.29" height="10.01" fill="#A0A0CC"/>
<rect x="435.58" y="1523.47" width="9.29" height="10.01" fill="#C6C6E0"/>
<rect x="444.8" y="1523.47" width="9.29" height="10.01" fill="#191970"/>
<rect x="334.1" y="1533.42" width="18.51" height="10.01" fill="#EEA0A0"/>
<rect x="352.55" y="1533.42" width="9.29" height="10.01" fill="#191970"/>
<rect x="361.78" y="1533.42" width="9.29" height="10.01" fill="#EEA0A0"/>
<rect x="371" y="1533.42" width="36.96" height="10.01" fill="#F8D2D2"/>
<rect x="407.9" y="1533.42" width="9.29" height="10.01" fill="#EEA0A0"/>
<rect x="417.12" y="1533.42" width="9.29" height="10.01" fill="#DB3030"/>
<rect x="426.35" y="1533.42" width="9.29" height="10.01" fill="#F8D2D2"/>
<rect x="435.58" y="1533.42" width="9.29" height="10.01" fill="#DB3030"/>
<rect x="444.8" y="1533.42" width="9.29" height="10.01" fill="#191970"/>
<rect x="458.28" y="1523.47" width="9.29" height="10.01" fill="#E6E6F0"/>
<rect x="467.5" y="1523.47" width="27.73" height="10.01" fill="#D40000"/>
<rect x="495.18" y="1523.47" width="9.29" height="10.01" fill="#DB3030"/>
<rect x="504.4" y="1523.47" width="9.29" height="10.01" fill="#EEA0A0"/>
<rect x="513.62" y="1523.47" width="18.51" height="10.01" fill="#FFFFFF"/>
<rect x="532.08" y="1523.47" width="9.29" height="10.01" fill="#DB3030"/>
<rect x="541.3" y="1523.47" width="9.29" height="10.01" fill="#D40000"/>
<rect x="550.53" y="1523.47" width="9.29" height="10.01" fill="#EEA0A0"/>
<rect x="559.75" y="1523.47" width="9.29" height="10.01" fill="#D40000"/>
<rect x="568.98" y="1523.47" width="9.29" height="10.01" fill="#191970"/>
<rect x="458.28" y="1533.42" width="18.51" height="10.01" fill="#DB3030"/>
<rect x="476.73" y="1533.42" width="9.29" height="10.01" fill="#D40000"/>
<rect x="485.95" y="1533.42" width="9.29" height="10.01" fill="#DB3030"/>
<rect x="495.18" y="1533.42" width="9.29" height="10.01" fill="#EEA0A0"/>
<rect x="504.4" y="1533.42" width="9.29" height="10.01" fill="#FCECEC"/>
<rect x="513.62" y="1533.42" width="9.29" height="10.01" fill="#F8D2D2"/>
<rect x="522.85" y="1533.42" width="9.29" height="10.01" fill="#FCECEC"/>
<rect x="532.08" y="1533.42" width="9.29" height="10.01" fill="#EEA0A0"/>
<rect x="541.3" y="1533.42" width="9.29" height="10.01" fill="#DB3030"/>
<rect x="550.53" y="1533.42" width="9.29" height="10.01" fill="#EEA0A0"/>
<rect x="559.75" y="1533.42" width="9.29" height="10.01" fill="#D40000"/>
<rect x="568.98" y="1533.42" width="9.29" height="10.01" fill="#191970"/>
<rect x="582.45" y="1523.47" width="9.29" height="10.01" fill="#FCECEC"/>
<rect x="591.68" y="1523.47" width="9.29" height="10.01" fill="#EEA0A0"/>
<rect x="600.9" y="1523.47" width="9.29" height="10.01" fill="#191970"/>
<rect x="610.12" y="1523.47" width="9.29" height="10.01" fill="#DB3030"/>
<rect x="619.35" y="1523.47" width="9.29" height="10.01" fill="#F8D2D2"/>
<rect x="628.58" y="1523.47" width="9.29" height="10.01" fill="#6A6AAA"/>
<rect x="637.8" y="1523.47" width="9.29" height="10.01" fill="#DB3030"/>
<rect x="647.03" y="1523.47" width="9.29" height="10.01" fill="#E6E6F0"/>
<rect x="656.25" y="1523.47" width="9.29" height="10.01" fill="#191970"/>
<rect x="665.48" y="1523.47" width="9.29" height="10.01" fill="#D40000"/>
<rect x="674.7" y="1523.47" width="9.29" height="10.01" fill="#FCECEC"/>
<rect x="683.93" y="1523.47" width="9.29" height="10.01" fill="#191970"/>
<rect x="693.15" y="1523.47" width="9.29" height="10.01" fill="#C6C6E0"/>
<rect x="702.38" y="1523.47" width="9.29" height="10.01" fill="#E26060"/>
<rect x="711.6" y="1523.47" width="9.29" height="10.01" fill="#FCECEC"/>
<rect x="582.45" y="1533.42" width="18.51" height="10.01" fill="#F8D2D2"/>
<rect x="600.9" y="1533.42" width="9.29" height="10.01" fill="#191970"/>
<rect x="610.12" y="1533.42" width="27.73" height="10.01" fill="#F8D2D2"/>
<rect x="637.8" y="1533.42" width="9.29" height="10.01" fill="#E26060"/>
<rect x="647.03" y="1533.42" width="9.29" height="10.01" fill="#F8D2D2"/>
<rect x="656.25" y="1533.42" width="9.29" height="10.01" fill="#191970"/>
<rect x="665.48" y="1533.42" width="9.29" height="10.01" fill="#DB3030"/>
<rect x="674.7" y="1533.42" width="9.29" height="10.01" fill="#F8D2D2"/>
<rect x="683.93" y="1533.42" width="9.29" height="10.01" fill="#191970"/>
<rect x="693.15" y="1533.42" width="18.51" height="10.01" fill="#DB3030"/>
<rect x="711.6" y="1533.42" width="9.29" height="10.01" fill="#EEA0A0"/>
<rect x="725.08" y="1523.47" width="9.29" height="10.01" fill="#FCECEC"/>
<rect x="734.3" y="1523.47" width="9.29" height="10.01" fill="#F8D2D2"/>
<rect x="743.53" y="1523.47" width="9.29" height="10.01" fill="#EEA0A0"/>
<rect x="752.75" y="1523.47" width="9.29" height="10.01" fill="#D40000"/>
<rect x="761.98" y="1523.47" width="9.29" height="10.01" fill="#E26060"/>
<rect x="771.2" y="1523.47" width="9.29" height="10.01" fill="#FFFFFF"/>
<rect x="780.43" y="1523.47" width="9.29" height="10.01" fill="#DB3030"/>
<rect x="789.65" y="1523.47" width="9.29" height="10.01" fill="#EEA0A0"/>
<rect x="798.88" y="1523.47" width="9.29" height="10.01" fill="#C6C6E0"/>
<rect x="808.1" y="1523.47" width="9.29" height="10.01" fill="#D40000"/>
<rect x="817.33" y="1523.47" width="9.29" height="10.01" fill="#191970"/>
<rect x="826.55" y="1523.47" width="9.29" height="10.01" fill="#E6E6F0"/>
<rect x="835.78" y="1523.47" width="18.51" height="10.01" fill="#DB3030"/>
<rect x="854.23" y="1523.47" width="9.29" height="10.01" fill="#EEA0A0"/>
<rect x="725.08" y="1533.42" width="27.73" height="10.01" fill="#F8D2D2"/>
<rect x="752.75" y="1533.42" width="9.29" height="10.01" fill="#D40000"/>
<rect x="761.98" y="1533.42" width="9.29" height="10.01" fill="#EEA0A0"/>
<rect x="771.2" y="1533.42" width="9.29" height="10.01" fill="#F8D2D2"/>
<rect x="780.43" y="1533.42" width="9.29" height="10.01" fill="#DB3030"/>
<rect x="789.65" y="1533.42" width="18.51" height="10.01" fill="#F8D2D2"/>
<rect x="808.1" y="1533.42" width="9.29" height="10.01" fill="#D40000"/>
<rect x="817.33" y="1533.42" width="9.29" height="10.01" fill="#191970"/>
<rect x="826.55" y="1533.42" width="9.29" height="10.01" fill="#FCECEC"/>
<rect x="835.78" y="1533.42" width="18.51" height="10.01" fill="#DB3030"/>
<rect x="854.23" y="1533.42" width="9.29" height="10.01" fill="#E26060"/>
<text x="866.6" y="1532.14" font-size="10.25" transform="rotate(0.03 866.6 1532.14)">ko00473| D−Alanine metabolism</text>
<text x="866.6" y="1542.1" font-size="10.25" transform="rotate(0.03 866.6 1542.1)">ko00790| Folate biosynthesis</text>
<rect x="456.2" y="1343.7" width="123.8" height="199" fill="none" stroke="#000" stroke-width="4.1"/>
<rect x="724.8" y="1521.3" width="140.5" height="23.4" fill="none" stroke="#000" stroke-width="4.1"/>
<text x="336.11" y="1546.57" font-size="7.2" fill="#111" transform="rotate(90.03 336.11 1546.57)">SLS01</text>
<text x="345.34" y="1546.57" font-size="7.2" fill="#111" transform="rotate(90.03 345.34 1546.57)">SLS02</text>
<text x="354.56" y="1546.57" font-size="7.2" fill="#111" transform="rotate(90.03 354.56 1546.57)">SLS03</text>
<text x="363.79" y="1546.57" font-size="7.2" fill="#111" transform="rotate(90.03 363.79 1546.57)">SLS04</text>
<text x="373.01" y="1546.57" font-size="7.2" fill="#111" transform="rotate(90.03 373.01 1546.57)">SLS05</text>
<text x="382.24" y="1546.57" font-size="7.2" fill="#111" transform="rotate(90.03 382.24 1546.57)">SLS06</text>
<text x="391.46" y="1546.57" font-size="7.2" fill="#111" transform="rotate(90.03 391.46 1546.57)">SLS08</text>
<text x="400.69" y="1546.57" font-size="7.2" fill="#111" transform="rotate(90.03 400.69 1546.57)">SLS12</text>
<text x="409.91" y="1546.57" font-size="7.2" fill="#111" transform="rotate(90.03 409.91 1546.57)">SLS16</text>
<text x="419.14" y="1546.57" font-size="7.2" fill="#111" transform="rotate(90.03 419.14 1546.57)">SLS17</text>
<text x="428.36" y="1546.57" font-size="7.2" fill="#111" transform="rotate(90.03 428.36 1546.57)">SLS18</text>
<text x="437.59" y="1546.57" font-size="7.2" fill="#111" transform="rotate(90.03 437.59 1546.57)">SLS19</text>
<text x="446.81" y="1546.57" font-size="7.2" fill="#111" transform="rotate(90.03 446.81 1546.57)">SLS20</text>
<text x="460.29" y="1546.57" font-size="7.2" fill="#111" transform="rotate(90.03 460.29 1546.57)">SCS01</text>
<text x="469.51" y="1546.57" font-size="7.2" fill="#111" transform="rotate(90.03 469.51 1546.57)">SCS02</text>
<text x="478.74" y="1546.57" font-size="7.2" fill="#111" transform="rotate(90.03 478.74 1546.57)">SCS03</text>
<text x="487.96" y="1546.57" font-size="7.2" fill="#111" transform="rotate(90.03 487.96 1546.57)">SCS04</text>
<text x="497.19" y="1546.57" font-size="7.2" fill="#111" transform="rotate(90.03 497.19 1546.57)">SCS05</text>
<text x="506.41" y="1546.57" font-size="7.2" fill="#111" transform="rotate(90.03 506.41 1546.57)">SCS06</text>
<text x="515.64" y="1546.57" font-size="7.2" fill="#111" transform="rotate(90.03 515.64 1546.57)">SCS08</text>
<text x="524.86" y="1546.57" font-size="7.2" fill="#111" transform="rotate(90.03 524.86 1546.57)">SCS12</text>
<text x="534.09" y="1546.57" font-size="7.2" fill="#111" transform="rotate(90.03 534.09 1546.57)">SCS16</text>
<text x="543.31" y="1546.57" font-size="7.2" fill="#111" transform="rotate(90.03 543.31 1546.57)">SCS17</text>
<text x="552.54" y="1546.57" font-size="7.2" fill="#111" transform="rotate(90.03 552.54 1546.57)">SCS18</text>
<text x="561.76" y="1546.57" font-size="7.2" fill="#111" transform="rotate(90.03 561.76 1546.57)">SCS19</text>
<text x="570.99" y="1546.57" font-size="7.2" fill="#111" transform="rotate(90.03 570.99 1546.57)">SCS20</text>
<text x="584.46" y="1546.57" font-size="7.2" fill="#111" transform="rotate(90.03 584.46 1546.57)">BLS01</text>
<text x="593.69" y="1546.57" font-size="7.2" fill="#111" transform="rotate(90.03 593.69 1546.57)">BLS02</text>
<text x="602.91" y="1546.57" font-size="7.2" fill="#111" transform="rotate(90.03 602.91 1546.57)">BLS03</text>
<text x="612.14" y="1546.57" font-size="7.2" fill="#111" transform="rotate(90.03 612.14 1546.57)">BLS04</text>
<text x="621.36" y="1546.57" font-size="7.2" fill="#111" transform="rotate(90.03 621.36 1546.57)">BLS05</text>
<text x="630.59" y="1546.57" font-size="7.2" fill="#111" transform="rotate(90.03 630.59 1546.57)">BLS06</text>
<text x="639.81" y="1546.57" font-size="7.2" fill="#111" transform="rotate(90.03 639.81 1546.57)">BLS07</text>
<text x="649.04" y="1546.57" font-size="7.2" fill="#111" transform="rotate(90.03 649.04 1546.57)">BLS08</text>
<text x="658.26" y="1546.57" font-size="7.2" fill="#111" transform="rotate(90.03 658.26 1546.57)">BLS09</text>
<text x="667.49" y="1546.57" font-size="7.2" fill="#111" transform="rotate(90.03 667.49 1546.57)">BLS10</text>
<text x="676.71" y="1546.57" font-size="7.2" fill="#111" transform="rotate(90.03 676.71 1546.57)">BLS11</text>
<text x="685.94" y="1546.57" font-size="7.2" fill="#111" transform="rotate(90.03 685.94 1546.57)">BLS12</text>
<text x="695.16" y="1546.57" font-size="7.2" fill="#111" transform="rotate(90.03 695.16 1546.57)">BLS13</text>
<text x="704.39" y="1546.57" font-size="7.2" fill="#111" transform="rotate(90.03 704.39 1546.57)">BLS14</text>
<text x="713.61" y="1546.57" font-size="7.2" fill="#111" transform="rotate(90.03 713.61 1546.57)">BLS15</text>
<text x="727.09" y="1546.57" font-size="7.2" fill="#111" transform="rotate(90.03 727.09 1546.57)">BCS01</text>
<text x="736.31" y="1546.57" font-size="7.2" fill="#111" transform="rotate(90.03 736.31 1546.57)">BCS02</text>
<text x="745.54" y="1546.57" font-size="7.2" fill="#111" transform="rotate(90.03 745.54 1546.57)">BCS03</text>
<text x="754.76" y="1546.57" font-size="7.2" fill="#111" transform="rotate(90.03 754.76 1546.57)">BCS04</text>
<text x="763.99" y="1546.57" font-size="7.2" fill="#111" transform="rotate(90.03 763.99 1546.57)">BCS05</text>
<text x="773.21" y="1546.57" font-size="7.2" fill="#111" transform="rotate(90.03 773.21 1546.57)">BCS06</text>
<text x="782.44" y="1546.57" font-size="7.2" fill="#111" transform="rotate(90.03 782.44 1546.57)">BCS07</text>
<text x="791.66" y="1546.57" font-size="7.2" fill="#111" transform="rotate(90.03 791.66 1546.57)">BCS08</text>
<text x="800.89" y="1546.57" font-size="7.2" fill="#111" transform="rotate(90.03 800.89 1546.57)">BCS09</text>
<text x="810.11" y="1546.57" font-size="7.2" fill="#111" transform="rotate(90.03 810.11 1546.57)">BCS10</text>
<text x="819.34" y="1546.57" font-size="7.2" fill="#111" transform="rotate(90.03 819.34 1546.57)">BCS11</text>
<text x="828.56" y="1546.57" font-size="7.2" fill="#111" transform="rotate(90.03 828.56 1546.57)">BCS12</text>
<text x="837.79" y="1546.57" font-size="7.2" fill="#111" transform="rotate(90.03 837.79 1546.57)">BCS13</text>
<text x="847.01" y="1546.57" font-size="7.2" fill="#111" transform="rotate(90.03 847.01 1546.57)">BCS14</text>
<text x="856.24" y="1546.57" font-size="7.2" fill="#111" transform="rotate(90.03 856.24 1546.57)">BCS15</text>
<path d="M310.8 1345.8 L298.6 1346.4 L298.6 1514 L310.8 1514" fill="none" stroke="#000" stroke-width="2.6" stroke-linejoin="miter"/>
<path d="M310.8 1524.3 L298.6 1524.9 L298.6 1545.2 L310.8 1545.2" fill="none" stroke="#000" stroke-width="3.0" stroke-linejoin="miter"/>
<text x="248.8" y="1425.8" font-size="24.45" text-anchor="middle" transform="rotate(-89.97 248.8 1425.8)">Swab</text>
<text x="279.4" y="1423" font-size="24.45" text-anchor="middle" transform="rotate(-89.97 279.4 1423)">samples only</text>
<text x="248.8" y="1561" font-size="24.45" text-anchor="middle" transform="rotate(-89.97 248.8 1561)">Both</text>
<text x="279.4" y="1560.5" font-size="24.45" text-anchor="middle" transform="rotate(-89.97 279.4 1560.5)">samples</text>
<defs><linearGradient id="gC" x1="0" y1="0" x2="0" y2="1"><stop offset="0" stop-color="#DB3636"/><stop offset="0.36" stop-color="#DC3A3A"/><stop offset="0.4" stop-color="#E45C5C"/><stop offset="0.45" stop-color="#F2B4B4"/><stop offset="0.49" stop-color="#FCF0F0"/><stop offset="0.505" stop-color="#FFFFFF"/><stop offset="0.53" stop-color="#E4E4F0"/><stop offset="0.57" stop-color="#A9A9CE"/><stop offset="0.61" stop-color="#5C5CA0"/><stop offset="0.65" stop-color="#4C4C95"/><stop offset="1" stop-color="#4B4B93"/></linearGradient></defs>
<rect x="1155.1" y="1317.7" width="10.7" height="154.1" fill="url(#gC)"/>
<text x="1169.6" y="1340.4" font-size="10.2" transform="rotate(0.03 1169.6 1340.4)">2</text>
<text x="1169.6" y="1369.6" font-size="10.2" transform="rotate(0.03 1169.6 1369.6)">1</text>
<text x="1169.6" y="1398.8" font-size="10.2" transform="rotate(0.03 1169.6 1398.8)">0</text>
<text x="1169.6" y="1427.5" font-size="10.2" transform="rotate(0.03 1169.6 1427.5)">−1</text>
<text x="1169.6" y="1456.4" font-size="10.2" transform="rotate(0.03 1169.6 1456.4)">−2</text>
<text x="1185" y="1325.2" font-size="10" transform="rotate(0.03 1185 1325.2)" font-weight="bold">Region</text>
<rect x="1185" y="1328.9" width="14.6" height="14.67" fill="#F2695D"/>
<text x="1202.6" y="1339.81" font-size="10.2" transform="rotate(0.03 1202.6 1339.81)">Lesion</text>
<rect x="1185" y="1343.52" width="14.6" height="14.67" fill="#7CCBC3"/>
<text x="1202.6" y="1354.43" font-size="10.2" transform="rotate(0.03 1202.6 1354.43)">Control</text>
<text x="1185" y="1376.7" font-size="10" transform="rotate(0.03 1185 1376.7)" font-weight="bold">Sampling</text>
<rect x="1185" y="1380.4" width="14.6" height="14.67" fill="#E2C720"/>
<text x="1202.6" y="1391.31" font-size="10.2" transform="rotate(0.03 1202.6 1391.31)">Swab</text>
<rect x="1185" y="1395.02" width="14.6" height="14.67" fill="#A50FE8"/>
<text x="1202.6" y="1405.93" font-size="10.2" transform="rotate(0.03 1202.6 1405.93)">Biopsy</text>
<text x="1185" y="1429.3" font-size="10" transform="rotate(0.03 1185 1429.3)" font-weight="bold">Level1</text>
<rect x="1185" y="1433.1" width="14.6" height="14.67" fill="#F01E96"/>
<text x="1202.6" y="1443.91" font-size="10.25" transform="rotate(0.03 1202.6 1443.91)">Cellular Processes</text>
<rect x="1185" y="1447.72" width="14.6" height="14.67" fill="#F2CB2E"/>
<text x="1202.6" y="1458.53" font-size="10.25" transform="rotate(0.03 1202.6 1458.53)">Environmental Information Processing</text>
<rect x="1185" y="1462.34" width="14.6" height="14.67" fill="#78EC66"/>
<text x="1202.6" y="1473.15" font-size="10.25" transform="rotate(0.03 1202.6 1473.15)">Genetic Information Processing</text>
<rect x="1185" y="1476.96" width="14.6" height="14.67" fill="#9AF4FA"/>
<text x="1202.6" y="1487.77" font-size="10.25" transform="rotate(0.03 1202.6 1487.77)">Human Diseases</text>
<rect x="1185" y="1491.58" width="14.6" height="14.67" fill="#6490E8"/>
<text x="1202.6" y="1502.39" font-size="10.25" transform="rotate(0.03 1202.6 1502.39)">Metabolism</text>
<rect x="1185" y="1506.2" width="14.6" height="14.67" fill="#696969"/>
<text x="1202.6" y="1517.01" font-size="10.25" transform="rotate(0.03 1202.6 1517.01)">Organismal Systems</text>
</g>
<line x1="298.4" y1="1516.6" x2="311.6" y2="1516.6" stroke="#b5b5b5" stroke-width="2"/>
</svg>
</body>
</html>
